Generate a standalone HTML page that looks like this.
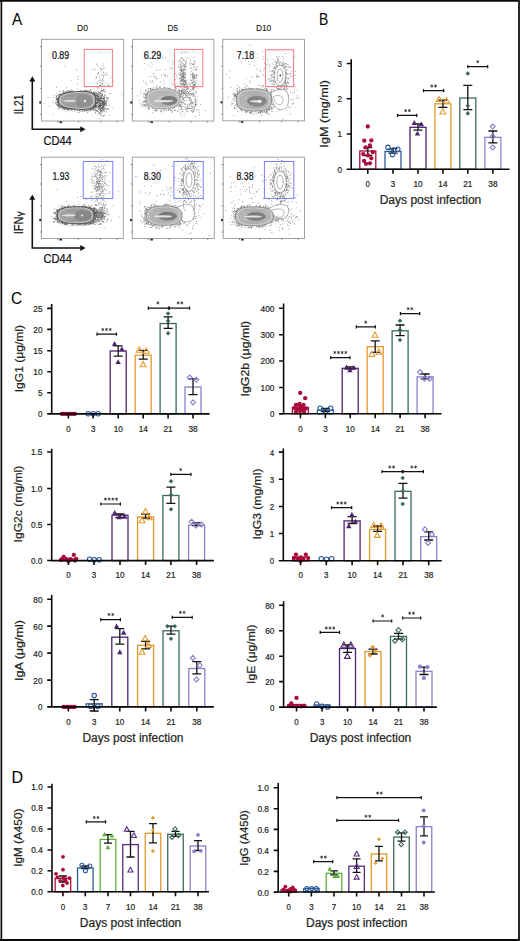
<!DOCTYPE html><html><head><meta charset="utf-8"><style>html,body{margin:0;padding:0;background:#fff;overflow:hidden}svg{display:block}text{stroke:currentColor;stroke-width:.22px;paint-order:stroke}</style></head><body><svg width="520" height="941" viewBox="0 0 520 941" font-family='"Liberation Sans", sans-serif' fill="#231f20" color="#231f20"><rect width="520" height="941" fill="#fff"/><rect x="41.5" y="39.3" width="82.2" height="81.7" fill="#fff"/><rect x="132.5" y="39.3" width="81.4" height="81.7" fill="#fff"/><rect x="222.8" y="39.3" width="81.7" height="81.5" fill="#fff"/><rect x="41.5" y="157.2" width="81.8" height="81.3" fill="#fff"/><rect x="132.3" y="157.2" width="82" height="81.3" fill="#fff"/><rect x="223.2" y="157.2" width="81.3" height="81.3" fill="#fff"/><path d="M96.3 82.2h0.85v0.85h-0.85zM103.0 72.4h0.85v0.85h-0.85zM96.0 77.3h0.85v0.85h-0.85zM101.4 90.1h0.85v0.85h-0.85zM96.4 63.8h0.85v0.85h-0.85zM102.1 83.2h0.85v0.85h-0.85zM104.6 88.8h0.85v0.85h-0.85zM99.7 75.0h0.85v0.85h-0.85zM107.7 74.8h0.85v0.85h-0.85zM97.6 65.5h0.85v0.85h-0.85zM100.3 79.6h0.85v0.85h-0.85zM99.0 77.3h0.85v0.85h-0.85zM100.8 85.6h0.85v0.85h-0.85zM103.3 80.3h0.85v0.85h-0.85zM94.6 85.7h0.85v0.85h-0.85zM95.7 76.1h0.85v0.85h-0.85zM95.6 78.0h0.85v0.85h-0.85zM97.7 80.4h0.85v0.85h-0.85zM109.9 77.5h0.85v0.85h-0.85zM102.5 63.4h0.85v0.85h-0.85zM99.1 85.3h0.85v0.85h-0.85zM99.7 82.1h0.85v0.85h-0.85zM100.3 66.9h0.85v0.85h-0.85zM101.7 69.1h0.85v0.85h-0.85zM105.6 72.4h0.85v0.85h-0.85zM102.1 78.0h0.85v0.85h-0.85zM102.9 71.4h0.85v0.85h-0.85zM103.0 76.6h0.85v0.85h-0.85zM103.8 84.9h0.85v0.85h-0.85zM100.4 69.4h0.85v0.85h-0.85zM102.3 83.1h0.85v0.85h-0.85zM104.9 73.9h0.85v0.85h-0.85zM101.7 83.6h0.85v0.85h-0.85zM100.8 80.3h0.85v0.85h-0.85zM100.5 71.4h0.85v0.85h-0.85zM97.0 73.6h0.85v0.85h-0.85zM101.8 94.6h0.85v0.85h-0.85zM102.9 89.6h0.85v0.85h-0.85zM102.3 85.7h0.85v0.85h-0.85zM100.6 86.5h0.85v0.85h-0.85zM105.3 74.4h0.85v0.85h-0.85zM97.9 99.6h0.85v0.85h-0.85zM100.7 88.7h0.85v0.85h-0.85zM102.6 65.5h0.85v0.85h-0.85zM107.3 97.5h0.85v0.85h-0.85zM100.5 86.3h0.85v0.85h-0.85zM100.4 68.3h0.85v0.85h-0.85zM99.7 82.1h0.85v0.85h-0.85zM103.3 85.8h0.85v0.85h-0.85zM100.2 92.9h0.85v0.85h-0.85zM97.7 86.7h0.85v0.85h-0.85zM103.3 74.8h0.85v0.85h-0.85zM94.6 68.0h0.85v0.85h-0.85zM100.7 83.8h0.85v0.85h-0.85zM104.6 67.0h0.85v0.85h-0.85zM100.0 85.1h0.85v0.85h-0.85zM99.5 51.9h0.85v0.85h-0.85zM102.4 103.4h0.85v0.85h-0.85zM103.0 67.9h0.85v0.85h-0.85zM98.8 80.4h0.85v0.85h-0.85zM107.5 84.8h0.85v0.85h-0.85zM100.3 95.1h0.85v0.85h-0.85zM99.8 98.5h0.85v0.85h-0.85zM97.9 72.8h0.85v0.85h-0.85zM102.2 93.7h0.85v0.85h-0.85zM102.0 81.3h0.85v0.85h-0.85zM94.5 70.2h0.85v0.85h-0.85zM98.2 72.1h0.85v0.85h-0.85zM101.8 74.3h0.85v0.85h-0.85zM102.4 78.9h0.85v0.85h-0.85zM73.3 96.4h0.85v0.85h-0.85zM88.6 105.3h0.85v0.85h-0.85zM70.4 92.2h0.85v0.85h-0.85zM52.7 114.2h0.85v0.85h-0.85zM109.0 92.9h0.85v0.85h-0.85zM70.4 80.2h0.85v0.85h-0.85zM83.4 97.5h0.85v0.85h-0.85zM64.4 65.7h0.85v0.85h-0.85zM108.2 97.3h0.85v0.85h-0.85zM47.8 97.2h0.85v0.85h-0.85zM102.4 101.9h0.85v0.85h-0.85zM76.5 69.3h0.85v0.85h-0.85zM77.5 76.3h0.85v0.85h-0.85zM91.9 69.3h0.85v0.85h-0.85zM61.8 109.6h0.85v0.85h-0.85zM112.9 80.8h0.85v0.85h-0.85zM49.3 105.6h0.85v0.85h-0.85zM97.1 83.2h0.85v0.85h-0.85zM66.1 86.7h0.85v0.85h-0.85zM56.2 86.8h0.85v0.85h-0.85zM105.0 103.3h0.85v0.85h-0.85zM121.1 94.0h0.85v0.85h-0.85zM77.3 83.2h0.85v0.85h-0.85zM77.5 79.2h0.85v0.85h-0.85zM44.5 103.4h0.85v0.85h-0.85zM108.8 105.0h0.85v0.85h-0.85zM106.6 98.0h0.85v0.85h-0.85zM65.6 96.0h0.85v0.85h-0.85z" fill="#333" fill-opacity=".6"/><path d="M67.6 91.4h0.85v0.85h-0.85zM96.3 102.7h0.85v0.85h-0.85zM86.7 110.2h0.85v0.85h-0.85zM94.0 93.5h0.85v0.85h-0.85zM87.2 112.3h0.85v0.85h-0.85zM59.3 106.7h0.85v0.85h-0.85zM94.3 110.7h0.85v0.85h-0.85zM98.2 96.0h0.85v0.85h-0.85zM59.1 102.9h0.85v0.85h-0.85zM56.0 102.2h0.85v0.85h-0.85zM96.7 99.6h0.85v0.85h-0.85zM96.0 103.4h0.85v0.85h-0.85zM68.1 108.7h0.85v0.85h-0.85zM97.9 102.7h0.85v0.85h-0.85zM93.0 108.9h0.85v0.85h-0.85zM64.6 91.6h0.85v0.85h-0.85zM67.8 92.4h0.85v0.85h-0.85zM58.1 102.1h0.85v0.85h-0.85zM73.0 109.0h0.85v0.85h-0.85zM77.8 92.1h0.85v0.85h-0.85zM98.5 92.4h0.85v0.85h-0.85zM56.7 102.7h0.85v0.85h-0.85zM58.2 108.4h0.85v0.85h-0.85zM52.6 103.4h0.85v0.85h-0.85zM70.7 91.3h0.85v0.85h-0.85zM96.1 93.1h0.85v0.85h-0.85zM57.6 98.8h0.85v0.85h-0.85zM63.3 108.6h0.85v0.85h-0.85zM58.0 98.2h0.85v0.85h-0.85zM95.5 105.1h0.85v0.85h-0.85zM65.2 108.1h0.85v0.85h-0.85zM72.0 90.2h0.85v0.85h-0.85zM101.0 95.0h0.85v0.85h-0.85zM57.3 99.3h0.85v0.85h-0.85zM59.9 91.7h0.85v0.85h-0.85zM62.2 105.4h0.85v0.85h-0.85zM84.0 110.4h0.85v0.85h-0.85zM84.2 109.3h0.85v0.85h-0.85zM56.0 92.4h0.85v0.85h-0.85zM84.3 91.2h0.85v0.85h-0.85zM67.2 90.1h0.85v0.85h-0.85zM97.1 94.6h0.85v0.85h-0.85zM95.1 110.1h0.85v0.85h-0.85zM66.8 109.5h0.85v0.85h-0.85zM97.8 94.5h0.85v0.85h-0.85zM81.2 108.9h0.85v0.85h-0.85zM63.2 107.3h0.85v0.85h-0.85zM57.0 99.7h0.85v0.85h-0.85zM56.5 97.3h0.85v0.85h-0.85zM90.0 110.2h0.85v0.85h-0.85zM59.7 91.3h0.85v0.85h-0.85zM81.1 109.7h0.85v0.85h-0.85zM94.4 94.1h0.85v0.85h-0.85zM96.8 99.9h0.85v0.85h-0.85zM79.0 110.3h0.85v0.85h-0.85zM57.5 105.1h0.85v0.85h-0.85zM60.6 105.8h0.85v0.85h-0.85zM97.1 93.1h0.85v0.85h-0.85zM57.4 99.6h0.85v0.85h-0.85zM95.9 106.1h0.85v0.85h-0.85zM55.7 96.8h0.85v0.85h-0.85zM85.8 108.3h0.85v0.85h-0.85zM95.1 95.5h0.85v0.85h-0.85zM80.0 91.7h0.85v0.85h-0.85zM55.5 99.8h0.85v0.85h-0.85zM89.6 92.7h0.85v0.85h-0.85zM74.6 91.6h0.85v0.85h-0.85zM99.2 101.7h0.85v0.85h-0.85zM68.2 90.7h0.85v0.85h-0.85zM57.4 99.7h0.85v0.85h-0.85zM74.0 110.8h0.85v0.85h-0.85zM57.6 105.9h0.85v0.85h-0.85zM67.4 91.6h0.85v0.85h-0.85zM96.1 106.8h0.85v0.85h-0.85zM98.6 101.5h0.85v0.85h-0.85zM95.8 95.3h0.85v0.85h-0.85zM63.1 90.3h0.85v0.85h-0.85zM58.5 90.4h0.85v0.85h-0.85zM99.2 97.9h0.85v0.85h-0.85zM59.6 106.2h0.85v0.85h-0.85zM61.6 107.6h0.85v0.85h-0.85zM57.2 99.4h0.85v0.85h-0.85zM97.9 100.3h0.85v0.85h-0.85zM80.7 91.2h0.85v0.85h-0.85zM89.8 108.5h0.85v0.85h-0.85zM95.4 104.7h0.85v0.85h-0.85zM56.2 98.0h0.85v0.85h-0.85zM55.6 97.0h0.85v0.85h-0.85zM69.0 109.6h0.85v0.85h-0.85zM77.4 92.3h0.85v0.85h-0.85zM76.7 88.5h0.85v0.85h-0.85zM92.9 94.3h0.85v0.85h-0.85zM96.4 98.7h0.85v0.85h-0.85zM58.1 102.7h0.85v0.85h-0.85zM59.5 93.9h0.85v0.85h-0.85zM95.1 104.6h0.85v0.85h-0.85zM57.3 104.1h0.85v0.85h-0.85zM57.1 105.0h0.85v0.85h-0.85zM99.5 99.9h0.85v0.85h-0.85zM93.8 92.4h0.85v0.85h-0.85zM64.2 106.4h0.85v0.85h-0.85zM62.1 93.2h0.85v0.85h-0.85zM77.4 111.9h0.85v0.85h-0.85zM95.1 105.8h0.85v0.85h-0.85zM60.9 93.8h0.85v0.85h-0.85zM65.7 92.5h0.85v0.85h-0.85zM61.4 106.5h0.85v0.85h-0.85zM91.1 90.7h0.85v0.85h-0.85zM86.5 90.3h0.85v0.85h-0.85zM74.9 109.7h0.85v0.85h-0.85zM63.2 91.7h0.85v0.85h-0.85zM94.6 94.7h0.85v0.85h-0.85zM93.6 107.7h0.85v0.85h-0.85zM56.5 101.4h0.85v0.85h-0.85zM82.3 90.6h0.85v0.85h-0.85zM68.3 107.7h0.85v0.85h-0.85zM71.3 109.2h0.85v0.85h-0.85zM93.7 107.7h0.85v0.85h-0.85zM98.2 92.1h0.85v0.85h-0.85zM67.7 109.5h0.85v0.85h-0.85zM95.7 94.7h0.85v0.85h-0.85zM61.6 107.8h0.85v0.85h-0.85zM86.8 110.1h0.85v0.85h-0.85zM58.7 97.3h0.85v0.85h-0.85zM92.0 92.4h0.85v0.85h-0.85zM60.1 96.2h0.85v0.85h-0.85zM86.8 90.3h0.85v0.85h-0.85zM94.7 105.1h0.85v0.85h-0.85zM94.3 106.5h0.85v0.85h-0.85zM78.7 111.9h0.85v0.85h-0.85zM57.6 97.9h0.85v0.85h-0.85zM62.4 90.8h0.85v0.85h-0.85zM70.1 90.5h0.85v0.85h-0.85zM65.0 91.3h0.85v0.85h-0.85zM90.2 89.3h0.85v0.85h-0.85zM69.8 90.6h0.85v0.85h-0.85zM58.5 106.0h0.85v0.85h-0.85zM88.3 109.5h0.85v0.85h-0.85zM69.8 108.8h0.85v0.85h-0.85zM63.5 92.9h0.85v0.85h-0.85zM98.0 106.1h0.85v0.85h-0.85zM92.9 107.7h0.85v0.85h-0.85zM79.4 109.7h0.85v0.85h-0.85zM71.5 110.3h0.85v0.85h-0.85zM65.4 109.5h0.85v0.85h-0.85zM92.9 93.1h0.85v0.85h-0.85zM56.0 96.9h0.85v0.85h-0.85zM95.9 95.5h0.85v0.85h-0.85zM56.4 99.0h0.85v0.85h-0.85zM80.5 109.4h0.85v0.85h-0.85zM61.0 106.7h0.85v0.85h-0.85zM89.4 109.4h0.85v0.85h-0.85zM93.7 91.8h0.85v0.85h-0.85zM59.1 98.8h0.85v0.85h-0.85zM96.8 100.8h0.85v0.85h-0.85zM72.8 109.0h0.85v0.85h-0.85zM52.4 101.5h0.85v0.85h-0.85zM67.8 108.8h0.85v0.85h-0.85zM98.1 93.6h0.85v0.85h-0.85zM56.0 99.1h0.85v0.85h-0.85zM68.1 108.0h0.85v0.85h-0.85zM69.6 91.7h0.85v0.85h-0.85zM94.9 109.0h0.85v0.85h-0.85zM64.7 93.2h0.85v0.85h-0.85zM71.1 92.1h0.85v0.85h-0.85zM95.9 98.9h0.85v0.85h-0.85zM62.0 93.9h0.85v0.85h-0.85zM64.5 108.3h0.85v0.85h-0.85zM76.1 108.9h0.85v0.85h-0.85zM54.1 95.0h0.85v0.85h-0.85zM88.4 92.1h0.85v0.85h-0.85zM69.7 91.9h0.85v0.85h-0.85zM88.9 91.7h0.85v0.85h-0.85zM92.5 108.5h0.85v0.85h-0.85zM96.8 93.4h0.85v0.85h-0.85zM88.4 90.5h0.85v0.85h-0.85zM58.2 105.3h0.85v0.85h-0.85zM85.6 87.5h0.85v0.85h-0.85zM97.2 102.3h0.85v0.85h-0.85zM60.6 106.6h0.85v0.85h-0.85zM87.8 91.5h0.85v0.85h-0.85zM53.1 97.0h0.85v0.85h-0.85zM89.7 108.0h0.85v0.85h-0.85zM89.0 93.2h0.85v0.85h-0.85zM62.7 94.2h0.85v0.85h-0.85zM66.8 92.3h0.85v0.85h-0.85zM62.7 107.6h0.85v0.85h-0.85zM92.6 93.8h0.85v0.85h-0.85zM60.1 97.8h0.85v0.85h-0.85zM61.7 95.8h0.85v0.85h-0.85zM69.8 108.2h0.85v0.85h-0.85zM87.2 110.0h0.85v0.85h-0.85zM100.2 104.7h0.85v0.85h-0.85zM67.3 107.9h0.85v0.85h-0.85zM58.4 107.9h0.85v0.85h-0.85zM58.8 103.2h0.85v0.85h-0.85zM58.9 96.0h0.85v0.85h-0.85zM63.9 108.8h0.85v0.85h-0.85zM65.2 90.9h0.85v0.85h-0.85zM58.3 105.0h0.85v0.85h-0.85zM78.3 92.7h0.85v0.85h-0.85zM89.5 92.7h0.85v0.85h-0.85zM56.6 95.3h0.85v0.85h-0.85zM93.5 94.1h0.85v0.85h-0.85zM71.0 89.7h0.85v0.85h-0.85zM67.4 109.2h0.85v0.85h-0.85zM93.9 108.7h0.85v0.85h-0.85zM68.0 92.3h0.85v0.85h-0.85zM68.1 110.1h0.85v0.85h-0.85zM97.1 96.0h0.85v0.85h-0.85zM59.0 104.9h0.85v0.85h-0.85zM96.9 93.5h0.85v0.85h-0.85zM96.0 110.6h0.85v0.85h-0.85zM69.2 108.5h0.85v0.85h-0.85zM93.0 92.9h0.85v0.85h-0.85zM99.0 105.0h0.85v0.85h-0.85zM65.6 111.4h0.85v0.85h-0.85zM83.8 110.8h0.85v0.85h-0.85zM95.3 92.8h0.85v0.85h-0.85zM90.4 108.6h0.85v0.85h-0.85zM84.7 109.9h0.85v0.85h-0.85zM93.0 106.8h0.85v0.85h-0.85zM94.7 93.6h0.85v0.85h-0.85zM97.2 95.0h0.85v0.85h-0.85zM83.2 110.1h0.85v0.85h-0.85zM79.8 109.1h0.85v0.85h-0.85zM59.5 107.1h0.85v0.85h-0.85zM69.5 108.4h0.85v0.85h-0.85zM71.7 109.7h0.85v0.85h-0.85zM58.0 98.3h0.85v0.85h-0.85z" fill="#333" fill-opacity=".6"/><path d="M98.7 98.6h0.85v0.85h-0.85zM101.0 114.6h0.85v0.85h-0.85zM103.4 105.0h0.85v0.85h-0.85zM101.1 96.7h0.85v0.85h-0.85zM100.2 110.7h0.85v0.85h-0.85zM103.9 115.7h0.85v0.85h-0.85zM101.9 101.9h0.85v0.85h-0.85zM95.3 104.8h0.85v0.85h-0.85zM95.0 112.7h0.85v0.85h-0.85zM98.8 102.0h0.85v0.85h-0.85zM96.3 98.5h0.85v0.85h-0.85zM97.7 109.9h0.85v0.85h-0.85zM101.9 93.7h0.85v0.85h-0.85zM94.2 101.5h0.85v0.85h-0.85zM99.3 94.2h0.85v0.85h-0.85zM103.1 100.7h0.85v0.85h-0.85zM101.4 97.9h0.85v0.85h-0.85zM99.0 98.8h0.85v0.85h-0.85zM95.4 106.4h0.85v0.85h-0.85zM102.4 89.9h0.85v0.85h-0.85zM101.4 110.1h0.85v0.85h-0.85zM101.8 111.1h0.85v0.85h-0.85zM100.1 102.0h0.85v0.85h-0.85zM96.5 95.7h0.85v0.85h-0.85zM94.6 95.7h0.85v0.85h-0.85zM101.9 105.6h0.85v0.85h-0.85zM105.1 102.9h0.85v0.85h-0.85zM97.5 105.0h0.85v0.85h-0.85zM100.5 114.5h0.85v0.85h-0.85zM107.9 108.7h0.85v0.85h-0.85zM97.0 98.3h0.85v0.85h-0.85zM101.7 97.0h0.85v0.85h-0.85zM102.8 106.8h0.85v0.85h-0.85zM103.9 103.6h0.85v0.85h-0.85zM97.9 96.1h0.85v0.85h-0.85zM100.6 111.3h0.85v0.85h-0.85zM106.5 108.8h0.85v0.85h-0.85zM102.3 106.7h0.85v0.85h-0.85zM103.9 111.0h0.85v0.85h-0.85zM104.0 91.3h0.85v0.85h-0.85zM104.3 104.7h0.85v0.85h-0.85zM99.4 105.7h0.85v0.85h-0.85zM102.0 101.6h0.85v0.85h-0.85zM95.1 102.8h0.85v0.85h-0.85zM102.9 101.7h0.85v0.85h-0.85zM95.4 105.2h0.85v0.85h-0.85zM103.5 103.3h0.85v0.85h-0.85zM102.5 99.5h0.85v0.85h-0.85zM98.7 105.7h0.85v0.85h-0.85zM99.8 103.3h0.85v0.85h-0.85zM112.4 107.0h0.85v0.85h-0.85zM101.5 90.6h0.85v0.85h-0.85zM101.3 107.3h0.85v0.85h-0.85zM98.5 100.3h0.85v0.85h-0.85zM93.1 105.9h0.85v0.85h-0.85zM98.9 106.8h0.85v0.85h-0.85zM105.8 100.9h0.85v0.85h-0.85zM104.4 103.8h0.85v0.85h-0.85zM100.3 100.0h0.85v0.85h-0.85zM98.0 111.0h0.85v0.85h-0.85zM104.1 95.0h0.85v0.85h-0.85zM103.9 96.9h0.85v0.85h-0.85zM95.7 110.4h0.85v0.85h-0.85zM96.5 110.3h0.85v0.85h-0.85zM101.7 108.3h0.85v0.85h-0.85zM102.8 110.1h0.85v0.85h-0.85zM102.2 106.0h0.85v0.85h-0.85zM101.9 109.7h0.85v0.85h-0.85zM99.6 109.1h0.85v0.85h-0.85zM106.3 101.6h0.85v0.85h-0.85zM102.5 98.4h0.85v0.85h-0.85zM100.0 103.8h0.85v0.85h-0.85zM99.8 95.8h0.85v0.85h-0.85zM100.9 103.3h0.85v0.85h-0.85zM102.1 107.0h0.85v0.85h-0.85zM94.8 111.9h0.85v0.85h-0.85zM100.4 96.6h0.85v0.85h-0.85zM99.7 105.1h0.85v0.85h-0.85zM104.0 99.4h0.85v0.85h-0.85zM101.6 90.8h0.85v0.85h-0.85zM101.6 101.2h0.85v0.85h-0.85zM99.5 108.2h0.85v0.85h-0.85zM107.3 109.2h0.85v0.85h-0.85zM98.3 112.7h0.85v0.85h-0.85zM99.8 101.7h0.85v0.85h-0.85zM99.0 105.2h0.85v0.85h-0.85zM102.9 103.0h0.85v0.85h-0.85zM100.3 101.0h0.85v0.85h-0.85zM99.6 108.8h0.85v0.85h-0.85zM99.2 101.0h0.85v0.85h-0.85zM100.3 96.8h0.85v0.85h-0.85zM100.2 91.8h0.85v0.85h-0.85zM102.4 105.8h0.85v0.85h-0.85zM100.0 112.9h0.85v0.85h-0.85zM98.1 105.9h0.85v0.85h-0.85zM102.7 98.3h0.85v0.85h-0.85zM100.2 108.2h0.85v0.85h-0.85zM101.2 104.0h0.85v0.85h-0.85zM105.9 103.5h0.85v0.85h-0.85zM95.2 96.9h0.85v0.85h-0.85zM103.9 101.1h0.85v0.85h-0.85zM97.2 88.2h0.85v0.85h-0.85zM102.1 112.5h0.85v0.85h-0.85zM96.6 86.9h0.85v0.85h-0.85zM102.7 98.2h0.85v0.85h-0.85zM100.0 99.8h0.85v0.85h-0.85zM97.9 105.1h0.85v0.85h-0.85zM104.2 104.5h0.85v0.85h-0.85zM99.1 109.2h0.85v0.85h-0.85zM100.6 106.0h0.85v0.85h-0.85zM97.7 106.6h0.85v0.85h-0.85zM103.6 111.0h0.85v0.85h-0.85zM101.1 105.1h0.85v0.85h-0.85zM99.0 108.1h0.85v0.85h-0.85zM103.7 109.5h0.85v0.85h-0.85zM99.7 93.5h0.85v0.85h-0.85zM100.8 100.6h0.85v0.85h-0.85zM98.4 106.2h0.85v0.85h-0.85zM104.3 104.7h0.85v0.85h-0.85zM104.9 104.8h0.85v0.85h-0.85zM97.6 98.0h0.85v0.85h-0.85zM99.8 106.8h0.85v0.85h-0.85zM104.2 103.0h0.85v0.85h-0.85zM104.5 96.3h0.85v0.85h-0.85zM100.6 112.4h0.85v0.85h-0.85zM102.5 109.3h0.85v0.85h-0.85zM94.5 90.5h0.85v0.85h-0.85zM98.0 109.0h0.85v0.85h-0.85zM106.6 97.7h0.85v0.85h-0.85zM97.6 95.0h0.85v0.85h-0.85zM97.9 105.9h0.85v0.85h-0.85zM99.9 115.0h0.85v0.85h-0.85zM103.5 97.3h0.85v0.85h-0.85zM101.8 101.0h0.85v0.85h-0.85zM103.7 108.3h0.85v0.85h-0.85zM99.8 108.2h0.85v0.85h-0.85zM103.0 101.4h0.85v0.85h-0.85zM101.9 106.7h0.85v0.85h-0.85zM99.9 97.4h0.85v0.85h-0.85zM105.4 102.1h0.85v0.85h-0.85zM99.0 105.2h0.85v0.85h-0.85zM95.9 102.4h0.85v0.85h-0.85zM96.3 99.1h0.85v0.85h-0.85zM94.9 97.1h0.85v0.85h-0.85zM104.1 100.8h0.85v0.85h-0.85zM96.8 114.0h0.85v0.85h-0.85zM98.8 112.2h0.85v0.85h-0.85zM99.2 92.0h0.85v0.85h-0.85zM107.4 99.1h0.85v0.85h-0.85zM103.6 110.2h0.85v0.85h-0.85zM96.5 102.5h0.85v0.85h-0.85zM99.0 106.2h0.85v0.85h-0.85zM101.0 93.3h0.85v0.85h-0.85zM101.2 107.3h0.85v0.85h-0.85zM100.0 105.9h0.85v0.85h-0.85zM99.2 101.7h0.85v0.85h-0.85zM102.2 103.0h0.85v0.85h-0.85zM105.4 108.6h0.85v0.85h-0.85zM103.9 107.0h0.85v0.85h-0.85zM101.6 94.1h0.85v0.85h-0.85zM104.7 114.0h0.85v0.85h-0.85zM101.8 100.3h0.85v0.85h-0.85zM100.9 110.3h0.85v0.85h-0.85zM102.0 95.3h0.85v0.85h-0.85zM100.4 96.8h0.85v0.85h-0.85zM100.3 95.9h0.85v0.85h-0.85zM98.0 112.2h0.85v0.85h-0.85zM104.6 91.0h0.85v0.85h-0.85zM97.7 99.0h0.85v0.85h-0.85zM99.7 92.6h0.85v0.85h-0.85zM104.1 91.0h0.85v0.85h-0.85zM103.4 106.8h0.85v0.85h-0.85zM99.8 97.6h0.85v0.85h-0.85zM101.2 103.1h0.85v0.85h-0.85zM93.8 93.5h0.85v0.85h-0.85zM102.8 101.3h0.85v0.85h-0.85zM99.6 95.3h0.85v0.85h-0.85zM98.6 96.8h0.85v0.85h-0.85zM110.6 93.5h0.85v0.85h-0.85zM106.3 105.3h0.85v0.85h-0.85zM101.8 103.4h0.85v0.85h-0.85zM99.7 113.1h0.85v0.85h-0.85zM102.8 101.9h0.85v0.85h-0.85zM100.6 103.4h0.85v0.85h-0.85zM97.1 99.9h0.85v0.85h-0.85zM98.9 106.3h0.85v0.85h-0.85zM103.1 89.3h0.85v0.85h-0.85zM100.3 108.8h0.85v0.85h-0.85zM96.6 94.0h0.85v0.85h-0.85zM104.5 101.2h0.85v0.85h-0.85zM99.5 93.7h0.85v0.85h-0.85zM101.6 98.2h0.85v0.85h-0.85zM101.8 105.0h0.85v0.85h-0.85zM103.4 99.8h0.85v0.85h-0.85zM99.2 102.3h0.85v0.85h-0.85zM100.7 103.2h0.85v0.85h-0.85zM99.2 100.4h0.85v0.85h-0.85zM99.0 98.0h0.85v0.85h-0.85zM101.6 110.0h0.85v0.85h-0.85zM99.2 106.1h0.85v0.85h-0.85zM102.2 102.8h0.85v0.85h-0.85zM103.4 98.2h0.85v0.85h-0.85zM103.0 104.1h0.85v0.85h-0.85zM89.1 104.5h0.85v0.85h-0.85zM103.1 115.4h0.85v0.85h-0.85zM97.4 102.7h0.85v0.85h-0.85zM102.2 95.4h0.85v0.85h-0.85zM105.1 105.1h0.85v0.85h-0.85zM98.3 93.8h0.85v0.85h-0.85zM99.6 118.3h0.85v0.85h-0.85zM108.4 85.1h0.85v0.85h-0.85zM94.8 106.6h0.85v0.85h-0.85zM100.7 97.7h0.85v0.85h-0.85zM103.1 102.7h0.85v0.85h-0.85zM102.0 103.9h0.85v0.85h-0.85zM97.3 111.1h0.85v0.85h-0.85zM99.5 109.8h0.85v0.85h-0.85zM103.4 102.3h0.85v0.85h-0.85zM101.5 101.7h0.85v0.85h-0.85zM94.7 99.8h0.85v0.85h-0.85zM102.5 91.0h0.85v0.85h-0.85zM95.9 109.5h0.85v0.85h-0.85zM103.8 91.4h0.85v0.85h-0.85zM102.6 101.7h0.85v0.85h-0.85zM104.4 99.8h0.85v0.85h-0.85zM100.3 96.9h0.85v0.85h-0.85zM101.6 101.2h0.85v0.85h-0.85zM98.8 99.7h0.85v0.85h-0.85zM98.4 106.3h0.85v0.85h-0.85zM97.5 91.3h0.85v0.85h-0.85zM97.7 109.5h0.85v0.85h-0.85zM99.3 106.5h0.85v0.85h-0.85zM103.6 98.5h0.85v0.85h-0.85zM103.6 105.5h0.85v0.85h-0.85zM100.9 97.2h0.85v0.85h-0.85zM100.8 93.2h0.85v0.85h-0.85zM100.1 98.0h0.85v0.85h-0.85zM102.5 104.4h0.85v0.85h-0.85zM98.8 108.0h0.85v0.85h-0.85zM105.1 102.5h0.85v0.85h-0.85zM98.5 105.5h0.85v0.85h-0.85zM92.6 98.0h0.85v0.85h-0.85zM103.0 115.8h0.85v0.85h-0.85zM98.5 112.6h0.85v0.85h-0.85zM109.1 115.0h0.85v0.85h-0.85zM92.9 109.6h0.85v0.85h-0.85zM101.7 109.0h0.85v0.85h-0.85zM100.4 97.8h0.85v0.85h-0.85zM100.2 112.4h0.85v0.85h-0.85zM103.9 100.0h0.85v0.85h-0.85zM102.3 108.0h0.85v0.85h-0.85zM103.0 101.7h0.85v0.85h-0.85zM98.7 96.9h0.85v0.85h-0.85zM99.5 98.2h0.85v0.85h-0.85zM95.5 92.2h0.85v0.85h-0.85zM104.1 94.3h0.85v0.85h-0.85zM96.5 101.7h0.85v0.85h-0.85zM106.0 110.8h0.85v0.85h-0.85zM99.6 94.9h0.85v0.85h-0.85zM99.2 95.7h0.85v0.85h-0.85z" fill="#333" fill-opacity=".6"/><path d="M99.6 104.9h0.85v0.85h-0.85zM98.4 99.9h0.85v0.85h-0.85zM100.4 102.9h0.85v0.85h-0.85zM99.1 99.9h0.85v0.85h-0.85zM98.2 100.0h0.85v0.85h-0.85zM102.3 102.0h0.85v0.85h-0.85zM93.3 105.5h0.85v0.85h-0.85zM100.8 99.5h0.85v0.85h-0.85zM100.4 91.0h0.85v0.85h-0.85zM96.9 107.6h0.85v0.85h-0.85zM106.3 111.7h0.85v0.85h-0.85zM99.2 103.2h0.85v0.85h-0.85zM102.9 98.1h0.85v0.85h-0.85zM105.3 100.1h0.85v0.85h-0.85zM101.9 98.4h0.85v0.85h-0.85zM101.9 102.9h0.85v0.85h-0.85zM103.7 98.4h0.85v0.85h-0.85zM101.0 110.3h0.85v0.85h-0.85zM98.0 104.4h0.85v0.85h-0.85zM102.1 101.0h0.85v0.85h-0.85zM100.3 108.6h0.85v0.85h-0.85zM103.8 105.3h0.85v0.85h-0.85zM101.7 98.5h0.85v0.85h-0.85zM101.2 110.2h0.85v0.85h-0.85zM103.6 97.6h0.85v0.85h-0.85zM95.8 100.4h0.85v0.85h-0.85zM101.4 100.8h0.85v0.85h-0.85zM100.2 104.4h0.85v0.85h-0.85zM103.2 103.8h0.85v0.85h-0.85zM104.1 97.3h0.85v0.85h-0.85zM102.2 104.7h0.85v0.85h-0.85zM97.3 108.0h0.85v0.85h-0.85zM97.0 97.2h0.85v0.85h-0.85zM107.7 108.2h0.85v0.85h-0.85zM101.9 108.4h0.85v0.85h-0.85zM103.9 98.5h0.85v0.85h-0.85zM102.2 108.6h0.85v0.85h-0.85zM100.6 103.3h0.85v0.85h-0.85zM99.8 105.9h0.85v0.85h-0.85zM99.6 100.6h0.85v0.85h-0.85zM97.9 99.3h0.85v0.85h-0.85zM101.6 104.9h0.85v0.85h-0.85zM100.0 98.8h0.85v0.85h-0.85zM101.9 104.4h0.85v0.85h-0.85zM104.2 101.0h0.85v0.85h-0.85zM100.0 105.1h0.85v0.85h-0.85zM104.8 102.8h0.85v0.85h-0.85zM100.8 99.2h0.85v0.85h-0.85zM100.1 106.8h0.85v0.85h-0.85zM103.1 107.5h0.85v0.85h-0.85zM96.9 106.4h0.85v0.85h-0.85zM98.7 105.4h0.85v0.85h-0.85zM95.0 102.6h0.85v0.85h-0.85zM98.8 108.1h0.85v0.85h-0.85zM101.3 108.2h0.85v0.85h-0.85zM99.9 110.9h0.85v0.85h-0.85zM99.9 110.6h0.85v0.85h-0.85zM99.8 99.1h0.85v0.85h-0.85zM103.3 101.4h0.85v0.85h-0.85zM100.9 97.6h0.85v0.85h-0.85zM100.1 103.5h0.85v0.85h-0.85zM99.2 104.6h0.85v0.85h-0.85zM95.2 106.6h0.85v0.85h-0.85zM100.0 108.9h0.85v0.85h-0.85zM100.1 100.4h0.85v0.85h-0.85zM99.9 104.1h0.85v0.85h-0.85zM102.5 101.1h0.85v0.85h-0.85zM99.0 104.7h0.85v0.85h-0.85zM103.1 96.0h0.85v0.85h-0.85zM98.4 100.3h0.85v0.85h-0.85zM105.3 108.0h0.85v0.85h-0.85zM103.0 105.0h0.85v0.85h-0.85zM98.2 107.5h0.85v0.85h-0.85zM99.9 99.8h0.85v0.85h-0.85zM105.9 97.1h0.85v0.85h-0.85zM104.5 103.8h0.85v0.85h-0.85zM98.7 103.7h0.85v0.85h-0.85zM98.9 103.8h0.85v0.85h-0.85zM99.4 98.2h0.85v0.85h-0.85zM107.7 101.0h0.85v0.85h-0.85zM103.5 102.8h0.85v0.85h-0.85zM102.7 97.9h0.85v0.85h-0.85zM98.4 89.7h0.85v0.85h-0.85zM103.5 104.8h0.85v0.85h-0.85zM98.0 106.4h0.85v0.85h-0.85zM102.5 114.9h0.85v0.85h-0.85zM101.6 106.7h0.85v0.85h-0.85zM102.6 106.1h0.85v0.85h-0.85zM100.9 101.3h0.85v0.85h-0.85zM102.8 108.0h0.85v0.85h-0.85zM98.1 98.4h0.85v0.85h-0.85zM100.9 110.3h0.85v0.85h-0.85zM100.5 96.1h0.85v0.85h-0.85zM103.1 106.1h0.85v0.85h-0.85zM105.9 103.8h0.85v0.85h-0.85zM106.0 100.1h0.85v0.85h-0.85zM103.3 103.6h0.85v0.85h-0.85zM98.0 101.9h0.85v0.85h-0.85zM104.4 107.5h0.85v0.85h-0.85zM100.1 107.5h0.85v0.85h-0.85zM103.3 106.7h0.85v0.85h-0.85zM101.7 104.3h0.85v0.85h-0.85zM98.9 102.7h0.85v0.85h-0.85zM101.3 100.0h0.85v0.85h-0.85zM100.3 103.7h0.85v0.85h-0.85zM101.6 107.3h0.85v0.85h-0.85zM98.4 101.4h0.85v0.85h-0.85zM101.7 101.5h0.85v0.85h-0.85zM101.9 101.1h0.85v0.85h-0.85zM104.0 102.1h0.85v0.85h-0.85zM98.1 106.1h0.85v0.85h-0.85zM105.2 95.2h0.85v0.85h-0.85zM100.7 103.3h0.85v0.85h-0.85zM103.6 109.1h0.85v0.85h-0.85zM100.6 96.7h0.85v0.85h-0.85zM102.7 107.1h0.85v0.85h-0.85zM102.2 103.3h0.85v0.85h-0.85zM99.0 112.9h0.85v0.85h-0.85zM98.0 96.9h0.85v0.85h-0.85zM103.5 104.2h0.85v0.85h-0.85z" fill="#333" fill-opacity=".6"/><path d="M94.3 106.4h0.85v0.85h-0.85zM57.0 100.4h0.85v0.85h-0.85zM96.2 96.3h0.85v0.85h-0.85zM68.9 108.3h0.85v0.85h-0.85zM62.2 106.8h0.85v0.85h-0.85zM58.9 104.1h0.85v0.85h-0.85zM96.3 105.2h0.85v0.85h-0.85zM93.2 107.4h0.85v0.85h-0.85zM59.1 101.7h0.85v0.85h-0.85zM60.8 105.4h0.85v0.85h-0.85zM59.3 94.6h0.85v0.85h-0.85zM68.1 108.2h0.85v0.85h-0.85zM66.7 108.8h0.85v0.85h-0.85zM93.8 107.2h0.85v0.85h-0.85zM85.8 89.9h0.85v0.85h-0.85zM68.2 93.5h0.85v0.85h-0.85zM88.8 92.1h0.85v0.85h-0.85zM63.1 93.3h0.85v0.85h-0.85zM95.8 105.4h0.85v0.85h-0.85zM97.4 102.4h0.85v0.85h-0.85zM57.9 94.6h0.85v0.85h-0.85zM96.9 98.4h0.85v0.85h-0.85zM83.6 89.9h0.85v0.85h-0.85zM58.7 104.7h0.85v0.85h-0.85zM73.8 92.1h0.85v0.85h-0.85zM57.3 97.2h0.85v0.85h-0.85zM67.1 109.3h0.85v0.85h-0.85zM58.7 104.9h0.85v0.85h-0.85zM92.0 108.8h0.85v0.85h-0.85zM61.5 105.2h0.85v0.85h-0.85zM57.2 101.2h0.85v0.85h-0.85zM75.4 92.2h0.85v0.85h-0.85zM85.0 109.0h0.85v0.85h-0.85zM56.2 99.2h0.85v0.85h-0.85zM90.3 90.0h0.85v0.85h-0.85zM65.9 107.5h0.85v0.85h-0.85zM73.6 109.0h0.85v0.85h-0.85zM86.9 92.3h0.85v0.85h-0.85zM57.7 105.9h0.85v0.85h-0.85zM57.9 103.4h0.85v0.85h-0.85zM78.3 91.3h0.85v0.85h-0.85zM68.2 92.0h0.85v0.85h-0.85zM65.8 108.6h0.85v0.85h-0.85zM95.5 107.3h0.85v0.85h-0.85zM85.5 110.9h0.85v0.85h-0.85zM59.7 94.6h0.85v0.85h-0.85zM68.0 91.6h0.85v0.85h-0.85zM90.9 91.6h0.85v0.85h-0.85zM77.5 110.0h0.85v0.85h-0.85zM76.5 110.1h0.85v0.85h-0.85zM73.1 107.7h0.85v0.85h-0.85zM89.6 107.8h0.85v0.85h-0.85zM59.4 93.3h0.85v0.85h-0.85zM94.4 94.2h0.85v0.85h-0.85zM95.9 105.1h0.85v0.85h-0.85zM57.2 104.3h0.85v0.85h-0.85zM96.6 95.3h0.85v0.85h-0.85zM97.0 97.1h0.85v0.85h-0.85zM63.7 93.0h0.85v0.85h-0.85zM93.2 108.0h0.85v0.85h-0.85zM93.1 92.3h0.85v0.85h-0.85zM60.5 96.2h0.85v0.85h-0.85zM89.5 93.0h0.85v0.85h-0.85zM86.3 109.4h0.85v0.85h-0.85zM58.4 100.0h0.85v0.85h-0.85zM94.0 106.3h0.85v0.85h-0.85zM96.1 97.5h0.85v0.85h-0.85zM70.5 91.3h0.85v0.85h-0.85zM97.0 95.9h0.85v0.85h-0.85zM57.4 100.9h0.85v0.85h-0.85zM58.7 94.6h0.85v0.85h-0.85zM96.4 96.8h0.85v0.85h-0.85zM91.2 93.8h0.85v0.85h-0.85zM66.9 92.4h0.85v0.85h-0.85zM78.8 92.6h0.85v0.85h-0.85zM96.9 97.3h0.85v0.85h-0.85zM65.7 107.7h0.85v0.85h-0.85zM58.7 95.3h0.85v0.85h-0.85zM66.2 92.8h0.85v0.85h-0.85zM90.0 109.4h0.85v0.85h-0.85zM83.4 91.0h0.85v0.85h-0.85zM57.5 99.8h0.85v0.85h-0.85zM87.0 108.7h0.85v0.85h-0.85zM65.6 91.4h0.85v0.85h-0.85zM93.6 106.1h0.85v0.85h-0.85zM96.8 99.5h0.85v0.85h-0.85zM94.8 94.6h0.85v0.85h-0.85zM82.7 91.5h0.85v0.85h-0.85zM62.7 106.4h0.85v0.85h-0.85zM88.3 91.0h0.85v0.85h-0.85zM60.3 107.5h0.85v0.85h-0.85zM93.6 92.5h0.85v0.85h-0.85zM64.5 107.4h0.85v0.85h-0.85zM87.8 111.5h0.85v0.85h-0.85zM90.9 92.5h0.85v0.85h-0.85zM91.9 109.2h0.85v0.85h-0.85zM95.3 106.2h0.85v0.85h-0.85zM87.3 109.7h0.85v0.85h-0.85zM56.1 95.9h0.85v0.85h-0.85zM94.5 106.5h0.85v0.85h-0.85zM66.8 107.9h0.85v0.85h-0.85zM65.7 107.5h0.85v0.85h-0.85zM84.4 89.8h0.85v0.85h-0.85zM57.4 104.4h0.85v0.85h-0.85zM98.2 97.7h0.85v0.85h-0.85zM89.1 109.7h0.85v0.85h-0.85zM83.8 110.0h0.85v0.85h-0.85zM63.2 93.0h0.85v0.85h-0.85zM95.9 102.0h0.85v0.85h-0.85zM60.6 107.5h0.85v0.85h-0.85zM67.4 108.2h0.85v0.85h-0.85zM57.5 97.7h0.85v0.85h-0.85zM95.4 95.1h0.85v0.85h-0.85zM88.3 109.7h0.85v0.85h-0.85zM71.0 109.1h0.85v0.85h-0.85zM90.6 109.3h0.85v0.85h-0.85zM93.1 106.3h0.85v0.85h-0.85zM94.0 94.7h0.85v0.85h-0.85zM96.9 100.0h0.85v0.85h-0.85zM58.4 103.5h0.85v0.85h-0.85zM54.7 102.0h0.85v0.85h-0.85zM95.3 106.3h0.85v0.85h-0.85zM87.5 92.4h0.85v0.85h-0.85zM57.5 104.3h0.85v0.85h-0.85zM57.2 101.8h0.85v0.85h-0.85zM64.3 108.3h0.85v0.85h-0.85zM87.4 92.2h0.85v0.85h-0.85zM84.7 90.0h0.85v0.85h-0.85zM86.4 90.9h0.85v0.85h-0.85zM95.6 94.6h0.85v0.85h-0.85zM63.9 108.8h0.85v0.85h-0.85zM63.5 93.5h0.85v0.85h-0.85zM94.8 108.2h0.85v0.85h-0.85zM68.3 90.5h0.85v0.85h-0.85zM61.8 95.0h0.85v0.85h-0.85zM81.2 89.8h0.85v0.85h-0.85zM57.5 95.4h0.85v0.85h-0.85zM64.5 107.2h0.85v0.85h-0.85zM85.2 91.6h0.85v0.85h-0.85zM55.9 99.3h0.85v0.85h-0.85zM86.1 110.2h0.85v0.85h-0.85zM95.1 94.7h0.85v0.85h-0.85zM96.7 96.0h0.85v0.85h-0.85zM70.7 109.2h0.85v0.85h-0.85zM96.0 102.8h0.85v0.85h-0.85zM77.4 110.1h0.85v0.85h-0.85zM79.3 109.9h0.85v0.85h-0.85zM58.9 98.1h0.85v0.85h-0.85zM59.7 103.8h0.85v0.85h-0.85zM91.3 108.3h0.85v0.85h-0.85zM79.8 91.8h0.85v0.85h-0.85zM74.5 109.1h0.85v0.85h-0.85zM58.5 98.6h0.85v0.85h-0.85zM58.6 98.1h0.85v0.85h-0.85zM73.3 91.0h0.85v0.85h-0.85zM56.7 103.7h0.85v0.85h-0.85zM55.1 102.8h0.85v0.85h-0.85zM72.9 108.3h0.85v0.85h-0.85zM92.9 108.5h0.85v0.85h-0.85zM63.0 92.3h0.85v0.85h-0.85zM95.0 104.9h0.85v0.85h-0.85zM96.7 102.5h0.85v0.85h-0.85zM56.6 103.4h0.85v0.85h-0.85zM58.5 96.9h0.85v0.85h-0.85zM92.4 108.2h0.85v0.85h-0.85zM58.3 106.3h0.85v0.85h-0.85zM74.2 108.7h0.85v0.85h-0.85zM58.5 104.4h0.85v0.85h-0.85zM61.9 94.1h0.85v0.85h-0.85zM57.4 102.1h0.85v0.85h-0.85zM59.0 107.6h0.85v0.85h-0.85zM65.4 92.0h0.85v0.85h-0.85zM71.4 90.8h0.85v0.85h-0.85zM64.0 94.0h0.85v0.85h-0.85zM57.3 97.5h0.85v0.85h-0.85zM60.0 104.6h0.85v0.85h-0.85zM62.2 95.0h0.85v0.85h-0.85zM94.4 94.7h0.85v0.85h-0.85zM86.9 90.7h0.85v0.85h-0.85zM79.8 90.2h0.85v0.85h-0.85zM75.7 107.6h0.85v0.85h-0.85zM91.6 108.1h0.85v0.85h-0.85zM72.2 90.8h0.85v0.85h-0.85zM58.0 101.7h0.85v0.85h-0.85zM92.7 93.7h0.85v0.85h-0.85zM90.4 108.5h0.85v0.85h-0.85zM56.6 98.6h0.85v0.85h-0.85zM79.7 91.6h0.85v0.85h-0.85zM66.8 91.8h0.85v0.85h-0.85zM63.1 107.2h0.85v0.85h-0.85zM62.0 106.2h0.85v0.85h-0.85zM97.1 95.1h0.85v0.85h-0.85zM94.3 108.4h0.85v0.85h-0.85zM57.1 101.3h0.85v0.85h-0.85zM86.8 91.2h0.85v0.85h-0.85zM64.5 108.1h0.85v0.85h-0.85zM58.5 102.7h0.85v0.85h-0.85zM60.5 94.3h0.85v0.85h-0.85zM81.9 110.1h0.85v0.85h-0.85zM58.0 104.5h0.85v0.85h-0.85zM93.8 93.9h0.85v0.85h-0.85zM84.3 109.4h0.85v0.85h-0.85zM81.9 109.6h0.85v0.85h-0.85zM69.6 92.8h0.85v0.85h-0.85zM58.1 98.0h0.85v0.85h-0.85zM95.1 98.0h0.85v0.85h-0.85zM94.9 105.1h0.85v0.85h-0.85zM72.0 108.4h0.85v0.85h-0.85zM66.4 107.8h0.85v0.85h-0.85zM63.3 107.6h0.85v0.85h-0.85zM74.4 109.1h0.85v0.85h-0.85zM93.1 107.0h0.85v0.85h-0.85zM58.3 99.3h0.85v0.85h-0.85zM63.7 91.9h0.85v0.85h-0.85zM59.6 104.7h0.85v0.85h-0.85zM58.6 96.8h0.85v0.85h-0.85zM82.2 110.9h0.85v0.85h-0.85zM61.8 94.7h0.85v0.85h-0.85zM91.1 92.0h0.85v0.85h-0.85zM56.0 104.2h0.85v0.85h-0.85zM94.4 92.1h0.85v0.85h-0.85zM78.7 109.3h0.85v0.85h-0.85zM58.4 97.2h0.85v0.85h-0.85zM94.7 105.9h0.85v0.85h-0.85zM91.4 109.7h0.85v0.85h-0.85zM94.9 95.9h0.85v0.85h-0.85zM59.7 94.0h0.85v0.85h-0.85zM66.3 93.4h0.85v0.85h-0.85zM58.5 97.3h0.85v0.85h-0.85zM82.2 109.0h0.85v0.85h-0.85zM93.8 106.4h0.85v0.85h-0.85zM93.0 106.7h0.85v0.85h-0.85zM85.5 91.7h0.85v0.85h-0.85zM84.8 91.8h0.85v0.85h-0.85zM96.9 103.8h0.85v0.85h-0.85zM74.9 108.8h0.85v0.85h-0.85zM60.4 93.9h0.85v0.85h-0.85zM61.8 106.0h0.85v0.85h-0.85zM71.5 92.3h0.85v0.85h-0.85zM72.5 108.3h0.85v0.85h-0.85zM95.3 105.1h0.85v0.85h-0.85zM69.0 91.1h0.85v0.85h-0.85zM62.1 93.5h0.85v0.85h-0.85zM57.7 101.7h0.85v0.85h-0.85zM99.4 104.9h0.85v0.85h-0.85zM89.2 108.1h0.85v0.85h-0.85zM87.7 109.9h0.85v0.85h-0.85zM80.2 111.0h0.85v0.85h-0.85zM94.1 106.2h0.85v0.85h-0.85zM89.3 90.9h0.85v0.85h-0.85zM79.3 91.7h0.85v0.85h-0.85zM89.1 109.1h0.85v0.85h-0.85zM92.1 94.0h0.85v0.85h-0.85zM60.6 94.8h0.85v0.85h-0.85zM92.8 107.7h0.85v0.85h-0.85zM63.4 94.0h0.85v0.85h-0.85zM58.3 97.2h0.85v0.85h-0.85zM61.0 106.3h0.85v0.85h-0.85zM62.1 95.8h0.85v0.85h-0.85zM59.7 96.1h0.85v0.85h-0.85zM96.1 95.4h0.85v0.85h-0.85zM69.7 91.6h0.85v0.85h-0.85zM71.8 109.1h0.85v0.85h-0.85zM96.5 94.9h0.85v0.85h-0.85zM89.5 93.4h0.85v0.85h-0.85zM90.5 93.3h0.85v0.85h-0.85zM96.3 98.3h0.85v0.85h-0.85zM90.0 89.3h0.85v0.85h-0.85zM91.6 109.7h0.85v0.85h-0.85zM96.1 105.3h0.85v0.85h-0.85zM66.2 107.1h0.85v0.85h-0.85zM96.6 99.4h0.85v0.85h-0.85zM69.2 92.4h0.85v0.85h-0.85zM64.2 108.2h0.85v0.85h-0.85zM96.7 101.6h0.85v0.85h-0.85zM94.5 104.9h0.85v0.85h-0.85zM56.7 102.5h0.85v0.85h-0.85zM66.6 108.5h0.85v0.85h-0.85zM74.9 91.4h0.85v0.85h-0.85zM97.7 97.8h0.85v0.85h-0.85zM89.6 109.8h0.85v0.85h-0.85zM57.0 94.4h0.85v0.85h-0.85zM95.2 103.9h0.85v0.85h-0.85zM66.0 92.1h0.85v0.85h-0.85zM62.1 107.5h0.85v0.85h-0.85zM95.7 103.4h0.85v0.85h-0.85zM57.8 98.2h0.85v0.85h-0.85zM92.2 107.2h0.85v0.85h-0.85zM93.2 93.2h0.85v0.85h-0.85zM97.0 98.7h0.85v0.85h-0.85zM63.0 93.6h0.85v0.85h-0.85zM60.3 95.0h0.85v0.85h-0.85zM96.7 104.5h0.85v0.85h-0.85zM85.3 90.2h0.85v0.85h-0.85zM57.2 100.4h0.85v0.85h-0.85zM59.9 106.0h0.85v0.85h-0.85zM97.3 101.1h0.85v0.85h-0.85zM90.6 109.4h0.85v0.85h-0.85zM60.4 94.9h0.85v0.85h-0.85zM93.4 93.1h0.85v0.85h-0.85z" fill="#333" fill-opacity=".6"/><path d="M95.7 100.4 95.56 102.81 95.15 104.32 94.47 105.57 93.51 106.61 92.29 107.48 90.79 108.17 89.01 108.71 86.93 109.07 84.51 109.27 81.59 109.3 77 109.1 72.41 108.77 69.49 108.42 67.07 107.98 64.99 107.46 63.21 106.85 61.71 106.15 60.49 105.36 59.53 104.48 58.85 103.47 58.44 102.27 58.3 100.4 58.44 98.53 58.85 97.33 59.53 96.32 60.49 95.44 61.71 94.65 63.21 93.95 64.99 93.34 67.07 92.82 69.49 92.38 72.41 92.03 77 91.7 81.59 91.5 84.51 91.53 86.93 91.73 89.01 92.09 90.79 92.63 92.29 93.32 93.51 94.19 94.47 95.23 95.15 96.48 95.56 97.99Z" fill="#a8a8a8" stroke="#333" stroke-width=".8"/><path d="M93.83 100.4 93.71 102.56 93.34 103.93 92.72 105.05 91.86 105.99 90.76 106.77 89.41 107.4 87.81 107.88 85.94 108.21 83.76 108.39 81.13 108.41 77 108.23 72.87 107.93 70.24 107.61 68.06 107.22 66.19 106.75 64.59 106.2 63.24 105.58 62.14 104.87 61.28 104.07 60.66 103.16 60.29 102.08 60.17 100.4 60.29 98.72 60.66 97.64 61.28 96.73 62.14 95.93 63.24 95.22 64.59 94.6 66.19 94.05 68.06 93.58 70.24 93.19 72.87 92.87 77 92.57 81.13 92.39 83.76 92.41 85.94 92.59 87.81 92.92 89.41 93.4 90.76 94.03 91.86 94.81 92.72 95.75 93.34 96.87 93.71 98.24Z" fill="none" stroke="#d8d8d8" stroke-width=".6"/><ellipse cx="84" cy="101" rx="9" ry="6.5" fill="#929292"/><path d="M91.21 100.4 91.11 102.23 90.8 103.38 90.28 104.33 89.55 105.12 88.62 105.78 87.48 106.31 86.13 106.71 84.55 106.99 82.71 107.14 80.49 107.17 77 107.01 73.51 106.76 71.29 106.49 69.45 106.16 67.87 105.76 66.52 105.3 65.38 104.77 64.45 104.17 63.72 103.5 63.2 102.73 62.89 101.82 62.79 100.4 62.89 98.98 63.2 98.07 63.72 97.3 64.45 96.63 65.38 96.03 66.52 95.5 67.87 95.04 69.45 94.64 71.29 94.31 73.51 94.04 77 93.79 80.49 93.63 82.71 93.66 84.55 93.81 86.13 94.09 87.48 94.49 88.62 95.02 89.55 95.68 90.28 96.47 90.8 97.42 91.11 98.57ZM88.97 100.4 88.88 101.94 88.62 102.91 88.18 103.71 87.57 104.38 86.78 104.93 85.82 105.38 84.69 105.72 83.36 105.95 81.81 106.08 79.94 106.1 77 105.97 74.06 105.76 72.19 105.53 70.64 105.25 69.31 104.92 68.18 104.53 67.22 104.08 66.43 103.58 65.82 103.01 65.38 102.36 65.12 101.6 65.03 100.4 65.12 99.2 65.38 98.44 65.82 97.79 66.43 97.22 67.22 96.72 68.18 96.27 69.31 95.88 70.64 95.55 72.19 95.27 74.06 95.04 77 94.83 79.94 94.7 81.81 94.72 83.36 94.85 84.69 95.08 85.82 95.42 86.78 95.87 87.57 96.42 88.18 97.09 88.62 97.89 88.88 98.86ZM86.72 100.4 86.65 101.65 86.44 102.44 86.08 103.09 85.59 103.63 84.95 104.08 84.17 104.44 83.25 104.72 82.17 104.91 80.91 105.01 79.39 105.03 77 104.92 74.61 104.75 73.09 104.57 71.83 104.34 70.75 104.07 69.83 103.75 69.05 103.39 68.41 102.98 67.92 102.52 67.56 101.99 67.35 101.37 67.28 100.4 67.35 99.43 67.56 98.81 67.92 98.28 68.41 97.82 69.05 97.41 69.83 97.05 70.75 96.73 71.83 96.46 73.09 96.23 74.61 96.05 77 95.88 79.39 95.77 80.91 95.79 82.17 95.89 83.25 96.08 84.17 96.36 84.95 96.72 85.59 97.17 86.08 97.71 86.44 98.36 86.65 99.15ZM84.48 100.4 84.43 101.36 84.26 101.97 83.99 102.47 83.6 102.88 83.11 103.23 82.51 103.51 81.8 103.72 80.97 103.87 80 103.95 78.84 103.96 77 103.88 75.16 103.75 74 103.61 73.03 103.43 72.2 103.22 71.49 102.98 70.89 102.7 70.4 102.39 70.01 102.03 69.74 101.63 69.57 101.15 69.52 100.4 69.57 99.65 69.74 99.17 70.01 98.77 70.4 98.41 70.89 98.1 71.49 97.82 72.2 97.58 73.03 97.37 74 97.19 75.16 97.05 77 96.92 78.84 96.84 80 96.85 80.97 96.93 81.8 97.08 82.51 97.29 83.11 97.57 83.6 97.92 83.99 98.33 84.26 98.83 84.43 99.44Z" fill="none" stroke="#868686" stroke-width=".4"/><ellipse cx="70" cy="100.8" rx="7" ry=".9" fill="#e4e4e4"/><circle cx="85" cy="101" r="1.2" fill="#fafafa"/><rect x="41.5" y="39.3" width="82.2" height="81.7" fill="none" stroke="#999" stroke-width=".9"/><path d="M39.9 46.65h1.6M39.9 66.26h1.6M39.9 88.32h1.6M39.9 114.46h1.6M57.94 121v1.6M78.49 121v1.6M100.68 121v1.6M117.12 121v1.6" stroke="#666" stroke-width=".7"/><path d="M40.6 45.67h.9M40.6 47.63h.9M40.6 49.59h.9M40.6 51.55h.9M40.6 53.52h.9M40.6 55.48h.9M40.6 57.44h.9M40.6 59.4h.9M40.6 61.36h.9M40.6 63.32h.9M40.6 65.28h.9M40.6 67.24h.9M40.6 69.2h.9M40.6 71.16h.9M40.6 73.12h.9M40.6 75.08h.9M40.6 77.05h.9M40.6 79.01h.9M40.6 80.97h.9M40.6 82.93h.9M40.6 84.89h.9M40.6 86.85h.9M40.6 88.81h.9M40.6 90.77h.9M40.6 92.73h.9M40.6 94.69h.9M40.6 96.65h.9M40.6 98.61h.9M40.6 100.58h.9M40.6 102.54h.9M40.6 104.5h.9M40.6 106.46h.9M40.6 108.42h.9M40.6 110.38h.9M40.6 112.34h.9M40.6 114.3h.9M40.6 116.26h.9M40.6 118.22h.9" stroke="#aaa" stroke-width=".4"/><rect x="39.3" y="101.39" width="1.8" height="2.2" fill="#222"/><rect x="59.58" y="121.4" width="2.6" height="1.6" fill="#222"/><rect x="84.2" y="49.4" width="28.2" height="37.2" fill="none" stroke="#ff7882" stroke-width="1"/><text x="52" y="59" font-size="10" fill="#111" color="#111" textLength="17.2" lengthAdjust="spacingAndGlyphs">0.89</text><path d="M172.1 63.7h0.85v0.85h-0.85zM165.1 76.4h0.85v0.85h-0.85zM178.0 60.4h0.85v0.85h-0.85zM179.3 78.5h0.85v0.85h-0.85zM163.4 83.6h0.85v0.85h-0.85zM156.4 69.8h0.85v0.85h-0.85zM171.6 68.1h0.85v0.85h-0.85zM175.1 87.0h0.85v0.85h-0.85zM163.0 73.9h0.85v0.85h-0.85zM150.9 61.9h0.85v0.85h-0.85zM180.1 60.6h0.85v0.85h-0.85zM161.1 75.2h0.85v0.85h-0.85zM147.4 64.5h0.85v0.85h-0.85zM150.1 95.3h0.85v0.85h-0.85zM165.2 87.3h0.85v0.85h-0.85zM188.4 83.1h0.85v0.85h-0.85zM178.4 67.2h0.85v0.85h-0.85zM150.4 88.0h0.85v0.85h-0.85zM180.5 60.8h0.85v0.85h-0.85zM176.0 75.3h0.85v0.85h-0.85zM171.2 82.7h0.85v0.85h-0.85zM186.6 65.2h0.85v0.85h-0.85zM160.1 85.9h0.85v0.85h-0.85zM156.5 78.1h0.85v0.85h-0.85zM159.1 53.4h0.85v0.85h-0.85zM152.4 81.8h0.85v0.85h-0.85zM152.5 55.3h0.85v0.85h-0.85zM153.2 73.3h0.85v0.85h-0.85zM167.0 75.8h0.85v0.85h-0.85zM167.6 60.6h0.85v0.85h-0.85zM151.8 63.7h0.85v0.85h-0.85zM154.1 77.0h0.85v0.85h-0.85zM178.9 69.6h0.85v0.85h-0.85zM175.1 84.4h0.85v0.85h-0.85zM144.2 63.2h0.85v0.85h-0.85zM162.4 57.1h0.85v0.85h-0.85zM186.4 51.6h0.85v0.85h-0.85zM143.1 80.8h0.85v0.85h-0.85zM149.9 80.0h0.85v0.85h-0.85zM146.5 83.8h0.85v0.85h-0.85zM152.2 80.2h0.85v0.85h-0.85zM174.3 55.8h0.85v0.85h-0.85zM147.9 53.0h0.85v0.85h-0.85zM144.8 82.4h0.85v0.85h-0.85zM159.9 81.6h0.85v0.85h-0.85zM180.2 83.6h0.85v0.85h-0.85zM170.5 67.6h0.85v0.85h-0.85zM155.0 75.8h0.85v0.85h-0.85zM172.5 84.2h0.85v0.85h-0.85zM164.6 69.1h0.85v0.85h-0.85zM159.3 90.6h0.85v0.85h-0.85zM164.3 94.3h0.85v0.85h-0.85zM150.5 81.9h0.85v0.85h-0.85zM163.5 80.7h0.85v0.85h-0.85zM149.9 76.1h0.85v0.85h-0.85zM159.5 69.3h0.85v0.85h-0.85zM143.8 56.8h0.85v0.85h-0.85zM155.8 78.4h0.85v0.85h-0.85zM164.1 75.0h0.85v0.85h-0.85zM165.0 57.6h0.85v0.85h-0.85zM175.3 73.1h0.85v0.85h-0.85zM150.0 66.4h0.85v0.85h-0.85zM174.3 74.5h0.85v0.85h-0.85zM137.3 95.4h0.85v0.85h-0.85zM139.9 91.2h0.85v0.85h-0.85zM172.4 61.4h0.85v0.85h-0.85zM177.9 86.2h0.85v0.85h-0.85zM175.1 79.5h0.85v0.85h-0.85zM165.1 74.8h0.85v0.85h-0.85zM153.1 75.4h0.85v0.85h-0.85zM196.6 109.7h0.85v0.85h-0.85zM200.0 104.0h0.85v0.85h-0.85zM190.4 104.2h0.85v0.85h-0.85zM181.5 111.2h0.85v0.85h-0.85zM188.6 107.9h0.85v0.85h-0.85zM184.9 109.2h0.85v0.85h-0.85zM182.1 109.4h0.85v0.85h-0.85zM187.6 105.2h0.85v0.85h-0.85zM192.3 102.8h0.85v0.85h-0.85zM192.3 111.2h0.85v0.85h-0.85zM192.8 110.7h0.85v0.85h-0.85zM194.2 109.1h0.85v0.85h-0.85zM184.8 111.7h0.85v0.85h-0.85zM186.3 108.7h0.85v0.85h-0.85zM190.8 106.5h0.85v0.85h-0.85zM195.1 104.0h0.85v0.85h-0.85zM196.3 110.0h0.85v0.85h-0.85zM198.7 114.6h0.85v0.85h-0.85zM193.6 111.3h0.85v0.85h-0.85zM190.8 104.7h0.85v0.85h-0.85zM187.4 106.4h0.85v0.85h-0.85zM186.7 109.7h0.85v0.85h-0.85zM186.3 110.7h0.85v0.85h-0.85zM188.9 108.3h0.85v0.85h-0.85zM192.2 112.0h0.85v0.85h-0.85zM183.5 108.9h0.85v0.85h-0.85zM204.8 110.2h0.85v0.85h-0.85zM192.5 106.6h0.85v0.85h-0.85zM195.1 116.3h0.85v0.85h-0.85zM193.1 109.6h0.85v0.85h-0.85z" fill="#333" fill-opacity=".6"/><path d="M163.4 87.4h0.85v0.85h-0.85zM174.2 109.7h0.85v0.85h-0.85zM179.2 91.8h0.85v0.85h-0.85zM150.2 88.5h0.85v0.85h-0.85zM144.5 104.0h0.85v0.85h-0.85zM153.4 87.7h0.85v0.85h-0.85zM146.8 93.1h0.85v0.85h-0.85zM181.9 102.4h0.85v0.85h-0.85zM179.4 93.9h0.85v0.85h-0.85zM154.3 110.1h0.85v0.85h-0.85zM174.6 89.4h0.85v0.85h-0.85zM166.1 89.6h0.85v0.85h-0.85zM169.8 87.8h0.85v0.85h-0.85zM159.5 87.1h0.85v0.85h-0.85zM148.3 109.3h0.85v0.85h-0.85zM181.5 90.5h0.85v0.85h-0.85zM184.3 93.2h0.85v0.85h-0.85zM179.6 109.0h0.85v0.85h-0.85zM173.7 90.5h0.85v0.85h-0.85zM143.4 97.5h0.85v0.85h-0.85zM155.5 110.7h0.85v0.85h-0.85zM181.3 106.0h0.85v0.85h-0.85zM152.4 108.3h0.85v0.85h-0.85zM145.1 95.1h0.85v0.85h-0.85zM155.6 110.4h0.85v0.85h-0.85zM147.7 107.8h0.85v0.85h-0.85zM156.4 109.4h0.85v0.85h-0.85zM180.9 100.5h0.85v0.85h-0.85zM146.2 104.3h0.85v0.85h-0.85zM143.7 93.6h0.85v0.85h-0.85zM163.5 86.7h0.85v0.85h-0.85zM157.4 85.5h0.85v0.85h-0.85zM143.2 95.7h0.85v0.85h-0.85zM183.8 103.4h0.85v0.85h-0.85zM147.7 91.3h0.85v0.85h-0.85zM180.1 95.1h0.85v0.85h-0.85zM174.2 107.1h0.85v0.85h-0.85zM178.8 90.5h0.85v0.85h-0.85zM158.6 86.9h0.85v0.85h-0.85zM156.5 88.2h0.85v0.85h-0.85zM179.5 93.0h0.85v0.85h-0.85zM178.6 104.9h0.85v0.85h-0.85zM177.8 107.2h0.85v0.85h-0.85zM151.6 108.7h0.85v0.85h-0.85zM141.5 106.5h0.85v0.85h-0.85zM174.2 88.9h0.85v0.85h-0.85zM143.6 101.7h0.85v0.85h-0.85zM151.8 111.9h0.85v0.85h-0.85zM168.1 109.3h0.85v0.85h-0.85zM165.1 107.8h0.85v0.85h-0.85zM160.5 112.9h0.85v0.85h-0.85zM145.4 100.6h0.85v0.85h-0.85zM146.3 97.3h0.85v0.85h-0.85zM150.4 90.9h0.85v0.85h-0.85zM170.7 110.4h0.85v0.85h-0.85zM175.5 88.2h0.85v0.85h-0.85zM144.0 93.2h0.85v0.85h-0.85zM184.6 103.8h0.85v0.85h-0.85zM138.7 99.9h0.85v0.85h-0.85zM151.8 88.7h0.85v0.85h-0.85zM147.7 88.0h0.85v0.85h-0.85zM142.0 103.7h0.85v0.85h-0.85zM153.4 89.5h0.85v0.85h-0.85zM164.4 109.3h0.85v0.85h-0.85zM144.8 105.4h0.85v0.85h-0.85zM175.2 90.0h0.85v0.85h-0.85zM148.5 91.7h0.85v0.85h-0.85zM180.3 102.4h0.85v0.85h-0.85zM150.1 88.9h0.85v0.85h-0.85zM181.1 97.5h0.85v0.85h-0.85zM145.6 89.6h0.85v0.85h-0.85zM182.0 98.8h0.85v0.85h-0.85zM183.5 97.0h0.85v0.85h-0.85zM139.1 103.4h0.85v0.85h-0.85zM181.6 100.9h0.85v0.85h-0.85zM158.7 108.5h0.85v0.85h-0.85zM155.1 108.4h0.85v0.85h-0.85zM170.0 89.7h0.85v0.85h-0.85zM171.2 109.9h0.85v0.85h-0.85zM177.3 92.5h0.85v0.85h-0.85zM146.6 96.9h0.85v0.85h-0.85zM157.7 108.2h0.85v0.85h-0.85zM153.6 86.7h0.85v0.85h-0.85zM176.4 106.0h0.85v0.85h-0.85zM179.9 96.7h0.85v0.85h-0.85zM148.5 92.5h0.85v0.85h-0.85zM146.8 97.3h0.85v0.85h-0.85zM152.7 89.8h0.85v0.85h-0.85zM154.6 108.7h0.85v0.85h-0.85zM185.9 96.4h0.85v0.85h-0.85zM161.8 108.9h0.85v0.85h-0.85zM178.3 105.6h0.85v0.85h-0.85zM157.8 88.9h0.85v0.85h-0.85zM177.8 90.5h0.85v0.85h-0.85zM143.1 104.9h0.85v0.85h-0.85zM179.2 92.8h0.85v0.85h-0.85zM157.6 88.6h0.85v0.85h-0.85zM144.4 106.0h0.85v0.85h-0.85zM156.4 109.7h0.85v0.85h-0.85zM173.7 109.7h0.85v0.85h-0.85zM163.6 87.1h0.85v0.85h-0.85zM179.3 102.5h0.85v0.85h-0.85zM180.4 94.9h0.85v0.85h-0.85zM180.6 101.8h0.85v0.85h-0.85zM148.6 108.1h0.85v0.85h-0.85zM180.6 106.9h0.85v0.85h-0.85zM179.3 89.4h0.85v0.85h-0.85zM175.4 87.3h0.85v0.85h-0.85zM177.3 111.1h0.85v0.85h-0.85zM179.9 104.4h0.85v0.85h-0.85zM179.2 104.4h0.85v0.85h-0.85zM179.5 105.6h0.85v0.85h-0.85zM143.9 105.4h0.85v0.85h-0.85zM179.9 104.2h0.85v0.85h-0.85zM160.0 108.4h0.85v0.85h-0.85zM182.2 99.2h0.85v0.85h-0.85zM156.0 86.9h0.85v0.85h-0.85zM144.2 101.7h0.85v0.85h-0.85zM178.2 105.7h0.85v0.85h-0.85zM180.1 92.7h0.85v0.85h-0.85zM147.7 106.4h0.85v0.85h-0.85zM171.7 112.1h0.85v0.85h-0.85zM178.5 104.9h0.85v0.85h-0.85zM151.1 90.6h0.85v0.85h-0.85zM144.8 91.4h0.85v0.85h-0.85zM155.4 109.6h0.85v0.85h-0.85zM181.7 102.2h0.85v0.85h-0.85zM181.1 90.6h0.85v0.85h-0.85zM171.4 89.9h0.85v0.85h-0.85zM145.2 101.6h0.85v0.85h-0.85zM141.8 105.5h0.85v0.85h-0.85zM183.3 92.3h0.85v0.85h-0.85zM180.3 104.2h0.85v0.85h-0.85zM147.8 93.8h0.85v0.85h-0.85zM182.7 105.9h0.85v0.85h-0.85zM141.3 103.7h0.85v0.85h-0.85zM169.5 88.0h0.85v0.85h-0.85zM181.3 104.5h0.85v0.85h-0.85zM145.4 104.4h0.85v0.85h-0.85zM143.8 94.0h0.85v0.85h-0.85zM175.2 88.2h0.85v0.85h-0.85zM169.3 109.3h0.85v0.85h-0.85zM180.6 94.6h0.85v0.85h-0.85zM147.6 105.3h0.85v0.85h-0.85zM169.8 109.3h0.85v0.85h-0.85zM178.1 110.0h0.85v0.85h-0.85zM163.4 111.3h0.85v0.85h-0.85zM146.8 91.9h0.85v0.85h-0.85zM160.2 110.8h0.85v0.85h-0.85zM180.5 94.3h0.85v0.85h-0.85zM151.3 90.9h0.85v0.85h-0.85zM165.8 109.9h0.85v0.85h-0.85zM174.6 106.2h0.85v0.85h-0.85zM176.2 85.8h0.85v0.85h-0.85zM145.5 90.1h0.85v0.85h-0.85zM148.3 106.7h0.85v0.85h-0.85zM148.4 89.2h0.85v0.85h-0.85zM148.9 107.5h0.85v0.85h-0.85zM143.1 93.2h0.85v0.85h-0.85zM145.2 93.7h0.85v0.85h-0.85zM180.6 109.2h0.85v0.85h-0.85zM146.1 93.0h0.85v0.85h-0.85zM172.0 108.3h0.85v0.85h-0.85zM170.6 109.9h0.85v0.85h-0.85zM145.2 95.5h0.85v0.85h-0.85zM143.6 100.8h0.85v0.85h-0.85zM145.3 102.1h0.85v0.85h-0.85zM182.7 95.3h0.85v0.85h-0.85zM167.0 87.6h0.85v0.85h-0.85zM158.1 89.3h0.85v0.85h-0.85zM188.5 95.5h0.85v0.85h-0.85zM180.5 105.6h0.85v0.85h-0.85zM156.3 86.1h0.85v0.85h-0.85zM146.8 90.7h0.85v0.85h-0.85zM152.2 88.8h0.85v0.85h-0.85zM144.6 105.2h0.85v0.85h-0.85zM174.6 109.7h0.85v0.85h-0.85zM174.7 110.2h0.85v0.85h-0.85zM145.0 96.8h0.85v0.85h-0.85zM180.6 96.1h0.85v0.85h-0.85zM149.7 89.5h0.85v0.85h-0.85zM178.0 90.4h0.85v0.85h-0.85zM141.6 101.8h0.85v0.85h-0.85zM180.4 94.4h0.85v0.85h-0.85zM145.9 94.3h0.85v0.85h-0.85zM156.7 110.3h0.85v0.85h-0.85zM144.4 104.4h0.85v0.85h-0.85zM142.9 100.9h0.85v0.85h-0.85zM166.0 110.4h0.85v0.85h-0.85zM155.9 88.4h0.85v0.85h-0.85zM161.1 110.0h0.85v0.85h-0.85zM146.1 105.9h0.85v0.85h-0.85zM140.3 93.4h0.85v0.85h-0.85zM181.3 97.3h0.85v0.85h-0.85zM172.0 89.8h0.85v0.85h-0.85zM176.0 88.7h0.85v0.85h-0.85zM182.3 98.9h0.85v0.85h-0.85zM151.7 89.5h0.85v0.85h-0.85zM178.4 91.7h0.85v0.85h-0.85zM179.4 106.5h0.85v0.85h-0.85zM172.0 111.0h0.85v0.85h-0.85zM180.9 106.8h0.85v0.85h-0.85zM144.9 97.7h0.85v0.85h-0.85zM163.9 86.9h0.85v0.85h-0.85zM183.2 98.2h0.85v0.85h-0.85zM150.7 90.0h0.85v0.85h-0.85zM179.6 105.3h0.85v0.85h-0.85zM143.0 105.0h0.85v0.85h-0.85zM181.6 97.0h0.85v0.85h-0.85zM174.2 89.0h0.85v0.85h-0.85zM168.4 87.9h0.85v0.85h-0.85zM146.6 95.4h0.85v0.85h-0.85zM143.5 103.7h0.85v0.85h-0.85zM144.5 100.1h0.85v0.85h-0.85zM149.6 87.9h0.85v0.85h-0.85zM148.3 109.2h0.85v0.85h-0.85zM183.2 100.5h0.85v0.85h-0.85zM161.4 111.0h0.85v0.85h-0.85zM145.7 89.9h0.85v0.85h-0.85zM145.2 94.5h0.85v0.85h-0.85zM163.4 108.9h0.85v0.85h-0.85zM174.1 107.6h0.85v0.85h-0.85zM167.9 110.2h0.85v0.85h-0.85zM148.6 108.6h0.85v0.85h-0.85zM150.3 88.1h0.85v0.85h-0.85zM167.9 88.0h0.85v0.85h-0.85zM144.1 97.3h0.85v0.85h-0.85zM179.4 104.7h0.85v0.85h-0.85zM145.4 90.1h0.85v0.85h-0.85zM147.1 104.9h0.85v0.85h-0.85z" fill="#333" fill-opacity=".6"/><path d="M188.4 58.1h0.85v0.85h-0.85zM185.2 62.8h0.85v0.85h-0.85zM182.2 66.2h0.85v0.85h-0.85zM183.3 82.6h0.85v0.85h-0.85zM182.3 71.6h0.85v0.85h-0.85zM181.0 69.8h0.85v0.85h-0.85zM181.3 71.4h0.85v0.85h-0.85zM183.4 86.5h0.85v0.85h-0.85zM181.7 58.3h0.85v0.85h-0.85zM182.4 85.9h0.85v0.85h-0.85zM180.9 81.4h0.85v0.85h-0.85zM180.6 65.6h0.85v0.85h-0.85zM183.8 59.9h0.85v0.85h-0.85zM182.3 51.6h0.85v0.85h-0.85zM180.8 81.4h0.85v0.85h-0.85zM182.1 70.9h0.85v0.85h-0.85zM184.5 68.9h0.85v0.85h-0.85zM180.6 73.8h0.85v0.85h-0.85zM183.1 79.1h0.85v0.85h-0.85zM182.8 89.2h0.85v0.85h-0.85zM184.5 76.4h0.85v0.85h-0.85zM188.6 62.6h0.85v0.85h-0.85zM183.8 70.2h0.85v0.85h-0.85zM188.2 80.5h0.85v0.85h-0.85zM185.1 81.5h0.85v0.85h-0.85zM186.6 72.4h0.85v0.85h-0.85zM185.3 61.1h0.85v0.85h-0.85zM184.5 88.7h0.85v0.85h-0.85zM185.2 83.5h0.85v0.85h-0.85zM178.9 78.5h0.85v0.85h-0.85zM182.4 92.4h0.85v0.85h-0.85zM184.5 84.0h0.85v0.85h-0.85zM186.3 82.7h0.85v0.85h-0.85zM180.1 69.9h0.85v0.85h-0.85zM178.4 89.4h0.85v0.85h-0.85zM182.8 65.2h0.85v0.85h-0.85zM184.4 73.5h0.85v0.85h-0.85zM182.5 90.2h0.85v0.85h-0.85zM178.4 63.4h0.85v0.85h-0.85zM183.0 75.2h0.85v0.85h-0.85zM185.8 74.2h0.85v0.85h-0.85zM184.4 94.3h0.85v0.85h-0.85zM180.0 63.8h0.85v0.85h-0.85zM181.6 75.6h0.85v0.85h-0.85zM180.7 80.1h0.85v0.85h-0.85zM181.4 88.6h0.85v0.85h-0.85zM184.4 84.2h0.85v0.85h-0.85zM183.7 79.6h0.85v0.85h-0.85zM179.4 75.4h0.85v0.85h-0.85zM179.1 90.4h0.85v0.85h-0.85zM180.6 68.8h0.85v0.85h-0.85zM182.1 98.9h0.85v0.85h-0.85zM180.6 93.8h0.85v0.85h-0.85zM183.5 102.6h0.85v0.85h-0.85zM182.7 72.3h0.85v0.85h-0.85zM183.1 72.2h0.85v0.85h-0.85zM181.5 84.4h0.85v0.85h-0.85zM182.1 86.2h0.85v0.85h-0.85zM184.6 86.6h0.85v0.85h-0.85zM186.9 87.9h0.85v0.85h-0.85zM181.0 90.5h0.85v0.85h-0.85zM177.5 89.9h0.85v0.85h-0.85zM186.0 67.3h0.85v0.85h-0.85zM186.2 59.4h0.85v0.85h-0.85zM185.5 73.6h0.85v0.85h-0.85zM182.5 75.9h0.85v0.85h-0.85zM181.9 84.7h0.85v0.85h-0.85zM183.1 77.1h0.85v0.85h-0.85zM183.3 74.1h0.85v0.85h-0.85zM180.9 83.4h0.85v0.85h-0.85zM185.2 66.1h0.85v0.85h-0.85zM185.4 89.9h0.85v0.85h-0.85zM183.6 91.8h0.85v0.85h-0.85zM178.2 90.9h0.85v0.85h-0.85zM181.5 80.5h0.85v0.85h-0.85zM181.1 101.4h0.85v0.85h-0.85zM182.3 84.1h0.85v0.85h-0.85zM179.8 74.7h0.85v0.85h-0.85zM184.2 76.5h0.85v0.85h-0.85zM181.5 92.1h0.85v0.85h-0.85zM179.6 78.5h0.85v0.85h-0.85zM182.8 74.1h0.85v0.85h-0.85zM184.7 79.9h0.85v0.85h-0.85zM182.8 84.0h0.85v0.85h-0.85zM183.0 82.8h0.85v0.85h-0.85zM186.2 80.0h0.85v0.85h-0.85zM183.4 72.1h0.85v0.85h-0.85zM186.5 87.0h0.85v0.85h-0.85zM184.5 80.6h0.85v0.85h-0.85zM181.3 78.5h0.85v0.85h-0.85zM183.9 66.4h0.85v0.85h-0.85zM181.0 76.6h0.85v0.85h-0.85zM187.7 81.2h0.85v0.85h-0.85zM179.8 90.0h0.85v0.85h-0.85zM185.3 84.6h0.85v0.85h-0.85zM182.0 76.6h0.85v0.85h-0.85zM188.3 88.5h0.85v0.85h-0.85zM193.9 60.0h0.85v0.85h-0.85zM179.6 73.5h0.85v0.85h-0.85zM181.1 71.2h0.85v0.85h-0.85zM184.9 90.6h0.85v0.85h-0.85zM179.9 83.3h0.85v0.85h-0.85zM185.2 80.2h0.85v0.85h-0.85zM186.4 89.0h0.85v0.85h-0.85zM181.3 79.1h0.85v0.85h-0.85zM183.9 66.1h0.85v0.85h-0.85zM182.7 87.7h0.85v0.85h-0.85zM184.1 78.0h0.85v0.85h-0.85zM189.3 83.9h0.85v0.85h-0.85zM185.5 69.3h0.85v0.85h-0.85zM186.1 73.5h0.85v0.85h-0.85zM182.8 73.7h0.85v0.85h-0.85zM180.3 83.4h0.85v0.85h-0.85zM180.4 85.9h0.85v0.85h-0.85zM181.4 90.1h0.85v0.85h-0.85zM184.0 89.2h0.85v0.85h-0.85zM180.7 83.3h0.85v0.85h-0.85zM185.0 80.5h0.85v0.85h-0.85zM183.0 72.1h0.85v0.85h-0.85zM175.6 82.7h0.85v0.85h-0.85zM180.3 67.6h0.85v0.85h-0.85zM184.1 51.9h0.85v0.85h-0.85zM181.5 84.5h0.85v0.85h-0.85zM183.3 75.7h0.85v0.85h-0.85zM181.4 79.6h0.85v0.85h-0.85zM179.6 72.3h0.85v0.85h-0.85zM185.1 68.9h0.85v0.85h-0.85zM183.0 74.2h0.85v0.85h-0.85zM180.3 58.6h0.85v0.85h-0.85zM181.2 70.3h0.85v0.85h-0.85zM180.8 77.3h0.85v0.85h-0.85zM184.0 84.0h0.85v0.85h-0.85zM184.1 66.4h0.85v0.85h-0.85zM186.5 81.3h0.85v0.85h-0.85zM185.0 65.3h0.85v0.85h-0.85zM185.8 100.3h0.85v0.85h-0.85zM184.5 88.8h0.85v0.85h-0.85zM181.9 79.5h0.85v0.85h-0.85zM183.1 84.4h0.85v0.85h-0.85zM183.6 80.5h0.85v0.85h-0.85zM181.1 66.3h0.85v0.85h-0.85zM183.2 102.6h0.85v0.85h-0.85zM181.0 83.1h0.85v0.85h-0.85zM186.4 71.6h0.85v0.85h-0.85zM179.4 81.5h0.85v0.85h-0.85zM183.2 69.4h0.85v0.85h-0.85zM186.8 84.9h0.85v0.85h-0.85zM183.3 64.5h0.85v0.85h-0.85zM186.2 89.1h0.85v0.85h-0.85zM185.2 93.9h0.85v0.85h-0.85zM180.8 68.1h0.85v0.85h-0.85zM185.3 82.3h0.85v0.85h-0.85zM183.2 73.2h0.85v0.85h-0.85zM185.7 80.5h0.85v0.85h-0.85zM185.3 66.7h0.85v0.85h-0.85zM183.4 82.1h0.85v0.85h-0.85zM185.7 61.6h0.85v0.85h-0.85zM182.8 71.5h0.85v0.85h-0.85zM183.3 76.6h0.85v0.85h-0.85zM184.3 85.8h0.85v0.85h-0.85zM183.9 77.3h0.85v0.85h-0.85zM185.4 91.8h0.85v0.85h-0.85zM183.4 70.1h0.85v0.85h-0.85zM187.5 87.0h0.85v0.85h-0.85zM188.5 73.9h0.85v0.85h-0.85zM182.4 76.3h0.85v0.85h-0.85zM183.1 63.5h0.85v0.85h-0.85zM185.3 63.3h0.85v0.85h-0.85zM176.7 77.5h0.85v0.85h-0.85zM180.8 80.6h0.85v0.85h-0.85zM180.5 64.6h0.85v0.85h-0.85zM178.4 65.6h0.85v0.85h-0.85zM182.6 99.1h0.85v0.85h-0.85zM184.9 71.6h0.85v0.85h-0.85zM186.5 80.4h0.85v0.85h-0.85zM178.9 60.7h0.85v0.85h-0.85zM179.7 72.3h0.85v0.85h-0.85zM183.4 71.9h0.85v0.85h-0.85zM182.0 68.7h0.85v0.85h-0.85zM183.7 85.8h0.85v0.85h-0.85zM180.8 90.4h0.85v0.85h-0.85zM181.3 75.2h0.85v0.85h-0.85zM187.3 84.0h0.85v0.85h-0.85zM183.4 59.0h0.85v0.85h-0.85zM183.5 74.5h0.85v0.85h-0.85zM182.8 88.9h0.85v0.85h-0.85zM182.0 95.8h0.85v0.85h-0.85zM183.4 79.6h0.85v0.85h-0.85zM182.6 79.0h0.85v0.85h-0.85zM186.5 80.4h0.85v0.85h-0.85zM180.9 70.4h0.85v0.85h-0.85zM186.1 83.5h0.85v0.85h-0.85zM181.3 76.8h0.85v0.85h-0.85zM183.5 83.7h0.85v0.85h-0.85zM181.0 79.0h0.85v0.85h-0.85zM180.2 70.3h0.85v0.85h-0.85zM182.8 91.5h0.85v0.85h-0.85zM183.1 94.5h0.85v0.85h-0.85zM184.2 90.9h0.85v0.85h-0.85zM182.9 60.1h0.85v0.85h-0.85zM178.1 73.8h0.85v0.85h-0.85zM187.5 76.5h0.85v0.85h-0.85zM182.1 84.1h0.85v0.85h-0.85zM182.4 74.3h0.85v0.85h-0.85zM183.8 82.0h0.85v0.85h-0.85zM181.9 70.0h0.85v0.85h-0.85zM187.1 69.4h0.85v0.85h-0.85zM181.2 76.2h0.85v0.85h-0.85zM183.0 81.0h0.85v0.85h-0.85zM187.0 91.0h0.85v0.85h-0.85zM183.2 79.2h0.85v0.85h-0.85zM185.6 76.8h0.85v0.85h-0.85zM183.7 67.1h0.85v0.85h-0.85zM184.3 77.2h0.85v0.85h-0.85zM179.9 80.4h0.85v0.85h-0.85zM188.6 81.4h0.85v0.85h-0.85zM181.4 90.8h0.85v0.85h-0.85zM184.2 79.9h0.85v0.85h-0.85zM186.9 87.1h0.85v0.85h-0.85zM188.3 70.1h0.85v0.85h-0.85zM182.3 77.2h0.85v0.85h-0.85zM183.8 66.3h0.85v0.85h-0.85zM184.0 64.1h0.85v0.85h-0.85zM182.0 75.5h0.85v0.85h-0.85zM183.9 81.2h0.85v0.85h-0.85zM181.5 81.4h0.85v0.85h-0.85zM184.0 77.1h0.85v0.85h-0.85zM183.4 73.0h0.85v0.85h-0.85zM187.6 91.7h0.85v0.85h-0.85zM183.9 91.2h0.85v0.85h-0.85zM181.2 72.9h0.85v0.85h-0.85zM182.5 82.5h0.85v0.85h-0.85zM182.5 68.9h0.85v0.85h-0.85zM179.7 67.1h0.85v0.85h-0.85zM185.5 82.8h0.85v0.85h-0.85zM179.9 96.5h0.85v0.85h-0.85zM182.1 73.4h0.85v0.85h-0.85zM182.9 78.4h0.85v0.85h-0.85zM182.4 77.7h0.85v0.85h-0.85zM185.2 87.1h0.85v0.85h-0.85zM181.7 76.4h0.85v0.85h-0.85zM181.5 73.7h0.85v0.85h-0.85zM183.1 74.9h0.85v0.85h-0.85zM184.7 68.8h0.85v0.85h-0.85zM184.2 85.3h0.85v0.85h-0.85zM182.6 74.8h0.85v0.85h-0.85zM184.7 74.3h0.85v0.85h-0.85zM182.5 80.1h0.85v0.85h-0.85zM177.4 84.9h0.85v0.85h-0.85zM183.9 83.8h0.85v0.85h-0.85zM180.0 73.9h0.85v0.85h-0.85zM184.4 83.5h0.85v0.85h-0.85zM181.9 73.5h0.85v0.85h-0.85zM186.9 80.7h0.85v0.85h-0.85zM186.2 64.7h0.85v0.85h-0.85zM184.3 72.5h0.85v0.85h-0.85zM182.1 90.6h0.85v0.85h-0.85zM180.8 68.7h0.85v0.85h-0.85zM181.6 75.6h0.85v0.85h-0.85zM183.4 82.2h0.85v0.85h-0.85zM186.3 82.7h0.85v0.85h-0.85zM187.5 88.6h0.85v0.85h-0.85zM184.6 76.6h0.85v0.85h-0.85zM186.6 75.0h0.85v0.85h-0.85zM185.7 78.4h0.85v0.85h-0.85zM182.0 84.6h0.85v0.85h-0.85zM184.9 81.1h0.85v0.85h-0.85zM185.9 79.2h0.85v0.85h-0.85zM181.6 78.8h0.85v0.85h-0.85zM187.7 68.5h0.85v0.85h-0.85zM179.0 78.0h0.85v0.85h-0.85zM180.9 91.3h0.85v0.85h-0.85zM183.7 68.8h0.85v0.85h-0.85zM183.2 68.7h0.85v0.85h-0.85zM184.5 87.2h0.85v0.85h-0.85zM186.2 88.4h0.85v0.85h-0.85zM183.3 89.7h0.85v0.85h-0.85zM184.5 65.4h0.85v0.85h-0.85zM186.5 69.3h0.85v0.85h-0.85zM181.9 62.6h0.85v0.85h-0.85zM181.3 57.1h0.85v0.85h-0.85zM180.4 69.8h0.85v0.85h-0.85zM180.5 74.2h0.85v0.85h-0.85zM185.2 75.0h0.85v0.85h-0.85zM184.3 89.0h0.85v0.85h-0.85zM181.9 92.7h0.85v0.85h-0.85zM183.2 77.5h0.85v0.85h-0.85zM184.2 91.4h0.85v0.85h-0.85zM180.4 87.2h0.85v0.85h-0.85zM182.2 78.9h0.85v0.85h-0.85zM180.9 53.0h0.85v0.85h-0.85zM186.1 85.5h0.85v0.85h-0.85zM180.8 69.0h0.85v0.85h-0.85zM180.4 77.6h0.85v0.85h-0.85zM188.2 76.6h0.85v0.85h-0.85zM179.3 85.3h0.85v0.85h-0.85zM181.1 62.3h0.85v0.85h-0.85zM184.2 78.0h0.85v0.85h-0.85zM183.7 85.1h0.85v0.85h-0.85zM185.6 57.4h0.85v0.85h-0.85z" fill="#333" fill-opacity=".6"/><path d="M193.1 88.3h0.85v0.85h-0.85zM195.0 68.8h0.85v0.85h-0.85zM189.5 68.1h0.85v0.85h-0.85zM193.5 76.2h0.85v0.85h-0.85zM194.3 76.4h0.85v0.85h-0.85zM190.5 68.1h0.85v0.85h-0.85zM192.4 85.4h0.85v0.85h-0.85zM195.4 69.1h0.85v0.85h-0.85zM193.6 77.4h0.85v0.85h-0.85zM190.7 67.5h0.85v0.85h-0.85zM195.6 74.1h0.85v0.85h-0.85zM192.6 82.1h0.85v0.85h-0.85zM193.4 84.2h0.85v0.85h-0.85zM191.4 74.6h0.85v0.85h-0.85zM193.3 81.1h0.85v0.85h-0.85zM191.5 62.8h0.85v0.85h-0.85zM194.3 85.6h0.85v0.85h-0.85zM194.5 76.9h0.85v0.85h-0.85zM189.6 74.5h0.85v0.85h-0.85zM196.4 80.7h0.85v0.85h-0.85zM193.2 63.5h0.85v0.85h-0.85zM191.6 86.7h0.85v0.85h-0.85zM193.4 76.8h0.85v0.85h-0.85zM195.0 84.4h0.85v0.85h-0.85zM193.8 76.5h0.85v0.85h-0.85zM193.6 87.3h0.85v0.85h-0.85zM193.4 66.8h0.85v0.85h-0.85zM192.5 75.5h0.85v0.85h-0.85zM193.5 89.3h0.85v0.85h-0.85zM192.7 74.1h0.85v0.85h-0.85zM194.1 82.2h0.85v0.85h-0.85zM191.4 82.1h0.85v0.85h-0.85zM193.1 81.1h0.85v0.85h-0.85zM190.1 60.3h0.85v0.85h-0.85zM190.1 62.9h0.85v0.85h-0.85zM194.5 86.9h0.85v0.85h-0.85zM190.5 91.1h0.85v0.85h-0.85zM190.8 70.8h0.85v0.85h-0.85zM196.7 66.5h0.85v0.85h-0.85zM194.1 85.3h0.85v0.85h-0.85zM194.8 83.9h0.85v0.85h-0.85zM193.3 91.8h0.85v0.85h-0.85zM192.7 78.9h0.85v0.85h-0.85zM193.5 75.0h0.85v0.85h-0.85zM192.5 88.8h0.85v0.85h-0.85zM195.7 83.4h0.85v0.85h-0.85zM192.6 73.6h0.85v0.85h-0.85zM192.1 74.8h0.85v0.85h-0.85zM192.0 77.2h0.85v0.85h-0.85zM192.4 87.6h0.85v0.85h-0.85zM190.3 74.4h0.85v0.85h-0.85zM194.3 74.4h0.85v0.85h-0.85zM192.1 83.0h0.85v0.85h-0.85zM192.7 69.4h0.85v0.85h-0.85zM193.1 83.7h0.85v0.85h-0.85zM189.8 86.2h0.85v0.85h-0.85zM189.7 84.3h0.85v0.85h-0.85zM190.5 80.1h0.85v0.85h-0.85zM192.7 87.2h0.85v0.85h-0.85zM192.7 74.3h0.85v0.85h-0.85zM191.5 80.0h0.85v0.85h-0.85zM192.4 85.9h0.85v0.85h-0.85zM193.6 89.2h0.85v0.85h-0.85zM194.1 79.7h0.85v0.85h-0.85zM192.7 83.7h0.85v0.85h-0.85zM194.2 66.2h0.85v0.85h-0.85zM193.5 74.9h0.85v0.85h-0.85zM193.4 85.2h0.85v0.85h-0.85zM189.4 77.1h0.85v0.85h-0.85zM194.6 62.6h0.85v0.85h-0.85zM193.2 78.2h0.85v0.85h-0.85zM191.8 86.1h0.85v0.85h-0.85zM194.5 78.3h0.85v0.85h-0.85zM195.3 91.2h0.85v0.85h-0.85zM193.2 85.6h0.85v0.85h-0.85zM194.4 93.6h0.85v0.85h-0.85zM194.3 84.3h0.85v0.85h-0.85zM193.0 84.7h0.85v0.85h-0.85zM195.6 77.5h0.85v0.85h-0.85zM192.7 69.6h0.85v0.85h-0.85zM197.4 74.7h0.85v0.85h-0.85zM191.9 73.1h0.85v0.85h-0.85zM195.0 81.4h0.85v0.85h-0.85zM189.2 79.5h0.85v0.85h-0.85zM196.1 77.8h0.85v0.85h-0.85zM193.1 104.0h0.85v0.85h-0.85zM192.4 76.4h0.85v0.85h-0.85zM194.0 99.9h0.85v0.85h-0.85zM193.6 63.8h0.85v0.85h-0.85zM192.6 76.3h0.85v0.85h-0.85zM194.2 75.1h0.85v0.85h-0.85zM193.1 66.9h0.85v0.85h-0.85zM190.6 78.8h0.85v0.85h-0.85zM195.8 69.6h0.85v0.85h-0.85zM190.0 88.8h0.85v0.85h-0.85zM193.6 85.4h0.85v0.85h-0.85zM192.6 80.5h0.85v0.85h-0.85zM192.7 78.3h0.85v0.85h-0.85zM196.1 74.8h0.85v0.85h-0.85zM192.2 78.4h0.85v0.85h-0.85zM192.5 93.4h0.85v0.85h-0.85zM192.6 81.9h0.85v0.85h-0.85zM190.7 83.2h0.85v0.85h-0.85zM194.0 84.2h0.85v0.85h-0.85zM190.0 72.8h0.85v0.85h-0.85zM188.2 93.3h0.85v0.85h-0.85zM192.7 93.0h0.85v0.85h-0.85zM196.3 87.6h0.85v0.85h-0.85zM191.7 76.5h0.85v0.85h-0.85zM194.3 60.9h0.85v0.85h-0.85zM195.4 91.6h0.85v0.85h-0.85zM194.4 75.8h0.85v0.85h-0.85zM193.5 64.1h0.85v0.85h-0.85zM191.2 74.4h0.85v0.85h-0.85zM191.5 93.3h0.85v0.85h-0.85zM193.7 56.8h0.85v0.85h-0.85zM194.9 82.9h0.85v0.85h-0.85zM192.5 71.9h0.85v0.85h-0.85zM196.6 80.5h0.85v0.85h-0.85zM193.3 64.0h0.85v0.85h-0.85zM191.8 86.4h0.85v0.85h-0.85zM193.1 74.3h0.85v0.85h-0.85zM192.3 64.1h0.85v0.85h-0.85zM188.5 83.1h0.85v0.85h-0.85zM190.3 64.3h0.85v0.85h-0.85zM193.4 86.7h0.85v0.85h-0.85zM192.2 88.2h0.85v0.85h-0.85zM192.9 50.3h0.85v0.85h-0.85zM195.8 68.6h0.85v0.85h-0.85zM195.7 75.8h0.85v0.85h-0.85z" fill="#333" fill-opacity=".6"/><path d="M189.8 97.0h0.85v0.85h-0.85zM185.2 104.5h0.85v0.85h-0.85zM198.5 109.3h0.85v0.85h-0.85zM187.4 103.7h0.85v0.85h-0.85zM195.4 104.3h0.85v0.85h-0.85zM183.7 114.6h0.85v0.85h-0.85zM186.5 94.5h0.85v0.85h-0.85zM190.9 101.9h0.85v0.85h-0.85zM187.4 91.1h0.85v0.85h-0.85zM184.1 100.3h0.85v0.85h-0.85zM180.8 108.1h0.85v0.85h-0.85zM193.4 101.7h0.85v0.85h-0.85zM191.2 94.1h0.85v0.85h-0.85zM187.4 106.5h0.85v0.85h-0.85zM187.6 111.3h0.85v0.85h-0.85zM195.3 105.0h0.85v0.85h-0.85zM189.0 93.7h0.85v0.85h-0.85zM189.4 93.5h0.85v0.85h-0.85zM188.3 97.7h0.85v0.85h-0.85zM187.4 108.2h0.85v0.85h-0.85zM185.7 95.0h0.85v0.85h-0.85zM196.1 102.0h0.85v0.85h-0.85zM192.6 95.8h0.85v0.85h-0.85zM191.8 109.4h0.85v0.85h-0.85zM190.3 103.2h0.85v0.85h-0.85zM196.3 104.4h0.85v0.85h-0.85zM196.3 91.9h0.85v0.85h-0.85zM181.4 92.4h0.85v0.85h-0.85zM192.3 95.5h0.85v0.85h-0.85zM180.1 112.8h0.85v0.85h-0.85zM196.7 96.5h0.85v0.85h-0.85zM186.9 95.3h0.85v0.85h-0.85zM193.8 103.4h0.85v0.85h-0.85zM190.8 109.8h0.85v0.85h-0.85zM186.1 91.8h0.85v0.85h-0.85zM190.2 99.9h0.85v0.85h-0.85zM190.6 103.1h0.85v0.85h-0.85zM182.4 111.3h0.85v0.85h-0.85zM181.2 102.5h0.85v0.85h-0.85zM191.9 106.0h0.85v0.85h-0.85zM191.3 94.4h0.85v0.85h-0.85zM189.2 90.6h0.85v0.85h-0.85zM189.3 98.6h0.85v0.85h-0.85zM180.8 115.6h0.85v0.85h-0.85zM187.1 104.0h0.85v0.85h-0.85zM196.7 100.0h0.85v0.85h-0.85zM188.1 92.4h0.85v0.85h-0.85zM186.4 95.1h0.85v0.85h-0.85zM189.4 105.7h0.85v0.85h-0.85zM191.1 110.7h0.85v0.85h-0.85zM192.1 101.8h0.85v0.85h-0.85zM174.9 99.1h0.85v0.85h-0.85zM191.5 89.8h0.85v0.85h-0.85zM189.8 95.2h0.85v0.85h-0.85zM189.1 99.9h0.85v0.85h-0.85zM188.7 99.8h0.85v0.85h-0.85zM191.9 102.4h0.85v0.85h-0.85zM186.8 106.6h0.85v0.85h-0.85zM190.4 102.8h0.85v0.85h-0.85zM198.8 111.8h0.85v0.85h-0.85z" fill="#333" fill-opacity=".6"/><ellipse cx="188.3" cy="73.5" rx="2.2" ry="11.5" fill="#fff"/><path d="M181 94c4-1 10-1 13 1c2 3 2 8 1 12c-3 2-8 2-11 0M183 98c3-1 7-1 8 1c1 2 0 5-2 6" fill="none" stroke="#555" stroke-width=".5"/><path d="M180 98.8 179.86 100.9 179.45 102.43 178.76 103.75 177.8 104.91 176.59 105.93 175.12 106.79 173.39 107.51 171.42 108.07 169.17 108.47 166.57 108.72 163 108.8 159.43 108.72 156.83 108.47 154.58 108.07 152.61 107.51 150.88 106.79 149.41 105.93 148.2 104.91 147.24 103.75 146.55 102.43 146.14 100.9 146 98.8 146.14 96.7 146.55 95.17 147.24 93.85 148.2 92.69 149.41 91.67 150.88 90.81 152.61 90.09 154.58 89.53 156.83 89.13 159.43 88.88 163 88.8 166.57 88.88 169.17 89.13 171.42 89.53 173.39 90.09 175.12 90.81 176.59 91.67 177.8 92.69 178.76 93.85 179.45 95.17 179.86 96.7Z" fill="#c0c0c0" stroke="#8a8a8a" stroke-width=".8"/><path d="M178.3 98.8 178.18 100.69 177.8 102.07 177.18 103.26 176.32 104.3 175.23 105.21 173.9 105.99 172.35 106.64 170.58 107.14 168.55 107.51 166.22 107.73 163 107.8 159.78 107.73 157.45 107.51 155.42 107.14 153.65 106.64 152.1 105.99 150.77 105.21 149.68 104.3 148.82 103.26 148.2 102.07 147.82 100.69 147.7 98.8 147.82 96.91 148.2 95.53 148.82 94.34 149.68 93.3 150.77 92.39 152.1 91.61 153.65 90.96 155.42 90.46 157.45 90.09 159.78 89.87 163 89.8 166.22 89.87 168.55 90.09 170.58 90.46 172.35 90.96 173.9 91.61 175.23 92.39 176.32 93.3 177.18 94.34 177.8 95.53 178.18 96.91Z" fill="none" stroke="#d8d8d8" stroke-width=".6"/><ellipse cx="169" cy="100.6" rx="8.5" ry="4.6" fill="#787878"/><path d="M175.92 98.8 175.81 100.4 175.5 101.56 174.98 102.56 174.25 103.45 173.33 104.22 172.21 104.87 170.9 105.42 169.4 105.85 167.69 106.15 165.72 106.34 163 106.4 160.28 106.34 158.31 106.15 156.6 105.85 155.1 105.42 153.79 104.87 152.67 104.22 151.75 103.45 151.02 102.56 150.5 101.56 150.19 100.4 150.08 98.8 150.19 97.2 150.5 96.04 151.02 95.04 151.75 94.15 152.67 93.38 153.79 92.73 155.1 92.18 156.6 91.75 158.31 91.45 160.28 91.26 163 91.2 165.72 91.26 167.69 91.45 169.4 91.75 170.9 92.18 172.21 92.73 173.33 93.38 174.25 94.15 174.98 95.04 175.5 96.04 175.81 97.2ZM173.88 98.8 173.79 100.15 173.53 101.12 173.09 101.97 172.47 102.71 171.7 103.36 170.75 103.92 169.65 104.37 168.39 104.73 166.95 104.99 165.29 105.15 163 105.2 160.71 105.15 159.05 104.99 157.61 104.73 156.35 104.37 155.25 103.92 154.3 103.36 153.53 102.71 152.91 101.97 152.47 101.12 152.21 100.15 152.12 98.8 152.21 97.45 152.47 96.48 152.91 95.63 153.53 94.89 154.3 94.24 155.25 93.68 156.35 93.23 157.61 92.87 159.05 92.61 160.71 92.45 163 92.4 165.29 92.45 166.95 92.61 168.39 92.87 169.65 93.23 170.75 93.68 171.7 94.24 172.47 94.89 173.09 95.63 173.53 96.48 173.79 97.45ZM171.84 98.8 171.77 99.89 171.55 100.69 171.19 101.38 170.7 101.98 170.07 102.51 169.3 102.96 168.4 103.33 167.38 103.62 166.21 103.83 164.86 103.96 163 104 161.14 103.96 159.79 103.83 158.62 103.62 157.6 103.33 156.7 102.96 155.93 102.51 155.3 101.98 154.81 101.38 154.45 100.69 154.23 99.89 154.16 98.8 154.23 97.71 154.45 96.91 154.81 96.22 155.3 95.62 155.93 95.09 156.7 94.64 157.6 94.27 158.62 93.98 159.79 93.77 161.14 93.64 163 93.6 164.86 93.64 166.21 93.77 167.38 93.98 168.4 94.27 169.3 94.64 170.07 95.09 170.7 95.62 171.19 96.22 171.55 96.91 171.77 97.71ZM169.8 98.8 169.74 99.64 169.58 100.25 169.3 100.78 168.92 101.25 168.44 101.65 167.85 102 167.16 102.28 166.37 102.51 165.47 102.67 164.43 102.77 163 102.8 161.57 102.77 160.53 102.67 159.63 102.51 158.84 102.28 158.15 102 157.56 101.65 157.08 101.25 156.7 100.78 156.42 100.25 156.26 99.64 156.2 98.8 156.26 97.96 156.42 97.35 156.7 96.82 157.08 96.35 157.56 95.95 158.15 95.6 158.84 95.32 159.63 95.09 160.53 94.93 161.57 94.83 163 94.8 164.43 94.83 165.47 94.93 166.37 95.09 167.16 95.32 167.85 95.6 168.44 95.95 168.92 96.35 169.3 96.82 169.58 97.35 169.74 97.96Z" fill="none" stroke="#9a9a9a" stroke-width=".4"/><ellipse cx="163.5" cy="101.1" rx="10" ry="1.1" fill="#e4e4e4"/><rect x="132.5" y="39.3" width="81.4" height="81.7" fill="none" stroke="#999" stroke-width=".9"/><path d="M130.9 46.65h1.6M130.9 66.26h1.6M130.9 88.32h1.6M130.9 114.46h1.6M148.78 121v1.6M169.13 121v1.6M191.11 121v1.6M207.39 121v1.6" stroke="#666" stroke-width=".7"/><path d="M131.6 45.67h.9M131.6 47.63h.9M131.6 49.59h.9M131.6 51.55h.9M131.6 53.52h.9M131.6 55.48h.9M131.6 57.44h.9M131.6 59.4h.9M131.6 61.36h.9M131.6 63.32h.9M131.6 65.28h.9M131.6 67.24h.9M131.6 69.2h.9M131.6 71.16h.9M131.6 73.12h.9M131.6 75.08h.9M131.6 77.05h.9M131.6 79.01h.9M131.6 80.97h.9M131.6 82.93h.9M131.6 84.89h.9M131.6 86.85h.9M131.6 88.81h.9M131.6 90.77h.9M131.6 92.73h.9M131.6 94.69h.9M131.6 96.65h.9M131.6 98.61h.9M131.6 100.58h.9M131.6 102.54h.9M131.6 104.5h.9M131.6 106.46h.9M131.6 108.42h.9M131.6 110.38h.9M131.6 112.34h.9M131.6 114.3h.9M131.6 116.26h.9M131.6 118.22h.9" stroke="#aaa" stroke-width=".4"/><rect x="130.3" y="101.39" width="1.8" height="2.2" fill="#222"/><rect x="150.41" y="121.4" width="2.6" height="1.6" fill="#222"/><rect x="174.4" y="49.4" width="28.4" height="37.2" fill="none" stroke="#ff7882" stroke-width="1"/><text x="143.7" y="58.9" font-size="10" fill="#111" color="#111" textLength="17.6" lengthAdjust="spacingAndGlyphs">6.29</text><path d="M294.7 75.1h0.85v0.85h-0.85zM262.9 85.1h0.85v0.85h-0.85zM257.3 76.3h0.85v0.85h-0.85zM270.5 94.3h0.85v0.85h-0.85zM295.0 70.9h0.85v0.85h-0.85zM263.8 67.9h0.85v0.85h-0.85zM250.6 45.3h0.85v0.85h-0.85zM293.6 56.1h0.85v0.85h-0.85zM257.4 53.5h0.85v0.85h-0.85zM249.4 64.0h0.85v0.85h-0.85zM251.3 76.6h0.85v0.85h-0.85zM249.7 62.5h0.85v0.85h-0.85zM282.7 68.5h0.85v0.85h-0.85zM259.5 99.5h0.85v0.85h-0.85zM256.4 76.8h0.85v0.85h-0.85zM272.7 72.3h0.85v0.85h-0.85zM256.6 76.2h0.85v0.85h-0.85zM248.5 88.8h0.85v0.85h-0.85zM260.3 98.1h0.85v0.85h-0.85zM262.4 58.6h0.85v0.85h-0.85zM262.5 74.3h0.85v0.85h-0.85zM250.8 91.8h0.85v0.85h-0.85zM262.8 55.9h0.85v0.85h-0.85zM291.5 76.4h0.85v0.85h-0.85zM226.0 73.7h0.85v0.85h-0.85zM264.1 62.6h0.85v0.85h-0.85zM239.8 53.2h0.85v0.85h-0.85zM260.2 70.9h0.85v0.85h-0.85zM282.7 82.1h0.85v0.85h-0.85zM259.7 69.7h0.85v0.85h-0.85zM272.9 59.0h0.85v0.85h-0.85zM260.4 85.0h0.85v0.85h-0.85zM241.2 61.6h0.85v0.85h-0.85zM276.1 103.8h0.85v0.85h-0.85zM262.3 103.9h0.85v0.85h-0.85zM263.6 75.6h0.85v0.85h-0.85zM248.1 61.2h0.85v0.85h-0.85zM271.8 70.3h0.85v0.85h-0.85zM243.8 83.4h0.85v0.85h-0.85zM264.0 67.9h0.85v0.85h-0.85zM259.0 76.0h0.85v0.85h-0.85zM257.7 76.2h0.85v0.85h-0.85zM247.7 44.2h0.85v0.85h-0.85zM244.5 94.9h0.85v0.85h-0.85zM249.3 80.6h0.85v0.85h-0.85zM266.2 64.2h0.85v0.85h-0.85zM256.5 74.4h0.85v0.85h-0.85zM261.8 86.6h0.85v0.85h-0.85zM256.6 75.2h0.85v0.85h-0.85zM272.4 79.9h0.85v0.85h-0.85zM228.6 95.7h0.85v0.85h-0.85zM263.4 70.0h0.85v0.85h-0.85zM254.2 64.9h0.85v0.85h-0.85zM257.7 57.6h0.85v0.85h-0.85zM273.3 84.7h0.85v0.85h-0.85zM237.3 85.2h0.85v0.85h-0.85zM229.1 70.7h0.85v0.85h-0.85zM237.2 87.8h0.85v0.85h-0.85zM267.7 59.3h0.85v0.85h-0.85zM258.4 85.1h0.85v0.85h-0.85zM249.0 112.1h0.85v0.85h-0.85zM226.9 96.7h0.85v0.85h-0.85zM282.2 73.2h0.85v0.85h-0.85zM234.8 95.0h0.85v0.85h-0.85zM229.4 77.8h0.85v0.85h-0.85zM244.9 59.9h0.85v0.85h-0.85zM265.2 94.3h0.85v0.85h-0.85zM230.5 87.2h0.85v0.85h-0.85zM256.9 68.6h0.85v0.85h-0.85zM245.5 85.9h0.85v0.85h-0.85zM275.3 74.1h0.85v0.85h-0.85zM262.2 50.9h0.85v0.85h-0.85zM245.6 77.9h0.85v0.85h-0.85zM249.8 82.2h0.85v0.85h-0.85zM239.1 87.0h0.85v0.85h-0.85z" fill="#333" fill-opacity=".6"/><path d="M236.3 96.2h0.85v0.85h-0.85zM235.5 108.1h0.85v0.85h-0.85zM244.1 89.0h0.85v0.85h-0.85zM237.2 93.7h0.85v0.85h-0.85zM270.5 96.1h0.85v0.85h-0.85zM250.5 89.6h0.85v0.85h-0.85zM239.1 91.7h0.85v0.85h-0.85zM272.8 102.9h0.85v0.85h-0.85zM235.4 93.8h0.85v0.85h-0.85zM240.0 108.4h0.85v0.85h-0.85zM249.9 112.6h0.85v0.85h-0.85zM271.4 91.7h0.85v0.85h-0.85zM237.8 91.5h0.85v0.85h-0.85zM264.2 88.2h0.85v0.85h-0.85zM262.4 86.2h0.85v0.85h-0.85zM266.6 89.7h0.85v0.85h-0.85zM243.8 87.5h0.85v0.85h-0.85zM233.7 98.1h0.85v0.85h-0.85zM270.6 90.8h0.85v0.85h-0.85zM271.9 108.7h0.85v0.85h-0.85zM241.8 90.1h0.85v0.85h-0.85zM236.2 93.1h0.85v0.85h-0.85zM241.3 89.8h0.85v0.85h-0.85zM261.2 110.4h0.85v0.85h-0.85zM272.6 89.3h0.85v0.85h-0.85zM238.7 91.5h0.85v0.85h-0.85zM236.7 90.0h0.85v0.85h-0.85zM258.6 88.0h0.85v0.85h-0.85zM266.1 88.1h0.85v0.85h-0.85zM236.2 104.2h0.85v0.85h-0.85zM272.5 94.4h0.85v0.85h-0.85zM266.3 111.1h0.85v0.85h-0.85zM241.1 109.9h0.85v0.85h-0.85zM236.9 94.6h0.85v0.85h-0.85zM268.7 107.3h0.85v0.85h-0.85zM270.2 95.8h0.85v0.85h-0.85zM273.7 103.1h0.85v0.85h-0.85zM251.3 111.9h0.85v0.85h-0.85zM239.9 108.3h0.85v0.85h-0.85zM235.6 97.4h0.85v0.85h-0.85zM251.7 88.2h0.85v0.85h-0.85zM245.6 111.1h0.85v0.85h-0.85zM260.2 110.8h0.85v0.85h-0.85zM267.6 109.3h0.85v0.85h-0.85zM235.2 96.1h0.85v0.85h-0.85zM236.2 103.6h0.85v0.85h-0.85zM275.7 94.1h0.85v0.85h-0.85zM246.3 88.2h0.85v0.85h-0.85zM265.9 90.6h0.85v0.85h-0.85zM271.6 108.7h0.85v0.85h-0.85zM269.9 92.7h0.85v0.85h-0.85zM245.6 111.0h0.85v0.85h-0.85zM233.7 94.1h0.85v0.85h-0.85zM262.2 112.2h0.85v0.85h-0.85zM233.9 108.1h0.85v0.85h-0.85zM247.1 110.8h0.85v0.85h-0.85zM238.9 88.9h0.85v0.85h-0.85zM272.8 98.7h0.85v0.85h-0.85zM269.8 107.8h0.85v0.85h-0.85zM270.2 91.1h0.85v0.85h-0.85zM233.4 92.2h0.85v0.85h-0.85zM236.8 87.9h0.85v0.85h-0.85zM261.4 114.8h0.85v0.85h-0.85zM245.8 111.6h0.85v0.85h-0.85zM241.0 89.4h0.85v0.85h-0.85zM271.1 101.6h0.85v0.85h-0.85zM234.6 93.5h0.85v0.85h-0.85zM236.9 91.1h0.85v0.85h-0.85zM267.6 91.5h0.85v0.85h-0.85zM273.3 97.1h0.85v0.85h-0.85zM233.8 96.9h0.85v0.85h-0.85zM231.3 102.3h0.85v0.85h-0.85zM270.6 89.3h0.85v0.85h-0.85zM234.6 93.8h0.85v0.85h-0.85zM237.3 104.1h0.85v0.85h-0.85zM241.3 109.5h0.85v0.85h-0.85zM270.5 107.8h0.85v0.85h-0.85zM246.4 112.2h0.85v0.85h-0.85zM270.7 94.1h0.85v0.85h-0.85zM250.5 112.2h0.85v0.85h-0.85zM236.8 98.1h0.85v0.85h-0.85zM251.4 113.2h0.85v0.85h-0.85zM271.5 89.5h0.85v0.85h-0.85zM238.5 107.4h0.85v0.85h-0.85zM235.3 95.8h0.85v0.85h-0.85zM251.4 111.3h0.85v0.85h-0.85zM247.7 89.0h0.85v0.85h-0.85zM268.6 109.3h0.85v0.85h-0.85zM270.6 109.5h0.85v0.85h-0.85zM250.2 88.0h0.85v0.85h-0.85zM235.9 96.5h0.85v0.85h-0.85zM240.5 107.7h0.85v0.85h-0.85zM268.2 92.5h0.85v0.85h-0.85zM241.9 89.4h0.85v0.85h-0.85zM269.1 108.6h0.85v0.85h-0.85zM271.7 93.9h0.85v0.85h-0.85zM241.3 88.4h0.85v0.85h-0.85zM266.1 88.5h0.85v0.85h-0.85zM234.3 105.5h0.85v0.85h-0.85zM275.0 105.6h0.85v0.85h-0.85zM244.5 87.5h0.85v0.85h-0.85zM260.0 112.1h0.85v0.85h-0.85zM238.2 91.8h0.85v0.85h-0.85zM245.3 111.2h0.85v0.85h-0.85zM260.2 88.9h0.85v0.85h-0.85zM260.4 111.1h0.85v0.85h-0.85zM239.7 108.8h0.85v0.85h-0.85zM263.9 90.3h0.85v0.85h-0.85zM239.5 92.6h0.85v0.85h-0.85zM248.6 87.4h0.85v0.85h-0.85zM258.5 87.9h0.85v0.85h-0.85zM271.9 93.0h0.85v0.85h-0.85zM273.7 90.7h0.85v0.85h-0.85zM248.6 88.3h0.85v0.85h-0.85zM276.4 99.3h0.85v0.85h-0.85zM232.7 103.3h0.85v0.85h-0.85zM242.4 89.0h0.85v0.85h-0.85zM232.6 98.9h0.85v0.85h-0.85zM271.0 110.7h0.85v0.85h-0.85zM267.2 88.9h0.85v0.85h-0.85zM241.1 110.3h0.85v0.85h-0.85zM264.8 110.7h0.85v0.85h-0.85zM271.4 98.6h0.85v0.85h-0.85zM268.9 113.6h0.85v0.85h-0.85zM273.9 103.4h0.85v0.85h-0.85zM259.4 112.3h0.85v0.85h-0.85zM234.1 94.9h0.85v0.85h-0.85zM264.6 89.9h0.85v0.85h-0.85zM265.5 112.6h0.85v0.85h-0.85zM241.0 108.5h0.85v0.85h-0.85zM272.6 96.0h0.85v0.85h-0.85zM266.8 111.7h0.85v0.85h-0.85zM271.8 104.1h0.85v0.85h-0.85zM242.9 89.6h0.85v0.85h-0.85zM249.3 112.0h0.85v0.85h-0.85zM268.2 113.8h0.85v0.85h-0.85zM245.1 111.6h0.85v0.85h-0.85zM266.9 109.3h0.85v0.85h-0.85zM232.6 102.9h0.85v0.85h-0.85zM253.1 113.9h0.85v0.85h-0.85zM257.1 88.7h0.85v0.85h-0.85zM273.0 93.6h0.85v0.85h-0.85zM234.1 96.2h0.85v0.85h-0.85zM271.4 95.9h0.85v0.85h-0.85zM232.6 93.6h0.85v0.85h-0.85zM246.3 88.4h0.85v0.85h-0.85zM272.4 111.0h0.85v0.85h-0.85zM272.5 108.2h0.85v0.85h-0.85zM271.5 107.2h0.85v0.85h-0.85zM268.1 108.8h0.85v0.85h-0.85zM257.9 112.0h0.85v0.85h-0.85zM253.4 88.6h0.85v0.85h-0.85zM271.6 94.9h0.85v0.85h-0.85zM241.2 109.4h0.85v0.85h-0.85zM263.0 89.6h0.85v0.85h-0.85zM236.1 98.2h0.85v0.85h-0.85zM257.5 113.4h0.85v0.85h-0.85zM272.8 105.9h0.85v0.85h-0.85zM268.5 109.8h0.85v0.85h-0.85zM237.6 111.3h0.85v0.85h-0.85zM263.6 109.3h0.85v0.85h-0.85zM236.8 95.0h0.85v0.85h-0.85zM232.8 99.2h0.85v0.85h-0.85zM277.7 96.4h0.85v0.85h-0.85zM244.4 89.8h0.85v0.85h-0.85zM234.1 107.1h0.85v0.85h-0.85zM268.8 109.7h0.85v0.85h-0.85zM250.1 113.2h0.85v0.85h-0.85zM235.0 94.4h0.85v0.85h-0.85zM266.7 113.0h0.85v0.85h-0.85zM266.4 109.7h0.85v0.85h-0.85zM241.5 109.3h0.85v0.85h-0.85zM234.6 100.4h0.85v0.85h-0.85zM267.0 111.0h0.85v0.85h-0.85zM251.3 88.0h0.85v0.85h-0.85zM234.9 95.0h0.85v0.85h-0.85zM266.1 110.1h0.85v0.85h-0.85zM271.3 108.4h0.85v0.85h-0.85zM234.5 95.6h0.85v0.85h-0.85zM265.8 89.3h0.85v0.85h-0.85zM236.9 92.6h0.85v0.85h-0.85zM256.2 88.9h0.85v0.85h-0.85zM264.7 91.0h0.85v0.85h-0.85zM266.6 90.8h0.85v0.85h-0.85zM265.5 87.7h0.85v0.85h-0.85zM260.5 111.5h0.85v0.85h-0.85zM272.6 104.5h0.85v0.85h-0.85zM271.1 92.4h0.85v0.85h-0.85zM256.4 87.9h0.85v0.85h-0.85zM235.9 89.7h0.85v0.85h-0.85zM236.4 103.0h0.85v0.85h-0.85zM253.5 112.7h0.85v0.85h-0.85zM241.1 90.7h0.85v0.85h-0.85zM231.1 104.7h0.85v0.85h-0.85zM254.5 111.2h0.85v0.85h-0.85zM266.5 90.9h0.85v0.85h-0.85zM237.6 105.9h0.85v0.85h-0.85zM269.2 108.4h0.85v0.85h-0.85zM235.7 95.9h0.85v0.85h-0.85zM273.3 94.9h0.85v0.85h-0.85zM236.8 98.3h0.85v0.85h-0.85zM241.5 89.8h0.85v0.85h-0.85zM275.0 98.7h0.85v0.85h-0.85zM246.7 85.3h0.85v0.85h-0.85zM235.9 106.0h0.85v0.85h-0.85zM260.3 112.8h0.85v0.85h-0.85zM266.6 112.1h0.85v0.85h-0.85zM270.9 106.6h0.85v0.85h-0.85zM273.7 99.1h0.85v0.85h-0.85zM265.6 111.7h0.85v0.85h-0.85zM242.2 109.5h0.85v0.85h-0.85zM250.7 111.0h0.85v0.85h-0.85zM233.3 94.2h0.85v0.85h-0.85zM248.3 110.5h0.85v0.85h-0.85zM264.5 111.6h0.85v0.85h-0.85zM275.0 97.8h0.85v0.85h-0.85zM273.1 102.8h0.85v0.85h-0.85zM243.5 89.8h0.85v0.85h-0.85zM270.4 92.5h0.85v0.85h-0.85zM239.0 90.2h0.85v0.85h-0.85zM266.2 109.9h0.85v0.85h-0.85zM274.8 96.1h0.85v0.85h-0.85zM233.4 115.2h0.85v0.85h-0.85zM239.2 92.7h0.85v0.85h-0.85zM260.8 111.3h0.85v0.85h-0.85zM251.7 110.5h0.85v0.85h-0.85zM273.6 97.7h0.85v0.85h-0.85zM233.6 100.8h0.85v0.85h-0.85zM258.5 111.6h0.85v0.85h-0.85zM268.8 107.3h0.85v0.85h-0.85zM255.7 112.6h0.85v0.85h-0.85zM262.0 111.7h0.85v0.85h-0.85zM241.0 109.1h0.85v0.85h-0.85zM234.7 105.0h0.85v0.85h-0.85zM262.0 111.0h0.85v0.85h-0.85zM273.6 106.8h0.85v0.85h-0.85zM258.5 112.2h0.85v0.85h-0.85zM241.0 108.6h0.85v0.85h-0.85zM271.6 93.1h0.85v0.85h-0.85zM263.7 111.0h0.85v0.85h-0.85z" fill="#333" fill-opacity=".6"/><path d="M272.2 85.9h0.85v0.85h-0.85zM278.6 62.2h0.85v0.85h-0.85zM274.4 83.9h0.85v0.85h-0.85zM275.0 66.2h0.85v0.85h-0.85zM277.0 85.4h0.85v0.85h-0.85zM280.3 66.0h0.85v0.85h-0.85zM285.0 90.1h0.85v0.85h-0.85zM274.0 89.5h0.85v0.85h-0.85zM285.2 82.4h0.85v0.85h-0.85zM287.7 73.6h0.85v0.85h-0.85zM282.2 64.6h0.85v0.85h-0.85zM274.4 71.5h0.85v0.85h-0.85zM269.5 81.1h0.85v0.85h-0.85zM284.0 63.5h0.85v0.85h-0.85zM285.9 87.8h0.85v0.85h-0.85zM274.7 77.4h0.85v0.85h-0.85zM283.6 84.6h0.85v0.85h-0.85zM278.5 89.4h0.85v0.85h-0.85zM274.3 72.5h0.85v0.85h-0.85zM286.2 85.1h0.85v0.85h-0.85zM287.7 82.0h0.85v0.85h-0.85zM272.8 79.6h0.85v0.85h-0.85zM284.4 84.1h0.85v0.85h-0.85zM281.3 64.8h0.85v0.85h-0.85zM285.1 78.1h0.85v0.85h-0.85zM271.3 80.1h0.85v0.85h-0.85zM277.2 58.3h0.85v0.85h-0.85zM287.1 81.3h0.85v0.85h-0.85zM278.5 85.3h0.85v0.85h-0.85zM272.1 83.6h0.85v0.85h-0.85zM285.2 83.2h0.85v0.85h-0.85zM286.3 79.6h0.85v0.85h-0.85zM274.3 61.6h0.85v0.85h-0.85zM281.7 84.5h0.85v0.85h-0.85zM273.7 65.9h0.85v0.85h-0.85zM282.0 65.0h0.85v0.85h-0.85zM279.5 85.9h0.85v0.85h-0.85zM280.3 87.9h0.85v0.85h-0.85zM289.1 66.7h0.85v0.85h-0.85zM273.4 76.3h0.85v0.85h-0.85zM279.2 90.0h0.85v0.85h-0.85zM276.9 90.1h0.85v0.85h-0.85zM271.4 74.0h0.85v0.85h-0.85zM284.8 83.3h0.85v0.85h-0.85zM268.3 78.4h0.85v0.85h-0.85zM285.0 66.1h0.85v0.85h-0.85zM286.4 66.3h0.85v0.85h-0.85zM283.9 65.3h0.85v0.85h-0.85zM283.9 82.1h0.85v0.85h-0.85zM282.6 64.2h0.85v0.85h-0.85zM279.8 61.7h0.85v0.85h-0.85zM282.7 67.3h0.85v0.85h-0.85zM277.1 60.2h0.85v0.85h-0.85zM281.8 66.6h0.85v0.85h-0.85zM268.4 79.2h0.85v0.85h-0.85zM274.6 86.4h0.85v0.85h-0.85zM269.1 70.5h0.85v0.85h-0.85zM285.2 63.1h0.85v0.85h-0.85zM273.8 83.6h0.85v0.85h-0.85zM276.0 63.3h0.85v0.85h-0.85zM275.7 62.3h0.85v0.85h-0.85zM276.1 62.2h0.85v0.85h-0.85zM290.1 76.2h0.85v0.85h-0.85zM279.2 63.6h0.85v0.85h-0.85zM282.8 63.8h0.85v0.85h-0.85zM291.9 71.2h0.85v0.85h-0.85zM275.1 67.0h0.85v0.85h-0.85zM282.9 88.4h0.85v0.85h-0.85zM282.4 96.3h0.85v0.85h-0.85zM275.8 86.2h0.85v0.85h-0.85zM285.8 70.7h0.85v0.85h-0.85zM285.2 77.3h0.85v0.85h-0.85zM290.7 75.2h0.85v0.85h-0.85zM283.9 67.1h0.85v0.85h-0.85zM276.2 95.2h0.85v0.85h-0.85zM285.9 70.5h0.85v0.85h-0.85zM275.3 81.8h0.85v0.85h-0.85zM285.2 71.7h0.85v0.85h-0.85zM272.3 63.6h0.85v0.85h-0.85zM276.6 83.2h0.85v0.85h-0.85zM284.9 94.3h0.85v0.85h-0.85zM274.6 73.3h0.85v0.85h-0.85zM273.9 72.7h0.85v0.85h-0.85zM280.6 89.2h0.85v0.85h-0.85zM275.9 96.8h0.85v0.85h-0.85zM279.0 88.5h0.85v0.85h-0.85zM280.8 85.7h0.85v0.85h-0.85zM281.1 98.1h0.85v0.85h-0.85zM278.4 84.6h0.85v0.85h-0.85zM285.4 82.0h0.85v0.85h-0.85zM274.3 72.0h0.85v0.85h-0.85zM282.7 61.8h0.85v0.85h-0.85zM270.4 77.5h0.85v0.85h-0.85zM279.6 61.7h0.85v0.85h-0.85zM286.4 69.1h0.85v0.85h-0.85zM279.7 65.0h0.85v0.85h-0.85zM287.4 77.6h0.85v0.85h-0.85zM285.1 85.4h0.85v0.85h-0.85zM283.8 85.3h0.85v0.85h-0.85zM282.5 56.0h0.85v0.85h-0.85zM269.7 75.3h0.85v0.85h-0.85zM273.8 68.2h0.85v0.85h-0.85zM286.9 82.1h0.85v0.85h-0.85zM273.7 77.7h0.85v0.85h-0.85zM286.7 73.8h0.85v0.85h-0.85zM272.8 68.1h0.85v0.85h-0.85zM276.3 64.8h0.85v0.85h-0.85zM271.5 75.6h0.85v0.85h-0.85zM290.3 66.6h0.85v0.85h-0.85zM272.8 70.5h0.85v0.85h-0.85zM287.8 67.2h0.85v0.85h-0.85zM288.4 77.8h0.85v0.85h-0.85zM281.3 88.9h0.85v0.85h-0.85zM272.1 73.9h0.85v0.85h-0.85zM289.7 73.6h0.85v0.85h-0.85zM273.1 70.1h0.85v0.85h-0.85zM279.9 91.3h0.85v0.85h-0.85zM285.7 77.1h0.85v0.85h-0.85zM273.2 81.8h0.85v0.85h-0.85zM273.8 81.1h0.85v0.85h-0.85zM288.1 82.8h0.85v0.85h-0.85zM278.4 88.3h0.85v0.85h-0.85zM272.1 71.0h0.85v0.85h-0.85zM282.7 62.8h0.85v0.85h-0.85zM270.3 80.6h0.85v0.85h-0.85zM277.1 61.5h0.85v0.85h-0.85zM284.2 88.2h0.85v0.85h-0.85zM285.1 53.2h0.85v0.85h-0.85zM285.7 78.5h0.85v0.85h-0.85zM276.9 65.8h0.85v0.85h-0.85zM285.7 66.4h0.85v0.85h-0.85zM270.7 70.8h0.85v0.85h-0.85zM278.7 56.2h0.85v0.85h-0.85zM284.1 86.8h0.85v0.85h-0.85zM274.8 77.3h0.85v0.85h-0.85zM275.1 71.8h0.85v0.85h-0.85zM288.4 66.4h0.85v0.85h-0.85zM278.4 60.6h0.85v0.85h-0.85zM287.5 64.1h0.85v0.85h-0.85zM275.8 70.0h0.85v0.85h-0.85zM270.7 78.3h0.85v0.85h-0.85zM276.1 87.0h0.85v0.85h-0.85zM282.6 60.2h0.85v0.85h-0.85zM274.9 74.6h0.85v0.85h-0.85zM277.8 60.3h0.85v0.85h-0.85zM277.4 57.3h0.85v0.85h-0.85zM280.3 89.0h0.85v0.85h-0.85zM285.2 81.1h0.85v0.85h-0.85zM271.3 74.8h0.85v0.85h-0.85zM280.3 61.9h0.85v0.85h-0.85zM272.8 80.7h0.85v0.85h-0.85zM272.2 76.9h0.85v0.85h-0.85zM279.2 90.9h0.85v0.85h-0.85zM286.1 86.6h0.85v0.85h-0.85zM284.2 85.9h0.85v0.85h-0.85zM290.1 73.0h0.85v0.85h-0.85zM281.3 87.0h0.85v0.85h-0.85zM268.5 63.8h0.85v0.85h-0.85zM282.9 58.0h0.85v0.85h-0.85zM280.1 86.5h0.85v0.85h-0.85zM286.1 74.2h0.85v0.85h-0.85zM285.8 73.3h0.85v0.85h-0.85zM276.2 66.2h0.85v0.85h-0.85zM277.1 91.2h0.85v0.85h-0.85zM281.1 63.0h0.85v0.85h-0.85zM285.1 67.7h0.85v0.85h-0.85zM276.1 88.2h0.85v0.85h-0.85zM286.6 88.5h0.85v0.85h-0.85zM274.2 67.3h0.85v0.85h-0.85zM286.2 72.2h0.85v0.85h-0.85zM276.0 55.8h0.85v0.85h-0.85zM275.1 63.9h0.85v0.85h-0.85zM282.7 65.3h0.85v0.85h-0.85zM277.0 88.4h0.85v0.85h-0.85zM284.0 89.2h0.85v0.85h-0.85zM269.2 65.6h0.85v0.85h-0.85zM275.3 60.9h0.85v0.85h-0.85zM274.9 79.2h0.85v0.85h-0.85zM278.6 88.8h0.85v0.85h-0.85zM282.2 85.5h0.85v0.85h-0.85zM284.6 64.0h0.85v0.85h-0.85zM273.8 73.4h0.85v0.85h-0.85zM280.5 85.6h0.85v0.85h-0.85zM276.9 65.3h0.85v0.85h-0.85zM285.1 80.2h0.85v0.85h-0.85zM277.6 63.0h0.85v0.85h-0.85zM281.1 85.1h0.85v0.85h-0.85zM274.7 71.2h0.85v0.85h-0.85zM275.9 87.0h0.85v0.85h-0.85zM278.0 87.7h0.85v0.85h-0.85zM286.0 63.5h0.85v0.85h-0.85zM272.9 76.7h0.85v0.85h-0.85zM278.1 88.9h0.85v0.85h-0.85zM288.6 78.4h0.85v0.85h-0.85zM285.4 76.1h0.85v0.85h-0.85zM279.6 91.2h0.85v0.85h-0.85zM277.7 59.2h0.85v0.85h-0.85zM273.3 67.8h0.85v0.85h-0.85zM277.8 59.2h0.85v0.85h-0.85zM277.4 62.7h0.85v0.85h-0.85z" fill="#333" fill-opacity=".6"/><ellipse cx="280" cy="75.5" rx="5.7" ry="10.45" fill="#fff" stroke="#4a4a4a" stroke-width=".45"/><ellipse cx="280" cy="75.5" rx="3" ry="6.6" fill="none" stroke="#4a4a4a" stroke-width=".45"/><circle cx="280.3" cy="75.5" r=".9" fill="#333"/><path d="M280.8 98.9h0.85v0.85h-0.85zM286.7 91.5h0.85v0.85h-0.85zM292.6 103.2h0.85v0.85h-0.85zM268.4 99.8h0.85v0.85h-0.85zM277.1 104.5h0.85v0.85h-0.85zM293.9 88.8h0.85v0.85h-0.85zM283.8 91.4h0.85v0.85h-0.85zM274.1 105.5h0.85v0.85h-0.85zM288.3 94.7h0.85v0.85h-0.85zM280.7 90.2h0.85v0.85h-0.85zM279.1 98.2h0.85v0.85h-0.85zM282.1 106.0h0.85v0.85h-0.85zM284.4 99.8h0.85v0.85h-0.85zM283.8 105.3h0.85v0.85h-0.85zM286.6 89.1h0.85v0.85h-0.85zM282.0 103.5h0.85v0.85h-0.85zM278.4 88.3h0.85v0.85h-0.85zM277.0 90.2h0.85v0.85h-0.85zM281.8 98.9h0.85v0.85h-0.85zM286.4 84.5h0.85v0.85h-0.85zM285.9 106.8h0.85v0.85h-0.85zM299.3 97.7h0.85v0.85h-0.85zM287.7 85.9h0.85v0.85h-0.85zM289.7 113.6h0.85v0.85h-0.85zM284.8 95.2h0.85v0.85h-0.85zM292.4 92.3h0.85v0.85h-0.85zM294.1 91.4h0.85v0.85h-0.85zM286.1 102.7h0.85v0.85h-0.85zM284.3 95.4h0.85v0.85h-0.85zM276.9 111.5h0.85v0.85h-0.85zM285.9 92.9h0.85v0.85h-0.85zM275.1 106.4h0.85v0.85h-0.85zM291.4 99.7h0.85v0.85h-0.85zM280.5 104.9h0.85v0.85h-0.85zM286.2 110.2h0.85v0.85h-0.85zM282.2 94.4h0.85v0.85h-0.85zM282.7 89.1h0.85v0.85h-0.85zM276.4 95.7h0.85v0.85h-0.85zM282.1 100.7h0.85v0.85h-0.85zM274.4 97.2h0.85v0.85h-0.85zM295.3 86.0h0.85v0.85h-0.85zM280.9 96.2h0.85v0.85h-0.85zM286.9 93.6h0.85v0.85h-0.85zM297.0 95.6h0.85v0.85h-0.85zM284.7 101.4h0.85v0.85h-0.85zM291.6 103.7h0.85v0.85h-0.85zM274.6 100.6h0.85v0.85h-0.85zM279.4 109.6h0.85v0.85h-0.85zM286.4 103.1h0.85v0.85h-0.85zM282.6 94.3h0.85v0.85h-0.85zM289.6 107.6h0.85v0.85h-0.85zM297.0 98.0h0.85v0.85h-0.85zM290.0 91.4h0.85v0.85h-0.85zM286.5 100.2h0.85v0.85h-0.85zM276.6 95.1h0.85v0.85h-0.85zM283.8 98.3h0.85v0.85h-0.85zM281.4 97.8h0.85v0.85h-0.85zM283.1 96.5h0.85v0.85h-0.85zM272.7 101.1h0.85v0.85h-0.85zM293.7 98.7h0.85v0.85h-0.85zM284.0 93.4h0.85v0.85h-0.85zM278.2 92.4h0.85v0.85h-0.85zM274.9 100.4h0.85v0.85h-0.85zM277.5 102.7h0.85v0.85h-0.85zM283.7 88.5h0.85v0.85h-0.85zM296.6 97.2h0.85v0.85h-0.85zM283.9 96.3h0.85v0.85h-0.85zM276.0 99.8h0.85v0.85h-0.85zM286.3 83.0h0.85v0.85h-0.85zM283.3 101.1h0.85v0.85h-0.85zM294.2 84.1h0.85v0.85h-0.85zM278.7 109.2h0.85v0.85h-0.85zM278.6 105.2h0.85v0.85h-0.85zM277.0 90.7h0.85v0.85h-0.85zM287.6 95.6h0.85v0.85h-0.85zM276.4 100.3h0.85v0.85h-0.85zM290.2 99.2h0.85v0.85h-0.85zM296.7 89.6h0.85v0.85h-0.85zM293.1 102.5h0.85v0.85h-0.85zM288.4 106.1h0.85v0.85h-0.85zM281.3 97.6h0.85v0.85h-0.85zM274.9 94.2h0.85v0.85h-0.85zM278.7 108.1h0.85v0.85h-0.85zM280.3 102.8h0.85v0.85h-0.85zM282.5 119.0h0.85v0.85h-0.85zM278.1 92.4h0.85v0.85h-0.85zM286.9 85.7h0.85v0.85h-0.85zM283.2 91.9h0.85v0.85h-0.85zM277.9 98.2h0.85v0.85h-0.85zM295.5 107.2h0.85v0.85h-0.85z" fill="#333" fill-opacity=".6"/><path d="M271 93c4-3 12-5 15-2c3 3 3 9 2 13c-1 5-6 7-10 5c-4-2-6-8-7-16z" fill="#fff" stroke="#666" stroke-width=".5"/><path d="M273 97c3-2 7-2 9 0c2 3 1 7-2 8c-3 0-5-3-7-8z" fill="none" stroke="#666" stroke-width=".45"/><path d="M271.5 100 271.38 102.81 271 104.53 270.38 105.95 269.51 107.15 268.38 108.18 267.01 109.04 265.38 109.75 263.46 110.29 261.21 110.69 258.47 110.92 254 111 249.53 110.92 246.79 110.69 244.54 110.29 242.62 109.75 240.99 109.04 239.62 108.18 238.49 107.15 237.62 105.95 237 104.53 236.62 102.81 236.5 100 236.62 97.19 237 95.47 237.62 94.05 238.49 92.85 239.62 91.82 240.99 90.96 242.62 90.25 244.54 89.71 246.79 89.31 249.53 89.08 254 89 258.47 89.08 261.21 89.31 263.46 89.71 265.38 90.25 267.01 90.96 268.38 91.82 269.51 92.85 270.38 94.05 271 95.47 271.38 97.19Z" fill="#bcbcbc" stroke="#7a7a7a" stroke-width=".8"/><path d="M269.75 100 269.64 102.53 269.3 104.08 268.74 105.35 267.95 106.44 266.95 107.36 265.71 108.14 264.24 108.77 262.52 109.26 260.49 109.62 258.02 109.83 254 109.9 249.98 109.83 247.51 109.62 245.48 109.26 243.76 108.77 242.29 108.14 241.05 107.36 240.05 106.44 239.26 105.35 238.7 104.08 238.36 102.53 238.25 100 238.36 97.47 238.7 95.92 239.26 94.65 240.05 93.56 241.05 92.64 242.29 91.86 243.76 91.23 245.48 90.74 247.51 90.38 249.98 90.17 254 90.1 258.02 90.17 260.49 90.38 262.52 90.74 264.24 91.23 265.71 91.86 266.95 92.64 267.95 93.56 268.74 94.65 269.3 95.92 269.64 97.47Z" fill="none" stroke="#d8d8d8" stroke-width=".6"/><ellipse cx="257" cy="101.2" rx="10" ry="5.5" fill="#858585"/><path d="M267.3 100 267.21 102.14 266.92 103.44 266.45 104.52 265.78 105.44 264.93 106.22 263.89 106.87 262.65 107.41 261.19 107.82 259.48 108.12 257.4 108.3 254 108.36 250.6 108.3 248.52 108.12 246.81 107.82 245.35 107.41 244.11 106.87 243.07 106.22 242.22 105.44 241.55 104.52 241.08 103.44 240.79 102.14 240.7 100 240.79 97.86 241.08 96.56 241.55 95.48 242.22 94.56 243.07 93.78 244.11 93.13 245.35 92.59 246.81 92.18 248.52 91.88 250.6 91.7 254 91.64 257.4 91.7 259.48 91.88 261.19 92.18 262.65 92.59 263.89 93.13 264.93 93.78 265.78 94.56 266.45 95.48 266.92 96.56 267.21 97.86ZM265.2 100 265.12 101.8 264.88 102.9 264.48 103.81 263.92 104.58 263.21 105.23 262.33 105.79 261.28 106.24 260.06 106.59 258.61 106.84 256.86 106.99 254 107.04 251.14 106.99 249.39 106.84 247.94 106.59 246.72 106.24 245.67 105.79 244.79 105.23 244.08 104.58 243.52 103.81 243.12 102.9 242.88 101.8 242.8 100 242.88 98.2 243.12 97.1 243.52 96.19 244.08 95.42 244.79 94.77 245.67 94.21 246.72 93.76 247.94 93.41 249.39 93.16 251.14 93.01 254 92.96 256.86 93.01 258.61 93.16 260.06 93.41 261.28 93.76 262.33 94.21 263.21 94.77 263.92 95.42 264.48 96.19 264.88 97.1 265.12 98.2ZM263.1 100 263.04 101.46 262.84 102.36 262.52 103.09 262.06 103.72 261.48 104.25 260.77 104.7 259.92 105.07 258.92 105.35 257.75 105.56 256.32 105.68 254 105.72 251.68 105.68 250.25 105.56 249.08 105.35 248.08 105.07 247.23 104.7 246.52 104.25 245.94 103.72 245.48 103.09 245.16 102.36 244.96 101.46 244.9 100 244.96 98.54 245.16 97.64 245.48 96.91 245.94 96.28 246.52 95.75 247.23 95.3 248.08 94.93 249.08 94.65 250.25 94.44 251.68 94.32 254 94.28 256.32 94.32 257.75 94.44 258.92 94.65 259.92 94.93 260.77 95.3 261.48 95.75 262.06 96.28 262.52 96.91 262.84 97.64 263.04 98.54ZM261 100 260.95 101.12 260.8 101.81 260.55 102.38 260.2 102.86 259.75 103.27 259.2 103.62 258.55 103.9 257.78 104.12 256.88 104.27 255.79 104.37 254 104.4 252.21 104.37 251.12 104.27 250.22 104.12 249.45 103.9 248.8 103.62 248.25 103.27 247.8 102.86 247.45 102.38 247.2 101.81 247.05 101.12 247 100 247.05 98.88 247.2 98.19 247.45 97.62 247.8 97.14 248.25 96.73 248.8 96.38 249.45 96.1 250.22 95.88 251.12 95.73 252.21 95.63 254 95.6 255.79 95.63 256.88 95.73 257.78 95.88 258.55 96.1 259.2 96.38 259.75 96.73 260.2 97.14 260.55 97.62 260.8 98.19 260.95 98.88Z" fill="none" stroke="#959595" stroke-width=".4"/><ellipse cx="256" cy="101.3" rx="6" ry="1.1" fill="#e4e4e4"/><circle cx="259.6" cy="101.4" r="1.6" fill="#fafafa"/><rect x="222.8" y="39.3" width="81.7" height="81.5" fill="none" stroke="#999" stroke-width=".9"/><path d="M221.2 46.63h1.6M221.2 66.19h1.6M221.2 88.2h1.6M221.2 114.28h1.6M239.14 120.8v1.6M259.56 120.8v1.6M281.62 120.8v1.6M297.96 120.8v1.6" stroke="#666" stroke-width=".7"/><path d="M221.9 45.66h.9M221.9 47.61h.9M221.9 49.57h.9M221.9 51.52h.9M221.9 53.48h.9M221.9 55.44h.9M221.9 57.39h.9M221.9 59.35h.9M221.9 61.3h.9M221.9 63.26h.9M221.9 65.22h.9M221.9 67.17h.9M221.9 69.13h.9M221.9 71.08h.9M221.9 73.04h.9M221.9 75h.9M221.9 76.95h.9M221.9 78.91h.9M221.9 80.86h.9M221.9 82.82h.9M221.9 84.78h.9M221.9 86.73h.9M221.9 88.69h.9M221.9 90.64h.9M221.9 92.6h.9M221.9 94.56h.9M221.9 96.51h.9M221.9 98.47h.9M221.9 100.42h.9M221.9 102.38h.9M221.9 104.34h.9M221.9 106.29h.9M221.9 108.25h.9M221.9 110.2h.9M221.9 112.16h.9M221.9 114.12h.9M221.9 116.07h.9M221.9 118.03h.9" stroke="#aaa" stroke-width=".4"/><rect x="220.6" y="101.24" width="1.8" height="2.2" fill="#222"/><rect x="240.77" y="121.2" width="2.6" height="1.6" fill="#222"/><rect x="265.6" y="49.7" width="28" height="36.9" fill="none" stroke="#ff7882" stroke-width="1"/><text x="236.8" y="58.9" font-size="10" fill="#111" color="#111" textLength="17.4" lengthAdjust="spacingAndGlyphs">7.18</text><path d="M96.9 210.6h0.85v0.85h-0.85zM90.3 196.7h0.85v0.85h-0.85zM83.5 203.7h0.85v0.85h-0.85zM92.8 215.6h0.85v0.85h-0.85zM56.6 189.0h0.85v0.85h-0.85zM109.4 191.5h0.85v0.85h-0.85zM101.5 208.9h0.85v0.85h-0.85zM77.4 207.1h0.85v0.85h-0.85zM98.1 202.9h0.85v0.85h-0.85zM112.8 205.0h0.85v0.85h-0.85zM106.6 208.4h0.85v0.85h-0.85zM84.5 214.3h0.85v0.85h-0.85zM77.2 197.0h0.85v0.85h-0.85zM78.7 206.0h0.85v0.85h-0.85zM72.6 214.2h0.85v0.85h-0.85zM86.8 208.6h0.85v0.85h-0.85zM73.1 207.7h0.85v0.85h-0.85zM94.2 201.4h0.85v0.85h-0.85zM75.1 208.2h0.85v0.85h-0.85zM84.9 197.8h0.85v0.85h-0.85zM97.1 210.3h0.85v0.85h-0.85zM118.1 191.0h0.85v0.85h-0.85zM54.2 208.3h0.85v0.85h-0.85zM118.7 216.5h0.85v0.85h-0.85zM80.4 196.0h0.85v0.85h-0.85zM86.3 199.0h0.85v0.85h-0.85zM63.7 206.1h0.85v0.85h-0.85zM66.1 201.2h0.85v0.85h-0.85z" fill="#333" fill-opacity=".6"/><path d="M57.8 213.1h0.85v0.85h-0.85zM54.2 219.0h0.85v0.85h-0.85zM74.7 223.8h0.85v0.85h-0.85zM53.2 218.3h0.85v0.85h-0.85zM95.3 210.4h0.85v0.85h-0.85zM67.3 206.1h0.85v0.85h-0.85zM70.8 223.1h0.85v0.85h-0.85zM59.7 220.3h0.85v0.85h-0.85zM86.0 224.3h0.85v0.85h-0.85zM69.0 205.4h0.85v0.85h-0.85zM57.7 210.6h0.85v0.85h-0.85zM57.2 216.8h0.85v0.85h-0.85zM100.3 218.9h0.85v0.85h-0.85zM92.4 207.9h0.85v0.85h-0.85zM89.2 206.4h0.85v0.85h-0.85zM89.8 209.2h0.85v0.85h-0.85zM62.4 223.2h0.85v0.85h-0.85zM96.5 219.5h0.85v0.85h-0.85zM91.1 207.6h0.85v0.85h-0.85zM57.8 211.2h0.85v0.85h-0.85zM82.7 207.5h0.85v0.85h-0.85zM67.6 206.9h0.85v0.85h-0.85zM93.1 207.9h0.85v0.85h-0.85zM92.5 220.0h0.85v0.85h-0.85zM89.5 208.1h0.85v0.85h-0.85zM91.4 222.7h0.85v0.85h-0.85zM54.3 218.4h0.85v0.85h-0.85zM89.8 209.4h0.85v0.85h-0.85zM93.4 208.2h0.85v0.85h-0.85zM57.1 213.7h0.85v0.85h-0.85zM79.1 223.8h0.85v0.85h-0.85zM95.1 215.0h0.85v0.85h-0.85zM92.3 220.8h0.85v0.85h-0.85zM79.5 224.3h0.85v0.85h-0.85zM95.3 211.7h0.85v0.85h-0.85zM78.7 205.9h0.85v0.85h-0.85zM93.4 218.6h0.85v0.85h-0.85zM93.3 221.5h0.85v0.85h-0.85zM56.7 215.9h0.85v0.85h-0.85zM94.6 208.5h0.85v0.85h-0.85zM72.8 224.3h0.85v0.85h-0.85zM62.4 221.4h0.85v0.85h-0.85zM91.5 209.3h0.85v0.85h-0.85zM96.3 215.6h0.85v0.85h-0.85zM66.7 223.8h0.85v0.85h-0.85zM56.5 208.9h0.85v0.85h-0.85zM54.4 212.7h0.85v0.85h-0.85zM58.7 206.4h0.85v0.85h-0.85zM60.6 207.9h0.85v0.85h-0.85zM81.5 225.2h0.85v0.85h-0.85zM91.1 222.6h0.85v0.85h-0.85zM56.9 221.9h0.85v0.85h-0.85zM61.3 221.9h0.85v0.85h-0.85zM51.0 216.4h0.85v0.85h-0.85zM95.5 221.1h0.85v0.85h-0.85zM90.0 208.3h0.85v0.85h-0.85zM81.5 206.9h0.85v0.85h-0.85zM71.5 223.3h0.85v0.85h-0.85zM53.5 211.8h0.85v0.85h-0.85zM64.3 206.5h0.85v0.85h-0.85zM61.5 221.1h0.85v0.85h-0.85zM79.7 222.6h0.85v0.85h-0.85zM56.7 215.2h0.85v0.85h-0.85zM59.7 222.7h0.85v0.85h-0.85zM89.6 223.7h0.85v0.85h-0.85zM59.2 210.7h0.85v0.85h-0.85zM82.3 206.8h0.85v0.85h-0.85zM63.1 206.5h0.85v0.85h-0.85zM57.4 219.8h0.85v0.85h-0.85zM66.3 223.2h0.85v0.85h-0.85zM96.1 219.9h0.85v0.85h-0.85zM94.2 212.4h0.85v0.85h-0.85zM54.1 221.3h0.85v0.85h-0.85zM59.1 209.8h0.85v0.85h-0.85zM73.3 224.6h0.85v0.85h-0.85zM95.7 212.1h0.85v0.85h-0.85zM61.6 205.3h0.85v0.85h-0.85zM57.1 220.9h0.85v0.85h-0.85zM85.3 223.3h0.85v0.85h-0.85zM67.2 208.0h0.85v0.85h-0.85zM86.8 206.7h0.85v0.85h-0.85zM93.0 223.4h0.85v0.85h-0.85zM65.9 207.9h0.85v0.85h-0.85zM95.5 219.7h0.85v0.85h-0.85zM87.5 208.1h0.85v0.85h-0.85zM65.0 206.7h0.85v0.85h-0.85zM91.0 222.9h0.85v0.85h-0.85zM91.4 204.8h0.85v0.85h-0.85zM88.0 205.3h0.85v0.85h-0.85zM60.0 210.7h0.85v0.85h-0.85zM88.6 207.2h0.85v0.85h-0.85zM90.0 221.1h0.85v0.85h-0.85zM94.7 214.2h0.85v0.85h-0.85zM66.0 222.2h0.85v0.85h-0.85zM87.0 224.2h0.85v0.85h-0.85zM84.5 223.6h0.85v0.85h-0.85zM96.6 212.0h0.85v0.85h-0.85zM86.3 207.8h0.85v0.85h-0.85zM94.8 212.4h0.85v0.85h-0.85zM93.7 214.2h0.85v0.85h-0.85zM94.7 222.1h0.85v0.85h-0.85zM53.5 222.1h0.85v0.85h-0.85zM65.1 223.3h0.85v0.85h-0.85zM62.2 222.8h0.85v0.85h-0.85zM53.0 218.0h0.85v0.85h-0.85zM90.4 222.3h0.85v0.85h-0.85zM94.0 210.6h0.85v0.85h-0.85zM94.3 221.6h0.85v0.85h-0.85zM62.2 222.3h0.85v0.85h-0.85zM62.8 223.7h0.85v0.85h-0.85zM56.6 215.4h0.85v0.85h-0.85zM61.7 222.1h0.85v0.85h-0.85zM94.4 221.8h0.85v0.85h-0.85zM95.2 217.5h0.85v0.85h-0.85zM70.3 207.0h0.85v0.85h-0.85zM65.9 224.6h0.85v0.85h-0.85zM57.7 210.6h0.85v0.85h-0.85zM95.8 208.2h0.85v0.85h-0.85zM63.7 222.9h0.85v0.85h-0.85zM61.4 221.4h0.85v0.85h-0.85zM63.7 223.3h0.85v0.85h-0.85zM83.7 224.0h0.85v0.85h-0.85zM85.3 222.1h0.85v0.85h-0.85zM90.6 223.7h0.85v0.85h-0.85zM55.1 212.6h0.85v0.85h-0.85zM68.2 205.4h0.85v0.85h-0.85zM78.8 206.9h0.85v0.85h-0.85zM87.6 224.7h0.85v0.85h-0.85zM94.6 212.2h0.85v0.85h-0.85zM57.1 210.2h0.85v0.85h-0.85zM95.0 213.0h0.85v0.85h-0.85zM95.1 216.8h0.85v0.85h-0.85zM87.8 207.2h0.85v0.85h-0.85zM83.0 206.1h0.85v0.85h-0.85zM80.1 206.9h0.85v0.85h-0.85zM74.2 206.5h0.85v0.85h-0.85zM56.8 217.3h0.85v0.85h-0.85zM92.0 221.8h0.85v0.85h-0.85zM90.1 223.1h0.85v0.85h-0.85zM94.4 218.3h0.85v0.85h-0.85zM55.6 218.7h0.85v0.85h-0.85zM92.7 220.9h0.85v0.85h-0.85zM94.0 207.8h0.85v0.85h-0.85zM53.7 220.9h0.85v0.85h-0.85zM60.9 205.8h0.85v0.85h-0.85zM58.1 210.0h0.85v0.85h-0.85zM79.2 223.2h0.85v0.85h-0.85zM59.6 209.8h0.85v0.85h-0.85zM90.0 224.1h0.85v0.85h-0.85zM97.8 219.7h0.85v0.85h-0.85zM94.8 209.3h0.85v0.85h-0.85zM64.7 223.6h0.85v0.85h-0.85zM84.4 204.3h0.85v0.85h-0.85zM57.7 212.4h0.85v0.85h-0.85zM77.6 206.7h0.85v0.85h-0.85zM93.7 220.0h0.85v0.85h-0.85zM90.8 222.2h0.85v0.85h-0.85zM75.7 225.3h0.85v0.85h-0.85zM94.5 210.8h0.85v0.85h-0.85zM97.9 208.9h0.85v0.85h-0.85zM79.6 206.3h0.85v0.85h-0.85zM94.2 209.9h0.85v0.85h-0.85zM57.2 212.5h0.85v0.85h-0.85zM94.4 215.6h0.85v0.85h-0.85zM93.7 210.1h0.85v0.85h-0.85zM86.0 206.0h0.85v0.85h-0.85zM65.3 206.3h0.85v0.85h-0.85zM93.8 220.0h0.85v0.85h-0.85zM89.3 223.7h0.85v0.85h-0.85zM64.2 207.3h0.85v0.85h-0.85zM93.2 209.4h0.85v0.85h-0.85zM56.9 220.6h0.85v0.85h-0.85zM58.8 222.0h0.85v0.85h-0.85zM70.2 206.1h0.85v0.85h-0.85zM58.3 209.4h0.85v0.85h-0.85zM78.1 203.7h0.85v0.85h-0.85zM56.6 210.7h0.85v0.85h-0.85zM71.9 224.7h0.85v0.85h-0.85zM93.1 222.2h0.85v0.85h-0.85zM96.5 209.5h0.85v0.85h-0.85zM63.2 208.0h0.85v0.85h-0.85zM86.8 222.7h0.85v0.85h-0.85zM89.4 223.1h0.85v0.85h-0.85zM56.5 211.2h0.85v0.85h-0.85zM61.4 207.7h0.85v0.85h-0.85zM82.0 205.8h0.85v0.85h-0.85zM95.0 218.1h0.85v0.85h-0.85zM57.2 210.1h0.85v0.85h-0.85zM97.5 211.8h0.85v0.85h-0.85zM92.5 209.9h0.85v0.85h-0.85zM94.3 210.0h0.85v0.85h-0.85zM74.4 205.2h0.85v0.85h-0.85zM95.1 210.4h0.85v0.85h-0.85zM67.8 204.7h0.85v0.85h-0.85zM94.8 216.8h0.85v0.85h-0.85zM85.9 205.9h0.85v0.85h-0.85zM87.7 222.7h0.85v0.85h-0.85zM72.2 206.7h0.85v0.85h-0.85zM93.2 211.4h0.85v0.85h-0.85zM79.9 224.0h0.85v0.85h-0.85zM85.1 206.8h0.85v0.85h-0.85zM77.4 207.0h0.85v0.85h-0.85zM56.7 221.3h0.85v0.85h-0.85zM93.8 218.3h0.85v0.85h-0.85zM88.3 224.1h0.85v0.85h-0.85zM86.5 206.6h0.85v0.85h-0.85zM72.5 205.2h0.85v0.85h-0.85zM95.8 209.9h0.85v0.85h-0.85zM55.6 215.6h0.85v0.85h-0.85zM55.5 217.0h0.85v0.85h-0.85zM74.8 205.4h0.85v0.85h-0.85zM92.7 222.9h0.85v0.85h-0.85zM70.7 223.5h0.85v0.85h-0.85zM91.5 209.7h0.85v0.85h-0.85zM66.2 222.8h0.85v0.85h-0.85zM63.9 207.6h0.85v0.85h-0.85zM62.8 209.4h0.85v0.85h-0.85zM84.7 205.7h0.85v0.85h-0.85zM94.1 223.7h0.85v0.85h-0.85zM76.2 205.9h0.85v0.85h-0.85zM61.4 208.0h0.85v0.85h-0.85zM82.8 205.3h0.85v0.85h-0.85zM85.1 224.0h0.85v0.85h-0.85zM58.6 218.8h0.85v0.85h-0.85zM82.8 224.8h0.85v0.85h-0.85zM56.5 213.9h0.85v0.85h-0.85zM94.0 223.8h0.85v0.85h-0.85zM57.0 209.0h0.85v0.85h-0.85zM56.3 218.7h0.85v0.85h-0.85zM93.3 212.2h0.85v0.85h-0.85z" fill="#333" fill-opacity=".6"/><path d="M102.1 159.2h0.85v0.85h-0.85zM96.2 190.1h0.85v0.85h-0.85zM101.3 172.2h0.85v0.85h-0.85zM101.0 186.7h0.85v0.85h-0.85zM98.8 182.7h0.85v0.85h-0.85zM106.4 190.2h0.85v0.85h-0.85zM102.6 165.8h0.85v0.85h-0.85zM97.8 190.7h0.85v0.85h-0.85zM100.2 180.8h0.85v0.85h-0.85zM95.7 185.9h0.85v0.85h-0.85zM98.8 166.8h0.85v0.85h-0.85zM108.9 181.0h0.85v0.85h-0.85zM92.4 168.1h0.85v0.85h-0.85zM96.9 178.1h0.85v0.85h-0.85zM96.0 181.6h0.85v0.85h-0.85zM104.8 172.3h0.85v0.85h-0.85zM103.4 190.7h0.85v0.85h-0.85zM95.0 168.5h0.85v0.85h-0.85zM102.0 192.5h0.85v0.85h-0.85zM102.1 188.7h0.85v0.85h-0.85zM96.7 189.2h0.85v0.85h-0.85zM95.2 188.5h0.85v0.85h-0.85zM102.6 189.9h0.85v0.85h-0.85zM104.3 189.1h0.85v0.85h-0.85zM103.3 184.6h0.85v0.85h-0.85zM105.6 182.4h0.85v0.85h-0.85zM104.9 176.2h0.85v0.85h-0.85zM94.9 185.1h0.85v0.85h-0.85zM99.1 178.0h0.85v0.85h-0.85zM96.3 191.0h0.85v0.85h-0.85zM101.0 191.8h0.85v0.85h-0.85zM97.8 186.4h0.85v0.85h-0.85zM95.5 176.3h0.85v0.85h-0.85zM102.3 190.8h0.85v0.85h-0.85zM99.7 194.8h0.85v0.85h-0.85zM96.5 196.4h0.85v0.85h-0.85zM98.8 181.6h0.85v0.85h-0.85zM95.7 196.4h0.85v0.85h-0.85zM95.6 196.7h0.85v0.85h-0.85zM104.6 164.6h0.85v0.85h-0.85zM99.0 171.5h0.85v0.85h-0.85zM97.4 182.5h0.85v0.85h-0.85zM98.2 189.5h0.85v0.85h-0.85zM101.0 165.3h0.85v0.85h-0.85zM94.6 169.6h0.85v0.85h-0.85zM94.1 188.1h0.85v0.85h-0.85zM98.6 183.3h0.85v0.85h-0.85zM91.3 179.1h0.85v0.85h-0.85zM90.8 182.3h0.85v0.85h-0.85zM96.8 187.0h0.85v0.85h-0.85zM101.2 190.9h0.85v0.85h-0.85zM98.3 186.5h0.85v0.85h-0.85zM95.4 204.8h0.85v0.85h-0.85zM99.8 171.7h0.85v0.85h-0.85zM99.4 193.7h0.85v0.85h-0.85zM96.4 194.0h0.85v0.85h-0.85zM98.0 195.7h0.85v0.85h-0.85zM99.3 173.9h0.85v0.85h-0.85zM99.9 194.7h0.85v0.85h-0.85zM92.0 172.9h0.85v0.85h-0.85zM100.6 171.7h0.85v0.85h-0.85zM92.3 182.7h0.85v0.85h-0.85zM97.3 179.7h0.85v0.85h-0.85zM97.6 185.4h0.85v0.85h-0.85zM95.8 166.7h0.85v0.85h-0.85zM98.2 179.5h0.85v0.85h-0.85zM98.4 183.1h0.85v0.85h-0.85zM96.4 166.7h0.85v0.85h-0.85zM100.8 197.1h0.85v0.85h-0.85zM101.0 183.7h0.85v0.85h-0.85zM101.4 178.9h0.85v0.85h-0.85zM93.7 163.2h0.85v0.85h-0.85zM99.4 171.0h0.85v0.85h-0.85zM95.5 186.4h0.85v0.85h-0.85zM102.8 196.5h0.85v0.85h-0.85zM92.6 179.9h0.85v0.85h-0.85zM96.2 182.9h0.85v0.85h-0.85zM98.9 187.0h0.85v0.85h-0.85zM98.1 170.4h0.85v0.85h-0.85zM91.2 200.0h0.85v0.85h-0.85zM96.7 189.0h0.85v0.85h-0.85zM99.5 189.9h0.85v0.85h-0.85zM99.0 194.0h0.85v0.85h-0.85zM95.3 187.4h0.85v0.85h-0.85zM100.8 174.0h0.85v0.85h-0.85zM95.4 174.6h0.85v0.85h-0.85zM103.8 177.6h0.85v0.85h-0.85zM102.3 178.0h0.85v0.85h-0.85zM99.9 188.4h0.85v0.85h-0.85zM99.8 177.5h0.85v0.85h-0.85zM97.1 200.8h0.85v0.85h-0.85zM104.5 188.0h0.85v0.85h-0.85zM96.9 186.4h0.85v0.85h-0.85zM106.1 175.4h0.85v0.85h-0.85zM99.5 187.2h0.85v0.85h-0.85zM97.6 180.7h0.85v0.85h-0.85zM102.2 179.0h0.85v0.85h-0.85zM98.5 185.1h0.85v0.85h-0.85zM94.1 182.9h0.85v0.85h-0.85zM103.1 193.1h0.85v0.85h-0.85zM92.0 180.4h0.85v0.85h-0.85zM105.7 172.2h0.85v0.85h-0.85zM95.7 185.5h0.85v0.85h-0.85zM96.5 174.2h0.85v0.85h-0.85zM96.3 184.1h0.85v0.85h-0.85zM100.0 185.7h0.85v0.85h-0.85zM93.4 165.5h0.85v0.85h-0.85zM102.0 181.1h0.85v0.85h-0.85zM99.4 186.1h0.85v0.85h-0.85zM104.6 193.4h0.85v0.85h-0.85zM96.9 189.9h0.85v0.85h-0.85zM101.0 196.6h0.85v0.85h-0.85zM102.4 205.1h0.85v0.85h-0.85zM107.6 185.3h0.85v0.85h-0.85zM95.5 187.8h0.85v0.85h-0.85zM96.2 181.9h0.85v0.85h-0.85zM103.0 175.9h0.85v0.85h-0.85zM91.6 176.4h0.85v0.85h-0.85zM95.1 165.8h0.85v0.85h-0.85zM101.4 187.7h0.85v0.85h-0.85zM100.1 193.6h0.85v0.85h-0.85zM98.4 203.3h0.85v0.85h-0.85zM100.0 191.6h0.85v0.85h-0.85zM96.3 186.9h0.85v0.85h-0.85zM97.9 170.7h0.85v0.85h-0.85zM100.0 173.1h0.85v0.85h-0.85zM102.7 165.8h0.85v0.85h-0.85zM91.7 195.5h0.85v0.85h-0.85zM101.4 178.9h0.85v0.85h-0.85zM91.7 175.6h0.85v0.85h-0.85zM100.0 201.9h0.85v0.85h-0.85zM96.7 199.5h0.85v0.85h-0.85zM92.5 198.7h0.85v0.85h-0.85zM101.7 175.2h0.85v0.85h-0.85zM104.3 183.1h0.85v0.85h-0.85zM96.1 178.6h0.85v0.85h-0.85zM102.4 176.7h0.85v0.85h-0.85zM96.3 180.7h0.85v0.85h-0.85zM98.4 169.7h0.85v0.85h-0.85zM104.5 200.8h0.85v0.85h-0.85zM98.6 187.3h0.85v0.85h-0.85zM98.3 171.7h0.85v0.85h-0.85zM100.4 172.1h0.85v0.85h-0.85zM93.3 176.7h0.85v0.85h-0.85zM100.6 177.7h0.85v0.85h-0.85zM102.3 189.4h0.85v0.85h-0.85zM102.9 196.6h0.85v0.85h-0.85zM97.1 189.9h0.85v0.85h-0.85zM101.6 186.1h0.85v0.85h-0.85zM97.1 188.0h0.85v0.85h-0.85zM99.7 189.9h0.85v0.85h-0.85zM98.7 177.0h0.85v0.85h-0.85zM93.5 181.6h0.85v0.85h-0.85zM106.0 184.5h0.85v0.85h-0.85zM99.1 174.5h0.85v0.85h-0.85zM100.4 183.4h0.85v0.85h-0.85zM99.8 179.9h0.85v0.85h-0.85zM95.1 173.7h0.85v0.85h-0.85zM96.7 172.9h0.85v0.85h-0.85zM95.0 185.4h0.85v0.85h-0.85zM99.1 177.4h0.85v0.85h-0.85zM98.5 193.6h0.85v0.85h-0.85zM94.5 189.0h0.85v0.85h-0.85zM91.2 198.4h0.85v0.85h-0.85zM100.9 204.0h0.85v0.85h-0.85zM105.9 183.9h0.85v0.85h-0.85zM101.5 186.9h0.85v0.85h-0.85zM91.6 192.0h0.85v0.85h-0.85zM102.1 190.8h0.85v0.85h-0.85zM100.1 170.8h0.85v0.85h-0.85zM99.9 174.8h0.85v0.85h-0.85zM96.8 193.2h0.85v0.85h-0.85zM102.8 167.8h0.85v0.85h-0.85zM94.4 172.0h0.85v0.85h-0.85zM103.7 169.0h0.85v0.85h-0.85zM100.3 188.3h0.85v0.85h-0.85zM90.8 196.3h0.85v0.85h-0.85zM96.3 198.9h0.85v0.85h-0.85zM97.4 197.1h0.85v0.85h-0.85zM106.9 160.3h0.85v0.85h-0.85zM94.4 176.2h0.85v0.85h-0.85zM102.6 199.0h0.85v0.85h-0.85zM99.5 187.0h0.85v0.85h-0.85zM102.0 172.7h0.85v0.85h-0.85zM96.6 183.6h0.85v0.85h-0.85zM104.1 174.9h0.85v0.85h-0.85zM101.5 174.5h0.85v0.85h-0.85zM94.5 183.4h0.85v0.85h-0.85zM99.6 183.1h0.85v0.85h-0.85zM96.0 176.7h0.85v0.85h-0.85zM102.5 167.8h0.85v0.85h-0.85zM96.6 170.6h0.85v0.85h-0.85zM99.3 195.2h0.85v0.85h-0.85zM97.5 175.3h0.85v0.85h-0.85zM97.6 182.8h0.85v0.85h-0.85zM97.1 172.6h0.85v0.85h-0.85zM100.2 197.4h0.85v0.85h-0.85zM99.8 175.3h0.85v0.85h-0.85zM104.0 182.6h0.85v0.85h-0.85zM100.6 180.7h0.85v0.85h-0.85zM100.7 169.1h0.85v0.85h-0.85zM98.8 180.5h0.85v0.85h-0.85zM98.1 183.8h0.85v0.85h-0.85zM109.7 172.4h0.85v0.85h-0.85zM97.8 168.9h0.85v0.85h-0.85zM99.3 176.8h0.85v0.85h-0.85zM102.7 181.0h0.85v0.85h-0.85zM98.5 182.7h0.85v0.85h-0.85zM106.6 193.1h0.85v0.85h-0.85zM100.5 193.1h0.85v0.85h-0.85zM98.1 166.0h0.85v0.85h-0.85zM93.6 187.5h0.85v0.85h-0.85zM100.3 176.2h0.85v0.85h-0.85zM95.3 190.7h0.85v0.85h-0.85zM97.3 169.9h0.85v0.85h-0.85zM101.8 183.5h0.85v0.85h-0.85zM94.2 197.7h0.85v0.85h-0.85zM96.8 176.7h0.85v0.85h-0.85zM96.1 178.6h0.85v0.85h-0.85zM104.7 178.8h0.85v0.85h-0.85zM101.7 175.2h0.85v0.85h-0.85zM103.6 194.9h0.85v0.85h-0.85zM102.1 199.7h0.85v0.85h-0.85zM99.8 162.2h0.85v0.85h-0.85zM94.1 175.7h0.85v0.85h-0.85zM102.0 183.5h0.85v0.85h-0.85zM100.0 184.5h0.85v0.85h-0.85zM97.7 181.3h0.85v0.85h-0.85zM96.8 182.2h0.85v0.85h-0.85zM101.6 198.6h0.85v0.85h-0.85zM104.4 180.8h0.85v0.85h-0.85zM97.2 177.9h0.85v0.85h-0.85zM91.9 191.6h0.85v0.85h-0.85zM102.3 186.3h0.85v0.85h-0.85zM99.1 189.1h0.85v0.85h-0.85zM102.6 195.2h0.85v0.85h-0.85zM93.2 206.7h0.85v0.85h-0.85zM96.4 196.1h0.85v0.85h-0.85zM94.7 194.9h0.85v0.85h-0.85zM109.1 192.6h0.85v0.85h-0.85zM99.1 198.4h0.85v0.85h-0.85zM98.7 183.7h0.85v0.85h-0.85zM97.1 180.8h0.85v0.85h-0.85zM99.5 175.2h0.85v0.85h-0.85zM103.5 185.8h0.85v0.85h-0.85zM94.3 174.7h0.85v0.85h-0.85zM98.7 178.9h0.85v0.85h-0.85zM104.7 171.8h0.85v0.85h-0.85zM99.0 180.9h0.85v0.85h-0.85zM98.3 188.6h0.85v0.85h-0.85zM101.2 176.7h0.85v0.85h-0.85zM96.9 186.1h0.85v0.85h-0.85zM98.8 177.0h0.85v0.85h-0.85zM92.8 185.6h0.85v0.85h-0.85zM97.2 187.5h0.85v0.85h-0.85zM96.5 181.5h0.85v0.85h-0.85zM98.0 163.8h0.85v0.85h-0.85zM99.1 185.2h0.85v0.85h-0.85z" fill="#333" fill-opacity=".6"/><path d="M99.6 214.5h0.85v0.85h-0.85zM105.8 203.9h0.85v0.85h-0.85zM95.9 210.6h0.85v0.85h-0.85zM96.8 211.5h0.85v0.85h-0.85zM94.7 212.3h0.85v0.85h-0.85zM101.9 210.6h0.85v0.85h-0.85zM102.6 218.3h0.85v0.85h-0.85zM103.3 215.3h0.85v0.85h-0.85zM92.2 213.4h0.85v0.85h-0.85zM90.0 206.2h0.85v0.85h-0.85zM102.5 199.9h0.85v0.85h-0.85zM102.6 211.0h0.85v0.85h-0.85zM102.7 221.0h0.85v0.85h-0.85zM99.7 208.9h0.85v0.85h-0.85zM102.5 207.5h0.85v0.85h-0.85zM100.1 213.7h0.85v0.85h-0.85zM104.4 205.3h0.85v0.85h-0.85zM100.8 223.5h0.85v0.85h-0.85zM99.3 223.7h0.85v0.85h-0.85zM103.8 205.8h0.85v0.85h-0.85zM102.2 215.9h0.85v0.85h-0.85zM97.2 212.9h0.85v0.85h-0.85zM92.6 222.7h0.85v0.85h-0.85zM102.0 212.4h0.85v0.85h-0.85zM103.4 221.6h0.85v0.85h-0.85zM99.5 213.7h0.85v0.85h-0.85zM102.5 213.2h0.85v0.85h-0.85zM107.2 219.3h0.85v0.85h-0.85zM100.8 212.0h0.85v0.85h-0.85zM91.5 208.5h0.85v0.85h-0.85zM108.7 213.7h0.85v0.85h-0.85zM105.0 204.0h0.85v0.85h-0.85zM94.9 218.7h0.85v0.85h-0.85zM104.6 206.7h0.85v0.85h-0.85zM93.7 208.5h0.85v0.85h-0.85zM100.4 202.7h0.85v0.85h-0.85zM106.8 208.4h0.85v0.85h-0.85zM101.4 218.2h0.85v0.85h-0.85zM99.6 214.0h0.85v0.85h-0.85zM98.3 223.9h0.85v0.85h-0.85zM104.6 213.1h0.85v0.85h-0.85zM98.1 213.7h0.85v0.85h-0.85zM91.0 211.3h0.85v0.85h-0.85zM97.9 220.8h0.85v0.85h-0.85zM101.8 209.0h0.85v0.85h-0.85zM94.2 217.3h0.85v0.85h-0.85zM101.6 218.1h0.85v0.85h-0.85zM100.2 215.8h0.85v0.85h-0.85zM100.3 223.4h0.85v0.85h-0.85zM100.0 208.9h0.85v0.85h-0.85zM103.6 217.9h0.85v0.85h-0.85zM98.7 220.9h0.85v0.85h-0.85zM102.3 210.3h0.85v0.85h-0.85zM96.5 222.3h0.85v0.85h-0.85zM103.8 208.0h0.85v0.85h-0.85zM95.3 223.8h0.85v0.85h-0.85zM111.0 219.8h0.85v0.85h-0.85zM99.8 212.2h0.85v0.85h-0.85zM103.5 221.8h0.85v0.85h-0.85zM101.7 213.1h0.85v0.85h-0.85zM94.2 207.3h0.85v0.85h-0.85zM95.4 204.1h0.85v0.85h-0.85zM101.8 211.8h0.85v0.85h-0.85zM107.3 219.4h0.85v0.85h-0.85zM100.2 224.2h0.85v0.85h-0.85zM103.8 212.7h0.85v0.85h-0.85zM100.3 210.6h0.85v0.85h-0.85zM98.0 213.8h0.85v0.85h-0.85zM98.5 212.0h0.85v0.85h-0.85zM99.2 214.5h0.85v0.85h-0.85zM105.5 213.0h0.85v0.85h-0.85zM98.5 217.0h0.85v0.85h-0.85zM101.0 208.3h0.85v0.85h-0.85zM98.9 213.4h0.85v0.85h-0.85zM97.0 218.2h0.85v0.85h-0.85zM101.5 211.1h0.85v0.85h-0.85zM104.7 215.9h0.85v0.85h-0.85zM100.2 215.4h0.85v0.85h-0.85zM103.6 217.6h0.85v0.85h-0.85zM97.2 215.7h0.85v0.85h-0.85zM99.6 212.5h0.85v0.85h-0.85zM98.7 219.6h0.85v0.85h-0.85zM100.4 227.0h0.85v0.85h-0.85zM97.7 218.7h0.85v0.85h-0.85zM104.6 212.1h0.85v0.85h-0.85zM100.5 219.7h0.85v0.85h-0.85zM107.5 213.5h0.85v0.85h-0.85zM99.4 215.8h0.85v0.85h-0.85zM103.0 212.1h0.85v0.85h-0.85zM103.6 216.5h0.85v0.85h-0.85zM100.3 209.2h0.85v0.85h-0.85zM103.1 202.9h0.85v0.85h-0.85zM96.1 204.9h0.85v0.85h-0.85zM98.6 212.9h0.85v0.85h-0.85zM98.6 210.6h0.85v0.85h-0.85zM103.1 204.0h0.85v0.85h-0.85zM93.9 215.7h0.85v0.85h-0.85zM105.0 216.0h0.85v0.85h-0.85zM95.2 204.6h0.85v0.85h-0.85zM102.4 215.4h0.85v0.85h-0.85zM100.4 207.1h0.85v0.85h-0.85zM89.9 218.1h0.85v0.85h-0.85zM107.3 218.4h0.85v0.85h-0.85zM102.3 216.4h0.85v0.85h-0.85zM99.3 212.6h0.85v0.85h-0.85zM100.3 209.7h0.85v0.85h-0.85zM101.5 207.5h0.85v0.85h-0.85zM99.7 222.8h0.85v0.85h-0.85zM106.2 209.7h0.85v0.85h-0.85zM103.6 217.0h0.85v0.85h-0.85zM104.0 216.2h0.85v0.85h-0.85zM99.0 220.0h0.85v0.85h-0.85zM104.5 207.9h0.85v0.85h-0.85zM100.4 212.4h0.85v0.85h-0.85zM95.9 214.5h0.85v0.85h-0.85zM98.7 203.7h0.85v0.85h-0.85zM108.0 214.5h0.85v0.85h-0.85zM99.5 215.1h0.85v0.85h-0.85zM96.4 209.8h0.85v0.85h-0.85zM107.0 211.8h0.85v0.85h-0.85zM93.2 215.7h0.85v0.85h-0.85zM103.7 210.2h0.85v0.85h-0.85zM97.6 220.6h0.85v0.85h-0.85zM103.7 207.6h0.85v0.85h-0.85zM98.2 212.0h0.85v0.85h-0.85zM99.3 207.3h0.85v0.85h-0.85zM99.3 208.5h0.85v0.85h-0.85zM103.0 214.9h0.85v0.85h-0.85zM98.1 212.4h0.85v0.85h-0.85zM98.1 218.6h0.85v0.85h-0.85zM102.0 217.2h0.85v0.85h-0.85zM91.6 217.4h0.85v0.85h-0.85zM99.6 211.7h0.85v0.85h-0.85zM94.4 219.7h0.85v0.85h-0.85zM106.3 214.0h0.85v0.85h-0.85zM99.4 210.3h0.85v0.85h-0.85zM103.4 214.4h0.85v0.85h-0.85zM97.2 220.5h0.85v0.85h-0.85zM102.1 215.4h0.85v0.85h-0.85zM99.8 212.6h0.85v0.85h-0.85zM96.8 211.3h0.85v0.85h-0.85zM97.9 218.4h0.85v0.85h-0.85zM96.2 221.5h0.85v0.85h-0.85zM104.5 210.7h0.85v0.85h-0.85zM96.9 205.2h0.85v0.85h-0.85zM103.5 217.5h0.85v0.85h-0.85zM106.6 215.4h0.85v0.85h-0.85zM101.7 212.3h0.85v0.85h-0.85zM95.1 217.3h0.85v0.85h-0.85zM98.7 213.7h0.85v0.85h-0.85zM96.9 216.5h0.85v0.85h-0.85zM93.2 207.7h0.85v0.85h-0.85zM104.4 217.0h0.85v0.85h-0.85zM96.2 215.2h0.85v0.85h-0.85zM101.5 219.1h0.85v0.85h-0.85zM104.4 219.1h0.85v0.85h-0.85zM97.8 223.7h0.85v0.85h-0.85zM100.1 217.4h0.85v0.85h-0.85zM102.5 221.5h0.85v0.85h-0.85zM104.3 205.5h0.85v0.85h-0.85zM94.3 213.3h0.85v0.85h-0.85zM96.9 218.9h0.85v0.85h-0.85zM106.2 220.6h0.85v0.85h-0.85zM95.9 216.6h0.85v0.85h-0.85zM103.8 217.6h0.85v0.85h-0.85zM103.8 227.5h0.85v0.85h-0.85zM103.3 216.1h0.85v0.85h-0.85zM102.4 215.6h0.85v0.85h-0.85zM98.5 214.0h0.85v0.85h-0.85zM96.4 209.0h0.85v0.85h-0.85zM100.4 209.5h0.85v0.85h-0.85zM97.6 210.6h0.85v0.85h-0.85zM95.5 200.3h0.85v0.85h-0.85zM102.6 220.8h0.85v0.85h-0.85zM100.9 210.4h0.85v0.85h-0.85zM104.6 215.8h0.85v0.85h-0.85zM94.5 213.5h0.85v0.85h-0.85zM100.2 209.5h0.85v0.85h-0.85zM102.2 206.6h0.85v0.85h-0.85zM100.1 217.6h0.85v0.85h-0.85zM92.4 216.9h0.85v0.85h-0.85zM103.5 209.6h0.85v0.85h-0.85zM95.4 212.9h0.85v0.85h-0.85zM100.0 212.9h0.85v0.85h-0.85zM98.7 208.2h0.85v0.85h-0.85zM92.7 210.2h0.85v0.85h-0.85zM103.7 217.8h0.85v0.85h-0.85zM102.9 212.9h0.85v0.85h-0.85zM97.6 211.3h0.85v0.85h-0.85zM100.6 206.9h0.85v0.85h-0.85zM101.4 216.1h0.85v0.85h-0.85zM97.5 218.4h0.85v0.85h-0.85zM102.8 202.6h0.85v0.85h-0.85zM98.4 213.3h0.85v0.85h-0.85zM90.7 217.1h0.85v0.85h-0.85zM103.8 216.5h0.85v0.85h-0.85zM99.4 221.2h0.85v0.85h-0.85zM100.3 215.5h0.85v0.85h-0.85zM101.9 219.6h0.85v0.85h-0.85zM93.2 218.6h0.85v0.85h-0.85zM101.4 221.1h0.85v0.85h-0.85zM100.8 213.5h0.85v0.85h-0.85zM97.3 214.2h0.85v0.85h-0.85zM97.7 216.5h0.85v0.85h-0.85zM100.2 210.2h0.85v0.85h-0.85zM102.7 213.6h0.85v0.85h-0.85zM98.4 220.9h0.85v0.85h-0.85zM101.8 216.2h0.85v0.85h-0.85zM97.0 220.4h0.85v0.85h-0.85zM102.3 208.0h0.85v0.85h-0.85zM98.8 220.3h0.85v0.85h-0.85zM103.8 213.5h0.85v0.85h-0.85zM100.8 214.9h0.85v0.85h-0.85zM90.7 217.6h0.85v0.85h-0.85zM105.7 211.2h0.85v0.85h-0.85zM100.4 218.8h0.85v0.85h-0.85zM101.0 219.2h0.85v0.85h-0.85zM100.1 212.8h0.85v0.85h-0.85zM97.2 213.5h0.85v0.85h-0.85zM94.8 208.0h0.85v0.85h-0.85z" fill="#333" fill-opacity=".6"/><path d="M80.2 206.6h0.85v0.85h-0.85zM88.0 221.8h0.85v0.85h-0.85zM59.6 209.6h0.85v0.85h-0.85zM93.5 210.0h0.85v0.85h-0.85zM57.4 218.5h0.85v0.85h-0.85zM61.2 221.5h0.85v0.85h-0.85zM95.2 212.3h0.85v0.85h-0.85zM62.4 222.9h0.85v0.85h-0.85zM62.5 223.2h0.85v0.85h-0.85zM93.2 216.6h0.85v0.85h-0.85zM95.5 219.3h0.85v0.85h-0.85zM94.1 213.5h0.85v0.85h-0.85zM84.2 205.9h0.85v0.85h-0.85zM94.5 220.6h0.85v0.85h-0.85zM57.7 209.8h0.85v0.85h-0.85zM67.2 207.9h0.85v0.85h-0.85zM56.9 219.4h0.85v0.85h-0.85zM56.0 211.5h0.85v0.85h-0.85zM65.4 222.8h0.85v0.85h-0.85zM59.1 209.8h0.85v0.85h-0.85zM55.9 219.1h0.85v0.85h-0.85zM94.7 211.7h0.85v0.85h-0.85zM88.7 208.2h0.85v0.85h-0.85zM94.2 210.4h0.85v0.85h-0.85zM59.6 220.6h0.85v0.85h-0.85zM65.2 207.7h0.85v0.85h-0.85zM84.9 224.8h0.85v0.85h-0.85zM94.4 211.9h0.85v0.85h-0.85zM55.5 213.1h0.85v0.85h-0.85zM61.8 222.0h0.85v0.85h-0.85zM91.7 222.3h0.85v0.85h-0.85zM64.7 222.7h0.85v0.85h-0.85zM59.2 209.9h0.85v0.85h-0.85zM63.8 208.4h0.85v0.85h-0.85zM56.8 213.9h0.85v0.85h-0.85zM56.5 212.1h0.85v0.85h-0.85zM84.3 224.4h0.85v0.85h-0.85zM58.8 219.5h0.85v0.85h-0.85zM93.2 221.1h0.85v0.85h-0.85zM93.8 209.1h0.85v0.85h-0.85zM59.2 208.4h0.85v0.85h-0.85zM55.3 217.8h0.85v0.85h-0.85zM75.1 223.7h0.85v0.85h-0.85zM92.0 220.1h0.85v0.85h-0.85zM89.4 206.8h0.85v0.85h-0.85zM78.3 224.9h0.85v0.85h-0.85zM74.0 205.8h0.85v0.85h-0.85zM56.4 211.4h0.85v0.85h-0.85zM60.8 221.2h0.85v0.85h-0.85zM86.2 223.5h0.85v0.85h-0.85zM56.5 212.0h0.85v0.85h-0.85zM64.8 207.1h0.85v0.85h-0.85zM56.6 218.5h0.85v0.85h-0.85zM74.0 207.4h0.85v0.85h-0.85zM55.5 219.5h0.85v0.85h-0.85zM91.2 209.2h0.85v0.85h-0.85zM81.0 223.6h0.85v0.85h-0.85zM96.1 213.6h0.85v0.85h-0.85zM81.9 223.5h0.85v0.85h-0.85zM97.3 219.9h0.85v0.85h-0.85zM67.0 223.0h0.85v0.85h-0.85zM63.4 222.5h0.85v0.85h-0.85zM93.3 220.2h0.85v0.85h-0.85zM57.8 220.7h0.85v0.85h-0.85zM86.3 223.2h0.85v0.85h-0.85zM56.5 210.2h0.85v0.85h-0.85zM91.2 209.2h0.85v0.85h-0.85zM89.5 207.9h0.85v0.85h-0.85zM64.1 224.1h0.85v0.85h-0.85zM55.3 219.8h0.85v0.85h-0.85zM74.3 223.1h0.85v0.85h-0.85zM60.6 210.7h0.85v0.85h-0.85zM92.6 210.0h0.85v0.85h-0.85zM89.1 208.2h0.85v0.85h-0.85zM70.5 224.5h0.85v0.85h-0.85zM89.4 207.9h0.85v0.85h-0.85zM88.6 207.5h0.85v0.85h-0.85zM92.2 220.0h0.85v0.85h-0.85zM64.0 208.3h0.85v0.85h-0.85zM83.4 223.9h0.85v0.85h-0.85zM59.1 222.0h0.85v0.85h-0.85zM86.0 206.7h0.85v0.85h-0.85zM86.3 222.9h0.85v0.85h-0.85zM73.0 206.3h0.85v0.85h-0.85zM61.6 207.9h0.85v0.85h-0.85zM58.2 210.8h0.85v0.85h-0.85zM56.6 215.9h0.85v0.85h-0.85zM60.4 209.0h0.85v0.85h-0.85zM64.3 222.5h0.85v0.85h-0.85zM94.6 214.8h0.85v0.85h-0.85zM58.5 220.6h0.85v0.85h-0.85zM61.0 207.8h0.85v0.85h-0.85zM94.1 221.6h0.85v0.85h-0.85zM94.3 208.4h0.85v0.85h-0.85zM65.6 223.9h0.85v0.85h-0.85zM91.5 207.8h0.85v0.85h-0.85zM93.9 211.8h0.85v0.85h-0.85zM83.7 206.1h0.85v0.85h-0.85zM67.1 206.4h0.85v0.85h-0.85zM64.7 223.8h0.85v0.85h-0.85zM90.2 221.1h0.85v0.85h-0.85zM78.1 223.8h0.85v0.85h-0.85zM62.4 222.6h0.85v0.85h-0.85zM89.3 222.2h0.85v0.85h-0.85zM91.5 221.0h0.85v0.85h-0.85zM87.2 222.6h0.85v0.85h-0.85zM67.0 207.5h0.85v0.85h-0.85zM76.4 225.2h0.85v0.85h-0.85zM73.4 224.5h0.85v0.85h-0.85zM80.1 224.1h0.85v0.85h-0.85zM64.9 221.7h0.85v0.85h-0.85zM67.8 206.1h0.85v0.85h-0.85zM60.3 224.9h0.85v0.85h-0.85zM86.1 206.9h0.85v0.85h-0.85zM96.8 214.6h0.85v0.85h-0.85zM57.2 213.3h0.85v0.85h-0.85zM91.7 208.1h0.85v0.85h-0.85zM56.2 218.0h0.85v0.85h-0.85zM93.8 214.9h0.85v0.85h-0.85zM88.0 222.8h0.85v0.85h-0.85zM90.9 208.3h0.85v0.85h-0.85zM91.3 207.7h0.85v0.85h-0.85zM52.8 217.4h0.85v0.85h-0.85zM77.7 224.4h0.85v0.85h-0.85zM58.8 211.9h0.85v0.85h-0.85zM93.4 218.9h0.85v0.85h-0.85zM67.5 206.0h0.85v0.85h-0.85zM56.6 214.8h0.85v0.85h-0.85zM83.1 222.9h0.85v0.85h-0.85zM73.2 206.0h0.85v0.85h-0.85zM81.9 205.9h0.85v0.85h-0.85zM72.3 223.1h0.85v0.85h-0.85zM79.4 224.1h0.85v0.85h-0.85zM94.3 215.7h0.85v0.85h-0.85zM87.9 221.1h0.85v0.85h-0.85zM56.7 215.5h0.85v0.85h-0.85zM87.9 223.4h0.85v0.85h-0.85zM64.1 222.5h0.85v0.85h-0.85zM80.8 222.3h0.85v0.85h-0.85zM92.5 210.3h0.85v0.85h-0.85zM62.1 207.3h0.85v0.85h-0.85zM56.1 210.9h0.85v0.85h-0.85zM76.8 205.8h0.85v0.85h-0.85zM60.8 209.7h0.85v0.85h-0.85zM62.6 207.3h0.85v0.85h-0.85zM63.3 222.2h0.85v0.85h-0.85zM92.6 210.7h0.85v0.85h-0.85zM57.4 213.5h0.85v0.85h-0.85zM91.5 223.2h0.85v0.85h-0.85zM96.2 210.6h0.85v0.85h-0.85zM69.4 206.2h0.85v0.85h-0.85zM67.0 222.9h0.85v0.85h-0.85zM89.4 222.3h0.85v0.85h-0.85zM95.2 218.0h0.85v0.85h-0.85zM97.0 212.0h0.85v0.85h-0.85zM95.4 219.4h0.85v0.85h-0.85zM86.6 222.9h0.85v0.85h-0.85zM65.9 221.1h0.85v0.85h-0.85zM58.5 221.9h0.85v0.85h-0.85zM55.6 216.4h0.85v0.85h-0.85zM57.0 210.3h0.85v0.85h-0.85zM92.8 221.2h0.85v0.85h-0.85zM85.5 223.2h0.85v0.85h-0.85zM80.7 224.7h0.85v0.85h-0.85zM61.8 209.0h0.85v0.85h-0.85zM94.1 213.8h0.85v0.85h-0.85zM95.3 213.4h0.85v0.85h-0.85zM55.3 218.3h0.85v0.85h-0.85zM80.0 206.7h0.85v0.85h-0.85zM55.8 217.7h0.85v0.85h-0.85zM60.8 210.1h0.85v0.85h-0.85zM63.9 221.9h0.85v0.85h-0.85zM88.8 207.8h0.85v0.85h-0.85zM59.7 219.8h0.85v0.85h-0.85zM83.2 223.0h0.85v0.85h-0.85zM78.7 222.7h0.85v0.85h-0.85zM56.5 215.6h0.85v0.85h-0.85zM90.5 222.9h0.85v0.85h-0.85zM86.3 222.5h0.85v0.85h-0.85zM57.7 211.9h0.85v0.85h-0.85zM90.9 207.7h0.85v0.85h-0.85zM91.3 209.5h0.85v0.85h-0.85zM74.8 206.2h0.85v0.85h-0.85zM58.3 218.9h0.85v0.85h-0.85zM88.8 206.5h0.85v0.85h-0.85zM95.1 213.3h0.85v0.85h-0.85zM94.3 216.1h0.85v0.85h-0.85zM57.2 212.4h0.85v0.85h-0.85zM54.4 212.6h0.85v0.85h-0.85zM66.3 223.6h0.85v0.85h-0.85zM85.5 205.4h0.85v0.85h-0.85zM61.8 208.5h0.85v0.85h-0.85zM61.2 222.5h0.85v0.85h-0.85zM83.8 223.1h0.85v0.85h-0.85zM97.1 213.9h0.85v0.85h-0.85zM83.9 207.3h0.85v0.85h-0.85zM87.6 207.9h0.85v0.85h-0.85zM93.5 219.2h0.85v0.85h-0.85zM68.0 223.3h0.85v0.85h-0.85zM58.0 216.5h0.85v0.85h-0.85zM94.5 218.3h0.85v0.85h-0.85zM94.4 209.3h0.85v0.85h-0.85zM95.2 217.9h0.85v0.85h-0.85zM55.6 217.9h0.85v0.85h-0.85zM55.3 218.2h0.85v0.85h-0.85zM63.5 221.9h0.85v0.85h-0.85zM58.4 221.0h0.85v0.85h-0.85zM58.3 210.7h0.85v0.85h-0.85zM66.5 223.9h0.85v0.85h-0.85zM93.9 220.7h0.85v0.85h-0.85zM84.4 206.7h0.85v0.85h-0.85zM88.8 207.5h0.85v0.85h-0.85zM93.1 220.8h0.85v0.85h-0.85zM81.0 205.8h0.85v0.85h-0.85zM64.3 221.4h0.85v0.85h-0.85zM91.9 222.8h0.85v0.85h-0.85zM95.6 215.7h0.85v0.85h-0.85zM60.7 221.8h0.85v0.85h-0.85zM58.1 219.4h0.85v0.85h-0.85zM83.5 223.6h0.85v0.85h-0.85zM89.1 222.8h0.85v0.85h-0.85zM55.5 213.7h0.85v0.85h-0.85zM58.0 211.3h0.85v0.85h-0.85zM90.3 209.3h0.85v0.85h-0.85zM97.0 218.7h0.85v0.85h-0.85zM95.1 213.6h0.85v0.85h-0.85zM86.2 207.0h0.85v0.85h-0.85zM85.0 223.2h0.85v0.85h-0.85zM57.6 219.5h0.85v0.85h-0.85zM87.8 208.1h0.85v0.85h-0.85zM63.5 222.1h0.85v0.85h-0.85zM57.0 213.9h0.85v0.85h-0.85zM93.5 221.4h0.85v0.85h-0.85zM54.4 217.9h0.85v0.85h-0.85zM95.2 216.3h0.85v0.85h-0.85zM83.4 223.5h0.85v0.85h-0.85zM96.4 215.4h0.85v0.85h-0.85zM84.8 223.5h0.85v0.85h-0.85zM82.5 224.6h0.85v0.85h-0.85zM94.6 218.8h0.85v0.85h-0.85zM53.5 212.6h0.85v0.85h-0.85zM59.8 219.9h0.85v0.85h-0.85zM57.8 210.9h0.85v0.85h-0.85zM59.8 209.1h0.85v0.85h-0.85zM89.7 207.8h0.85v0.85h-0.85zM54.9 212.0h0.85v0.85h-0.85zM71.5 206.2h0.85v0.85h-0.85zM53.5 220.9h0.85v0.85h-0.85zM97.0 213.0h0.85v0.85h-0.85zM62.6 222.4h0.85v0.85h-0.85zM58.1 219.5h0.85v0.85h-0.85zM93.3 210.9h0.85v0.85h-0.85zM72.4 223.6h0.85v0.85h-0.85zM76.7 224.2h0.85v0.85h-0.85zM94.2 207.9h0.85v0.85h-0.85zM78.2 224.4h0.85v0.85h-0.85zM58.0 222.6h0.85v0.85h-0.85zM69.4 223.0h0.85v0.85h-0.85zM94.2 213.0h0.85v0.85h-0.85zM65.8 223.2h0.85v0.85h-0.85zM61.1 221.0h0.85v0.85h-0.85zM96.0 213.4h0.85v0.85h-0.85zM89.3 223.3h0.85v0.85h-0.85zM95.7 214.9h0.85v0.85h-0.85zM84.9 222.7h0.85v0.85h-0.85zM56.8 220.7h0.85v0.85h-0.85zM77.6 206.7h0.85v0.85h-0.85zM96.1 211.9h0.85v0.85h-0.85zM70.6 207.1h0.85v0.85h-0.85zM62.2 208.0h0.85v0.85h-0.85zM62.5 208.3h0.85v0.85h-0.85zM61.3 208.9h0.85v0.85h-0.85zM89.9 222.3h0.85v0.85h-0.85zM96.2 217.1h0.85v0.85h-0.85zM61.7 206.8h0.85v0.85h-0.85zM93.3 208.7h0.85v0.85h-0.85zM91.9 209.1h0.85v0.85h-0.85zM91.0 221.4h0.85v0.85h-0.85zM89.3 222.6h0.85v0.85h-0.85zM72.7 223.5h0.85v0.85h-0.85zM94.2 213.2h0.85v0.85h-0.85zM71.6 225.1h0.85v0.85h-0.85zM94.7 218.2h0.85v0.85h-0.85zM53.7 213.0h0.85v0.85h-0.85zM60.8 222.6h0.85v0.85h-0.85zM78.5 206.8h0.85v0.85h-0.85zM87.7 222.8h0.85v0.85h-0.85zM58.1 209.4h0.85v0.85h-0.85zM55.8 209.5h0.85v0.85h-0.85zM68.3 225.5h0.85v0.85h-0.85zM90.1 206.8h0.85v0.85h-0.85zM56.7 218.3h0.85v0.85h-0.85zM58.9 209.1h0.85v0.85h-0.85zM92.9 210.1h0.85v0.85h-0.85zM59.0 221.0h0.85v0.85h-0.85zM77.4 224.1h0.85v0.85h-0.85zM94.3 212.4h0.85v0.85h-0.85zM90.4 221.7h0.85v0.85h-0.85zM57.3 219.4h0.85v0.85h-0.85zM69.0 223.1h0.85v0.85h-0.85z" fill="#333" fill-opacity=".6"/><circle cx="99.5" cy="215" r="3.2" fill="#8a8a8a" stroke="#444" stroke-width=".5"/><path d="M94 215.2 93.86 217.31 93.46 218.65 92.79 219.75 91.85 220.69 90.64 221.49 89.17 222.14 87.42 222.67 85.38 223.06 82.99 223.32 80.12 223.44 75.6 223.4 71.08 223.24 68.21 223 65.82 222.66 63.78 222.21 62.03 221.66 60.56 221 59.35 220.24 58.41 219.36 57.74 218.34 57.34 217.12 57.2 215.2 57.34 213.28 57.74 212.06 58.41 211.04 59.35 210.16 60.56 209.4 62.03 208.74 63.78 208.19 65.82 207.74 68.21 207.4 71.08 207.16 75.6 207 80.12 206.96 82.99 207.08 85.38 207.34 87.42 207.73 89.17 208.26 90.64 208.91 91.85 209.71 92.79 210.65 93.46 211.75 93.86 213.09Z" fill="#a8a8a8" stroke="#333" stroke-width=".8"/><path d="M92.16 215.2 92.04 217.1 91.67 218.3 91.07 219.3 90.22 220.14 89.14 220.86 87.81 221.45 86.24 221.92 84.4 222.27 82.25 222.5 79.67 222.61 75.6 222.58 71.53 222.44 68.95 222.22 66.8 221.91 64.96 221.51 63.39 221.02 62.06 220.42 60.98 219.74 60.13 218.94 59.53 218.02 59.16 216.93 59.04 215.2 59.16 213.47 59.53 212.38 60.13 211.46 60.98 210.66 62.06 209.98 63.39 209.38 64.96 208.89 66.8 208.49 68.95 208.18 71.53 207.96 75.6 207.82 79.67 207.79 82.25 207.9 84.4 208.13 86.24 208.48 87.81 208.95 89.14 209.54 90.22 210.26 91.07 211.1 91.67 212.1 92.04 213.3Z" fill="none" stroke="#d8d8d8" stroke-width=".6"/><ellipse cx="83" cy="215.5" rx="9" ry="5.5" fill="#888888"/><path d="M89.58 215.2 89.48 216.81 89.17 217.82 88.66 218.66 87.95 219.37 87.03 219.98 85.91 220.48 84.58 220.88 83.03 221.17 81.22 221.37 79.04 221.46 75.6 221.43 72.16 221.31 69.98 221.13 68.17 220.87 66.62 220.53 65.29 220.11 64.17 219.61 63.25 219.03 62.54 218.36 62.03 217.58 61.72 216.66 61.62 215.2 61.72 213.74 62.03 212.82 62.54 212.04 63.25 211.37 64.17 210.79 65.29 210.29 66.62 209.87 68.17 209.53 69.98 209.27 72.16 209.09 75.6 208.97 79.04 208.94 81.22 209.03 83.03 209.23 84.58 209.52 85.91 209.92 87.03 210.42 87.95 211.03 88.66 211.74 89.17 212.58 89.48 213.59ZM87.38 215.2 87.29 216.55 87.03 217.41 86.6 218.12 86 218.72 85.23 219.22 84.28 219.64 83.16 219.98 81.86 220.23 80.33 220.39 78.49 220.47 75.6 220.45 72.71 220.35 70.87 220.19 69.34 219.98 68.04 219.69 66.92 219.34 65.97 218.91 65.2 218.43 64.6 217.86 64.17 217.21 63.91 216.43 63.82 215.2 63.91 213.97 64.17 213.19 64.6 212.54 65.2 211.97 65.97 211.49 66.92 211.06 68.04 210.71 69.34 210.42 70.87 210.21 72.71 210.05 75.6 209.95 78.49 209.93 80.33 210.01 81.86 210.17 83.16 210.42 84.28 210.76 85.23 211.18 86 211.68 86.6 212.28 87.03 212.99 87.29 213.85ZM85.17 215.2 85.1 216.3 84.89 216.99 84.54 217.57 84.05 218.06 83.42 218.47 82.65 218.81 81.74 219.08 80.68 219.29 79.44 219.42 77.95 219.48 75.6 219.46 73.25 219.38 71.76 219.26 70.52 219.08 69.46 218.85 68.55 218.56 67.78 218.22 67.15 217.82 66.66 217.36 66.31 216.83 66.1 216.2 66.03 215.2 66.1 214.2 66.31 213.57 66.66 213.04 67.15 212.58 67.78 212.18 68.55 211.84 69.46 211.55 70.52 211.32 71.76 211.14 73.25 211.02 75.6 210.94 77.95 210.92 79.44 210.98 80.68 211.11 81.74 211.32 82.65 211.59 83.42 211.93 84.05 212.34 84.54 212.83 84.89 213.41 85.1 214.1ZM82.96 215.2 82.91 216.04 82.74 216.58 82.47 217.02 82.1 217.4 81.62 217.71 81.03 217.98 80.33 218.19 79.51 218.34 78.56 218.45 77.41 218.49 75.6 218.48 73.79 218.42 72.64 218.32 71.69 218.18 70.87 218.01 70.17 217.78 69.58 217.52 69.1 217.22 68.73 216.86 68.46 216.46 68.29 215.97 68.24 215.2 68.29 214.43 68.46 213.94 68.73 213.54 69.1 213.18 69.58 212.88 70.17 212.62 70.87 212.39 71.69 212.22 72.64 212.08 73.79 211.98 75.6 211.92 77.41 211.91 78.56 211.95 79.51 212.06 80.33 212.21 81.03 212.42 81.62 212.69 82.1 213 82.47 213.38 82.74 213.82 82.91 214.36Z" fill="none" stroke="#868686" stroke-width=".4"/><ellipse cx="69" cy="215.4" rx="7" ry=".9" fill="#e4e4e4"/><circle cx="82" cy="215.4" r="1" fill="#fafafa"/><rect x="41.5" y="157.2" width="81.8" height="81.3" fill="none" stroke="#999" stroke-width=".9"/><path d="M39.9 164.52h1.6M39.9 184.03h1.6M39.9 205.98h1.6M39.9 232h1.6M57.86 238.5v1.6M78.31 238.5v1.6M100.4 238.5v1.6M116.76 238.5v1.6" stroke="#666" stroke-width=".7"/><path d="M40.6 163.54h.9M40.6 165.49h.9M40.6 167.44h.9M40.6 169.39h.9M40.6 171.35h.9M40.6 173.3h.9M40.6 175.25h.9M40.6 177.2h.9M40.6 179.15h.9M40.6 181.1h.9M40.6 183.05h.9M40.6 185h.9M40.6 186.96h.9M40.6 188.91h.9M40.6 190.86h.9M40.6 192.81h.9M40.6 194.76h.9M40.6 196.71h.9M40.6 198.66h.9M40.6 200.61h.9M40.6 202.57h.9M40.6 204.52h.9M40.6 206.47h.9M40.6 208.42h.9M40.6 210.37h.9M40.6 212.32h.9M40.6 214.27h.9M40.6 216.22h.9M40.6 218.18h.9M40.6 220.13h.9M40.6 222.08h.9M40.6 224.03h.9M40.6 225.98h.9M40.6 227.93h.9M40.6 229.88h.9M40.6 231.83h.9M40.6 233.78h.9M40.6 235.74h.9" stroke="#aaa" stroke-width=".4"/><rect x="39.3" y="218.99" width="1.8" height="2.2" fill="#222"/><rect x="59.5" y="238.9" width="2.6" height="1.6" fill="#222"/><rect x="83.3" y="161.5" width="29.5" height="36.9" fill="none" stroke="#7c7cff" stroke-width="1"/><text x="52.5" y="179.9" font-size="10" fill="#111" color="#111" textLength="16.7" lengthAdjust="spacingAndGlyphs">1.93</text><path d="M178.4 178.3h0.85v0.85h-0.85zM170.5 214.5h0.85v0.85h-0.85zM140.3 191.5h0.85v0.85h-0.85zM171.2 187.4h0.85v0.85h-0.85zM155.7 200.7h0.85v0.85h-0.85zM163.6 193.9h0.85v0.85h-0.85zM145.7 207.6h0.85v0.85h-0.85zM200.3 186.8h0.85v0.85h-0.85zM173.1 183.3h0.85v0.85h-0.85zM187.5 196.6h0.85v0.85h-0.85zM169.7 189.4h0.85v0.85h-0.85zM148.5 193.8h0.85v0.85h-0.85zM172.1 165.6h0.85v0.85h-0.85zM167.6 165.2h0.85v0.85h-0.85zM193.0 192.4h0.85v0.85h-0.85zM174.4 180.2h0.85v0.85h-0.85zM198.1 195.9h0.85v0.85h-0.85zM167.7 188.4h0.85v0.85h-0.85zM150.8 185.7h0.85v0.85h-0.85zM160.0 174.2h0.85v0.85h-0.85zM185.2 169.2h0.85v0.85h-0.85zM173.0 208.0h0.85v0.85h-0.85zM170.2 195.6h0.85v0.85h-0.85zM158.2 176.5h0.85v0.85h-0.85zM196.9 170.7h0.85v0.85h-0.85zM173.2 175.5h0.85v0.85h-0.85zM175.5 199.5h0.85v0.85h-0.85zM186.5 191.0h0.85v0.85h-0.85zM166.4 186.4h0.85v0.85h-0.85zM166.3 189.7h0.85v0.85h-0.85zM180.3 188.1h0.85v0.85h-0.85zM162.3 222.0h0.85v0.85h-0.85zM145.0 192.3h0.85v0.85h-0.85zM209.9 172.8h0.85v0.85h-0.85zM191.1 193.5h0.85v0.85h-0.85zM184.5 200.0h0.85v0.85h-0.85zM139.8 203.5h0.85v0.85h-0.85zM159.9 170.1h0.85v0.85h-0.85zM174.4 176.6h0.85v0.85h-0.85zM162.6 194.8h0.85v0.85h-0.85zM139.5 201.5h0.85v0.85h-0.85zM179.4 192.2h0.85v0.85h-0.85zM182.0 189.4h0.85v0.85h-0.85zM192.6 184.8h0.85v0.85h-0.85zM169.4 200.2h0.85v0.85h-0.85zM174.3 169.5h0.85v0.85h-0.85zM160.3 206.4h0.85v0.85h-0.85zM156.6 170.3h0.85v0.85h-0.85zM173.6 177.3h0.85v0.85h-0.85zM188.2 181.8h0.85v0.85h-0.85zM146.6 181.0h0.85v0.85h-0.85zM170.9 191.5h0.85v0.85h-0.85zM181.7 179.3h0.85v0.85h-0.85zM156.9 195.5h0.85v0.85h-0.85zM174.2 201.9h0.85v0.85h-0.85zM139.1 193.0h0.85v0.85h-0.85zM173.1 197.5h0.85v0.85h-0.85zM160.1 193.8h0.85v0.85h-0.85zM135.2 176.5h0.85v0.85h-0.85zM185.6 178.5h0.85v0.85h-0.85zM171.2 220.4h0.85v0.85h-0.85zM136.8 176.5h0.85v0.85h-0.85zM167.8 194.4h0.85v0.85h-0.85zM168.0 192.5h0.85v0.85h-0.85zM144.0 186.0h0.85v0.85h-0.85zM182.8 175.6h0.85v0.85h-0.85zM161.8 190.0h0.85v0.85h-0.85zM181.4 181.1h0.85v0.85h-0.85zM188.9 194.3h0.85v0.85h-0.85zM170.2 187.3h0.85v0.85h-0.85zM154.0 174.0h0.85v0.85h-0.85zM178.8 190.0h0.85v0.85h-0.85zM180.0 200.6h0.85v0.85h-0.85zM149.9 191.9h0.85v0.85h-0.85zM153.6 164.8h0.85v0.85h-0.85zM182.7 191.7h0.85v0.85h-0.85zM167.1 207.0h0.85v0.85h-0.85zM145.4 206.2h0.85v0.85h-0.85zM156.6 195.1h0.85v0.85h-0.85z" fill="#333" fill-opacity=".6"/><path d="M168.3 205.9h0.85v0.85h-0.85zM177.9 224.9h0.85v0.85h-0.85zM145.1 211.7h0.85v0.85h-0.85zM143.9 220.1h0.85v0.85h-0.85zM162.5 225.3h0.85v0.85h-0.85zM153.7 224.6h0.85v0.85h-0.85zM146.5 222.0h0.85v0.85h-0.85zM144.5 215.6h0.85v0.85h-0.85zM177.7 223.5h0.85v0.85h-0.85zM171.9 225.4h0.85v0.85h-0.85zM150.2 208.0h0.85v0.85h-0.85zM158.8 227.9h0.85v0.85h-0.85zM147.5 210.0h0.85v0.85h-0.85zM144.4 212.7h0.85v0.85h-0.85zM177.8 206.9h0.85v0.85h-0.85zM155.2 225.2h0.85v0.85h-0.85zM165.0 205.2h0.85v0.85h-0.85zM154.5 203.8h0.85v0.85h-0.85zM146.7 208.6h0.85v0.85h-0.85zM147.5 221.5h0.85v0.85h-0.85zM145.4 220.6h0.85v0.85h-0.85zM173.8 206.8h0.85v0.85h-0.85zM164.1 225.2h0.85v0.85h-0.85zM144.5 216.7h0.85v0.85h-0.85zM168.1 206.2h0.85v0.85h-0.85zM156.9 226.6h0.85v0.85h-0.85zM174.8 207.1h0.85v0.85h-0.85zM158.5 228.3h0.85v0.85h-0.85zM180.9 219.0h0.85v0.85h-0.85zM169.4 227.5h0.85v0.85h-0.85zM184.5 218.1h0.85v0.85h-0.85zM159.6 227.0h0.85v0.85h-0.85zM184.1 221.7h0.85v0.85h-0.85zM182.7 219.1h0.85v0.85h-0.85zM178.1 207.2h0.85v0.85h-0.85zM186.6 220.4h0.85v0.85h-0.85zM149.2 224.2h0.85v0.85h-0.85zM148.1 222.1h0.85v0.85h-0.85zM170.7 225.4h0.85v0.85h-0.85zM177.3 208.0h0.85v0.85h-0.85zM147.7 223.0h0.85v0.85h-0.85zM140.1 220.0h0.85v0.85h-0.85zM153.4 225.6h0.85v0.85h-0.85zM178.6 208.5h0.85v0.85h-0.85zM141.0 214.3h0.85v0.85h-0.85zM182.0 211.3h0.85v0.85h-0.85zM186.5 213.5h0.85v0.85h-0.85zM149.9 207.6h0.85v0.85h-0.85zM172.2 225.2h0.85v0.85h-0.85zM178.5 222.5h0.85v0.85h-0.85zM184.2 213.6h0.85v0.85h-0.85zM180.1 207.2h0.85v0.85h-0.85zM182.0 221.6h0.85v0.85h-0.85zM147.8 223.0h0.85v0.85h-0.85zM153.9 205.7h0.85v0.85h-0.85zM174.5 226.2h0.85v0.85h-0.85zM175.9 207.2h0.85v0.85h-0.85zM163.6 204.1h0.85v0.85h-0.85zM145.5 222.4h0.85v0.85h-0.85zM145.9 211.8h0.85v0.85h-0.85zM172.8 205.7h0.85v0.85h-0.85zM170.0 225.3h0.85v0.85h-0.85zM164.6 204.5h0.85v0.85h-0.85zM170.3 225.4h0.85v0.85h-0.85zM144.5 226.1h0.85v0.85h-0.85zM147.7 223.9h0.85v0.85h-0.85zM143.7 218.0h0.85v0.85h-0.85zM175.6 225.2h0.85v0.85h-0.85zM183.5 218.3h0.85v0.85h-0.85zM142.6 222.4h0.85v0.85h-0.85zM146.1 208.8h0.85v0.85h-0.85zM149.7 223.9h0.85v0.85h-0.85zM155.1 206.4h0.85v0.85h-0.85zM144.2 222.4h0.85v0.85h-0.85zM143.8 207.3h0.85v0.85h-0.85zM167.1 227.8h0.85v0.85h-0.85zM180.3 223.7h0.85v0.85h-0.85zM155.2 205.0h0.85v0.85h-0.85zM150.5 205.1h0.85v0.85h-0.85zM151.2 206.5h0.85v0.85h-0.85zM146.7 222.9h0.85v0.85h-0.85zM151.1 204.9h0.85v0.85h-0.85zM156.5 227.3h0.85v0.85h-0.85zM173.9 226.7h0.85v0.85h-0.85zM144.2 217.3h0.85v0.85h-0.85zM179.1 227.1h0.85v0.85h-0.85zM146.0 220.7h0.85v0.85h-0.85zM146.1 210.4h0.85v0.85h-0.85zM144.4 211.7h0.85v0.85h-0.85zM147.2 209.2h0.85v0.85h-0.85zM151.0 224.3h0.85v0.85h-0.85zM147.6 207.1h0.85v0.85h-0.85zM186.0 213.2h0.85v0.85h-0.85zM176.2 223.6h0.85v0.85h-0.85zM147.2 224.2h0.85v0.85h-0.85zM150.7 207.2h0.85v0.85h-0.85zM151.5 204.4h0.85v0.85h-0.85zM171.5 205.2h0.85v0.85h-0.85zM161.0 226.4h0.85v0.85h-0.85zM153.2 208.2h0.85v0.85h-0.85zM144.5 213.8h0.85v0.85h-0.85zM146.5 222.4h0.85v0.85h-0.85zM144.4 210.1h0.85v0.85h-0.85zM178.5 207.5h0.85v0.85h-0.85zM143.3 220.6h0.85v0.85h-0.85zM149.5 227.1h0.85v0.85h-0.85zM174.5 224.1h0.85v0.85h-0.85zM177.4 224.0h0.85v0.85h-0.85zM180.7 223.3h0.85v0.85h-0.85zM166.6 225.5h0.85v0.85h-0.85zM179.4 225.0h0.85v0.85h-0.85zM144.4 206.1h0.85v0.85h-0.85zM184.0 221.8h0.85v0.85h-0.85zM146.3 219.1h0.85v0.85h-0.85zM144.4 224.0h0.85v0.85h-0.85zM144.3 213.0h0.85v0.85h-0.85zM170.6 206.7h0.85v0.85h-0.85zM168.8 205.7h0.85v0.85h-0.85zM141.1 221.9h0.85v0.85h-0.85zM146.1 223.1h0.85v0.85h-0.85zM149.6 208.6h0.85v0.85h-0.85zM158.6 225.6h0.85v0.85h-0.85zM151.9 223.7h0.85v0.85h-0.85zM155.0 225.5h0.85v0.85h-0.85zM150.4 222.9h0.85v0.85h-0.85zM180.0 222.8h0.85v0.85h-0.85zM167.7 204.6h0.85v0.85h-0.85zM179.5 207.0h0.85v0.85h-0.85zM157.8 225.5h0.85v0.85h-0.85zM181.4 208.9h0.85v0.85h-0.85zM153.2 206.6h0.85v0.85h-0.85zM145.3 213.5h0.85v0.85h-0.85zM182.2 209.5h0.85v0.85h-0.85zM173.2 205.7h0.85v0.85h-0.85zM143.7 219.6h0.85v0.85h-0.85zM145.3 223.4h0.85v0.85h-0.85zM162.4 226.3h0.85v0.85h-0.85zM147.0 210.1h0.85v0.85h-0.85zM178.3 208.4h0.85v0.85h-0.85zM181.5 210.7h0.85v0.85h-0.85zM155.7 227.8h0.85v0.85h-0.85zM146.1 209.1h0.85v0.85h-0.85zM145.0 218.6h0.85v0.85h-0.85zM170.7 204.5h0.85v0.85h-0.85zM181.2 219.8h0.85v0.85h-0.85zM147.3 221.1h0.85v0.85h-0.85zM166.1 203.1h0.85v0.85h-0.85zM148.0 207.2h0.85v0.85h-0.85zM141.5 216.1h0.85v0.85h-0.85zM144.8 213.2h0.85v0.85h-0.85zM179.1 223.0h0.85v0.85h-0.85zM162.0 205.9h0.85v0.85h-0.85zM145.3 209.5h0.85v0.85h-0.85zM161.2 225.3h0.85v0.85h-0.85zM181.5 209.4h0.85v0.85h-0.85zM151.2 206.6h0.85v0.85h-0.85zM147.0 220.6h0.85v0.85h-0.85zM146.6 212.6h0.85v0.85h-0.85zM145.1 214.7h0.85v0.85h-0.85zM147.8 223.8h0.85v0.85h-0.85zM152.5 226.1h0.85v0.85h-0.85zM155.8 227.4h0.85v0.85h-0.85zM185.6 211.1h0.85v0.85h-0.85zM152.8 204.3h0.85v0.85h-0.85zM183.3 218.1h0.85v0.85h-0.85zM170.7 205.9h0.85v0.85h-0.85zM182.2 220.1h0.85v0.85h-0.85zM144.8 219.7h0.85v0.85h-0.85zM183.1 215.9h0.85v0.85h-0.85zM162.8 205.3h0.85v0.85h-0.85zM179.4 205.7h0.85v0.85h-0.85zM161.8 225.8h0.85v0.85h-0.85zM174.6 204.9h0.85v0.85h-0.85zM158.7 225.7h0.85v0.85h-0.85zM145.6 219.4h0.85v0.85h-0.85zM149.0 209.1h0.85v0.85h-0.85zM153.9 225.4h0.85v0.85h-0.85zM167.0 204.5h0.85v0.85h-0.85zM146.4 208.4h0.85v0.85h-0.85zM183.7 222.9h0.85v0.85h-0.85zM175.4 205.0h0.85v0.85h-0.85zM184.1 214.6h0.85v0.85h-0.85zM153.8 207.8h0.85v0.85h-0.85zM169.5 227.9h0.85v0.85h-0.85zM145.7 208.3h0.85v0.85h-0.85zM184.6 212.4h0.85v0.85h-0.85zM148.6 206.8h0.85v0.85h-0.85zM177.5 206.2h0.85v0.85h-0.85zM179.6 224.3h0.85v0.85h-0.85zM165.5 228.4h0.85v0.85h-0.85zM181.6 219.1h0.85v0.85h-0.85zM149.3 206.4h0.85v0.85h-0.85zM144.7 211.5h0.85v0.85h-0.85zM155.5 227.3h0.85v0.85h-0.85zM181.5 209.5h0.85v0.85h-0.85zM145.1 209.9h0.85v0.85h-0.85zM181.4 211.0h0.85v0.85h-0.85zM145.9 221.0h0.85v0.85h-0.85zM166.1 203.6h0.85v0.85h-0.85zM182.7 210.9h0.85v0.85h-0.85zM149.9 224.5h0.85v0.85h-0.85zM154.4 205.9h0.85v0.85h-0.85zM155.7 205.6h0.85v0.85h-0.85zM152.0 225.2h0.85v0.85h-0.85zM147.5 209.8h0.85v0.85h-0.85zM145.7 211.7h0.85v0.85h-0.85zM180.8 209.3h0.85v0.85h-0.85zM184.6 220.1h0.85v0.85h-0.85zM179.2 222.3h0.85v0.85h-0.85zM144.0 219.9h0.85v0.85h-0.85zM182.4 209.2h0.85v0.85h-0.85zM179.2 221.7h0.85v0.85h-0.85zM145.2 213.0h0.85v0.85h-0.85zM178.7 224.0h0.85v0.85h-0.85zM178.8 208.4h0.85v0.85h-0.85zM168.9 226.6h0.85v0.85h-0.85zM174.8 225.7h0.85v0.85h-0.85zM183.4 217.7h0.85v0.85h-0.85zM184.1 210.4h0.85v0.85h-0.85zM165.5 204.3h0.85v0.85h-0.85zM145.5 211.8h0.85v0.85h-0.85zM150.8 227.1h0.85v0.85h-0.85zM148.5 208.9h0.85v0.85h-0.85zM142.8 217.3h0.85v0.85h-0.85zM176.8 224.6h0.85v0.85h-0.85zM186.5 210.9h0.85v0.85h-0.85zM182.0 220.7h0.85v0.85h-0.85zM179.2 207.1h0.85v0.85h-0.85zM143.7 218.1h0.85v0.85h-0.85zM185.3 210.9h0.85v0.85h-0.85zM175.5 207.0h0.85v0.85h-0.85zM182.0 209.1h0.85v0.85h-0.85zM139.9 210.7h0.85v0.85h-0.85zM178.4 206.2h0.85v0.85h-0.85zM177.4 206.3h0.85v0.85h-0.85zM151.6 225.4h0.85v0.85h-0.85zM176.8 206.9h0.85v0.85h-0.85zM166.8 205.4h0.85v0.85h-0.85zM168.7 204.3h0.85v0.85h-0.85zM158.0 205.5h0.85v0.85h-0.85z" fill="#333" fill-opacity=".6"/><path d="M186.6 195.1h0.85v0.85h-0.85zM185.2 165.6h0.85v0.85h-0.85zM193.2 190.9h0.85v0.85h-0.85zM179.9 172.9h0.85v0.85h-0.85zM184.9 196.8h0.85v0.85h-0.85zM199.8 195.1h0.85v0.85h-0.85zM196.1 179.5h0.85v0.85h-0.85zM190.1 164.5h0.85v0.85h-0.85zM182.7 190.1h0.85v0.85h-0.85zM185.7 194.1h0.85v0.85h-0.85zM183.7 192.3h0.85v0.85h-0.85zM197.4 183.1h0.85v0.85h-0.85zM200.6 186.6h0.85v0.85h-0.85zM182.2 189.1h0.85v0.85h-0.85zM186.8 190.3h0.85v0.85h-0.85zM184.5 190.7h0.85v0.85h-0.85zM192.7 166.0h0.85v0.85h-0.85zM183.7 181.6h0.85v0.85h-0.85zM193.1 194.7h0.85v0.85h-0.85zM182.0 185.0h0.85v0.85h-0.85zM186.2 168.9h0.85v0.85h-0.85zM192.4 167.9h0.85v0.85h-0.85zM194.7 175.1h0.85v0.85h-0.85zM191.5 200.2h0.85v0.85h-0.85zM197.1 172.9h0.85v0.85h-0.85zM190.6 196.1h0.85v0.85h-0.85zM184.7 168.8h0.85v0.85h-0.85zM198.5 165.9h0.85v0.85h-0.85zM186.2 171.4h0.85v0.85h-0.85zM182.4 160.7h0.85v0.85h-0.85zM191.7 190.2h0.85v0.85h-0.85zM192.9 166.3h0.85v0.85h-0.85zM186.4 201.4h0.85v0.85h-0.85zM189.3 165.6h0.85v0.85h-0.85zM194.8 173.1h0.85v0.85h-0.85zM195.9 161.4h0.85v0.85h-0.85zM193.0 167.6h0.85v0.85h-0.85zM192.3 159.7h0.85v0.85h-0.85zM180.6 183.0h0.85v0.85h-0.85zM189.4 169.4h0.85v0.85h-0.85zM190.0 166.8h0.85v0.85h-0.85zM195.1 171.3h0.85v0.85h-0.85zM185.3 168.1h0.85v0.85h-0.85zM178.6 180.7h0.85v0.85h-0.85zM184.8 158.3h0.85v0.85h-0.85zM192.8 167.3h0.85v0.85h-0.85zM194.2 188.2h0.85v0.85h-0.85zM197.8 186.3h0.85v0.85h-0.85zM185.2 192.3h0.85v0.85h-0.85zM193.2 195.0h0.85v0.85h-0.85zM182.0 180.3h0.85v0.85h-0.85zM188.6 193.6h0.85v0.85h-0.85zM199.7 180.6h0.85v0.85h-0.85zM189.4 165.3h0.85v0.85h-0.85zM186.7 158.7h0.85v0.85h-0.85zM182.2 205.4h0.85v0.85h-0.85zM182.7 173.9h0.85v0.85h-0.85zM185.6 166.6h0.85v0.85h-0.85zM183.3 187.6h0.85v0.85h-0.85zM197.2 177.3h0.85v0.85h-0.85zM181.8 189.5h0.85v0.85h-0.85zM187.1 198.4h0.85v0.85h-0.85zM192.4 190.8h0.85v0.85h-0.85zM184.6 187.7h0.85v0.85h-0.85zM197.7 169.5h0.85v0.85h-0.85zM183.4 178.4h0.85v0.85h-0.85zM181.6 169.7h0.85v0.85h-0.85zM188.1 199.2h0.85v0.85h-0.85zM187.6 166.1h0.85v0.85h-0.85zM190.8 168.9h0.85v0.85h-0.85zM197.2 185.0h0.85v0.85h-0.85zM192.2 163.6h0.85v0.85h-0.85zM184.4 167.6h0.85v0.85h-0.85zM190.2 201.6h0.85v0.85h-0.85zM180.7 184.9h0.85v0.85h-0.85zM189.5 190.5h0.85v0.85h-0.85zM187.3 193.2h0.85v0.85h-0.85zM185.0 201.9h0.85v0.85h-0.85zM199.1 184.8h0.85v0.85h-0.85zM183.2 172.4h0.85v0.85h-0.85zM181.9 179.5h0.85v0.85h-0.85zM197.0 167.5h0.85v0.85h-0.85zM194.9 179.8h0.85v0.85h-0.85zM181.8 194.5h0.85v0.85h-0.85zM183.2 180.0h0.85v0.85h-0.85zM191.4 166.2h0.85v0.85h-0.85zM189.2 195.7h0.85v0.85h-0.85zM188.2 192.0h0.85v0.85h-0.85zM195.0 189.6h0.85v0.85h-0.85zM183.2 188.4h0.85v0.85h-0.85zM182.5 172.7h0.85v0.85h-0.85zM186.3 189.0h0.85v0.85h-0.85zM182.8 194.5h0.85v0.85h-0.85zM194.0 182.9h0.85v0.85h-0.85zM186.9 158.6h0.85v0.85h-0.85zM179.4 185.0h0.85v0.85h-0.85zM182.9 192.6h0.85v0.85h-0.85zM181.4 180.7h0.85v0.85h-0.85zM182.1 177.7h0.85v0.85h-0.85zM188.3 161.6h0.85v0.85h-0.85zM182.5 181.6h0.85v0.85h-0.85zM180.1 191.6h0.85v0.85h-0.85zM183.6 173.5h0.85v0.85h-0.85zM190.0 163.2h0.85v0.85h-0.85zM192.6 172.5h0.85v0.85h-0.85zM188.2 192.8h0.85v0.85h-0.85zM183.6 165.7h0.85v0.85h-0.85zM185.8 163.8h0.85v0.85h-0.85zM181.2 168.1h0.85v0.85h-0.85zM193.2 164.8h0.85v0.85h-0.85zM197.1 175.5h0.85v0.85h-0.85zM181.9 169.6h0.85v0.85h-0.85zM183.7 191.1h0.85v0.85h-0.85zM198.6 176.5h0.85v0.85h-0.85zM181.9 188.6h0.85v0.85h-0.85zM180.7 178.8h0.85v0.85h-0.85zM194.9 187.3h0.85v0.85h-0.85zM183.3 167.0h0.85v0.85h-0.85zM196.1 168.7h0.85v0.85h-0.85zM193.3 174.0h0.85v0.85h-0.85zM188.5 160.1h0.85v0.85h-0.85zM198.4 189.0h0.85v0.85h-0.85zM194.1 162.3h0.85v0.85h-0.85zM196.7 173.6h0.85v0.85h-0.85zM182.4 171.0h0.85v0.85h-0.85zM193.9 176.5h0.85v0.85h-0.85zM194.4 170.2h0.85v0.85h-0.85zM194.2 181.4h0.85v0.85h-0.85zM193.0 165.4h0.85v0.85h-0.85zM193.4 166.5h0.85v0.85h-0.85zM181.5 174.2h0.85v0.85h-0.85zM196.3 184.1h0.85v0.85h-0.85zM182.9 192.3h0.85v0.85h-0.85zM182.7 193.2h0.85v0.85h-0.85zM199.1 173.8h0.85v0.85h-0.85zM194.7 163.4h0.85v0.85h-0.85zM196.5 191.1h0.85v0.85h-0.85zM185.4 190.1h0.85v0.85h-0.85zM195.1 195.6h0.85v0.85h-0.85zM198.2 192.8h0.85v0.85h-0.85zM180.7 175.4h0.85v0.85h-0.85zM186.4 190.8h0.85v0.85h-0.85zM179.6 173.2h0.85v0.85h-0.85zM181.1 169.6h0.85v0.85h-0.85zM188.3 168.7h0.85v0.85h-0.85zM184.3 194.5h0.85v0.85h-0.85zM181.2 183.9h0.85v0.85h-0.85zM184.7 164.8h0.85v0.85h-0.85zM181.2 180.6h0.85v0.85h-0.85zM196.3 179.3h0.85v0.85h-0.85zM191.2 163.8h0.85v0.85h-0.85zM191.2 161.8h0.85v0.85h-0.85zM187.1 168.2h0.85v0.85h-0.85zM195.7 181.9h0.85v0.85h-0.85zM194.3 168.2h0.85v0.85h-0.85zM198.4 174.8h0.85v0.85h-0.85zM185.0 172.9h0.85v0.85h-0.85zM187.2 166.8h0.85v0.85h-0.85zM179.3 191.1h0.85v0.85h-0.85zM192.4 171.3h0.85v0.85h-0.85zM194.9 167.2h0.85v0.85h-0.85zM183.7 182.0h0.85v0.85h-0.85zM192.6 190.5h0.85v0.85h-0.85zM197.5 189.4h0.85v0.85h-0.85zM197.6 180.1h0.85v0.85h-0.85zM196.1 179.7h0.85v0.85h-0.85zM183.7 181.0h0.85v0.85h-0.85zM183.3 189.4h0.85v0.85h-0.85zM201.4 178.5h0.85v0.85h-0.85zM192.7 162.6h0.85v0.85h-0.85zM194.3 191.8h0.85v0.85h-0.85zM197.3 184.8h0.85v0.85h-0.85zM192.2 163.9h0.85v0.85h-0.85zM187.9 167.3h0.85v0.85h-0.85zM197.6 184.2h0.85v0.85h-0.85zM188.8 194.0h0.85v0.85h-0.85zM194.7 188.0h0.85v0.85h-0.85zM186.0 190.1h0.85v0.85h-0.85zM183.6 182.0h0.85v0.85h-0.85zM186.0 192.8h0.85v0.85h-0.85zM185.6 168.3h0.85v0.85h-0.85zM182.9 196.0h0.85v0.85h-0.85zM190.3 195.5h0.85v0.85h-0.85zM186.0 193.9h0.85v0.85h-0.85zM180.3 183.0h0.85v0.85h-0.85zM182.5 167.4h0.85v0.85h-0.85zM193.1 173.3h0.85v0.85h-0.85zM197.4 186.4h0.85v0.85h-0.85zM187.2 191.4h0.85v0.85h-0.85zM190.5 160.5h0.85v0.85h-0.85zM196.8 172.3h0.85v0.85h-0.85zM183.7 171.9h0.85v0.85h-0.85zM189.8 168.2h0.85v0.85h-0.85zM194.0 191.8h0.85v0.85h-0.85zM195.1 166.8h0.85v0.85h-0.85zM196.8 182.9h0.85v0.85h-0.85zM193.5 165.8h0.85v0.85h-0.85zM197.4 188.8h0.85v0.85h-0.85zM188.0 169.1h0.85v0.85h-0.85zM183.1 190.0h0.85v0.85h-0.85zM194.7 178.9h0.85v0.85h-0.85zM194.4 184.1h0.85v0.85h-0.85zM191.7 163.5h0.85v0.85h-0.85zM194.4 173.7h0.85v0.85h-0.85zM195.5 176.3h0.85v0.85h-0.85zM185.5 189.3h0.85v0.85h-0.85zM193.7 172.2h0.85v0.85h-0.85zM194.6 168.6h0.85v0.85h-0.85zM198.3 170.6h0.85v0.85h-0.85zM196.0 184.4h0.85v0.85h-0.85zM196.6 186.4h0.85v0.85h-0.85zM184.5 192.4h0.85v0.85h-0.85zM188.3 164.1h0.85v0.85h-0.85zM183.2 189.0h0.85v0.85h-0.85zM183.0 188.8h0.85v0.85h-0.85zM183.5 183.0h0.85v0.85h-0.85zM180.6 184.9h0.85v0.85h-0.85zM191.4 162.8h0.85v0.85h-0.85z" fill="#333" fill-opacity=".6"/><ellipse cx="189" cy="180" rx="5.7" ry="11.4" fill="#fff" stroke="#4a4a4a" stroke-width=".45"/><ellipse cx="189" cy="180" rx="3" ry="7.2" fill="none" stroke="#4a4a4a" stroke-width=".45"/><path d="M185.3 214.2h0.85v0.85h-0.85zM189.8 232.9h0.85v0.85h-0.85zM196.9 223.5h0.85v0.85h-0.85zM194.2 213.8h0.85v0.85h-0.85zM190.6 232.4h0.85v0.85h-0.85zM188.0 202.7h0.85v0.85h-0.85zM192.8 211.5h0.85v0.85h-0.85zM190.3 201.6h0.85v0.85h-0.85zM185.3 210.8h0.85v0.85h-0.85zM187.7 214.4h0.85v0.85h-0.85zM198.6 214.9h0.85v0.85h-0.85zM192.6 209.0h0.85v0.85h-0.85zM181.7 214.6h0.85v0.85h-0.85zM190.1 206.4h0.85v0.85h-0.85zM185.4 218.0h0.85v0.85h-0.85zM193.5 211.2h0.85v0.85h-0.85zM194.9 199.7h0.85v0.85h-0.85zM189.4 222.9h0.85v0.85h-0.85zM188.0 214.0h0.85v0.85h-0.85zM188.5 214.7h0.85v0.85h-0.85zM184.0 200.3h0.85v0.85h-0.85zM195.4 215.8h0.85v0.85h-0.85zM195.8 204.4h0.85v0.85h-0.85zM191.4 210.6h0.85v0.85h-0.85zM177.3 200.9h0.85v0.85h-0.85zM192.9 225.1h0.85v0.85h-0.85zM187.0 225.2h0.85v0.85h-0.85zM183.7 216.8h0.85v0.85h-0.85zM188.0 202.7h0.85v0.85h-0.85zM195.1 206.5h0.85v0.85h-0.85zM192.8 219.0h0.85v0.85h-0.85zM185.9 206.4h0.85v0.85h-0.85zM189.3 211.2h0.85v0.85h-0.85zM200.7 217.0h0.85v0.85h-0.85zM186.2 213.1h0.85v0.85h-0.85zM188.8 211.0h0.85v0.85h-0.85zM195.6 216.3h0.85v0.85h-0.85zM188.1 218.1h0.85v0.85h-0.85zM195.9 216.4h0.85v0.85h-0.85zM186.5 224.0h0.85v0.85h-0.85zM199.0 205.3h0.85v0.85h-0.85zM195.3 218.0h0.85v0.85h-0.85zM193.1 217.7h0.85v0.85h-0.85zM188.7 210.1h0.85v0.85h-0.85zM208.8 235.1h0.85v0.85h-0.85zM181.8 229.6h0.85v0.85h-0.85zM194.5 212.6h0.85v0.85h-0.85zM195.6 222.9h0.85v0.85h-0.85zM190.8 215.8h0.85v0.85h-0.85zM198.5 204.7h0.85v0.85h-0.85zM181.3 215.9h0.85v0.85h-0.85zM199.3 209.0h0.85v0.85h-0.85zM192.6 208.5h0.85v0.85h-0.85zM189.9 211.0h0.85v0.85h-0.85zM203.0 198.9h0.85v0.85h-0.85zM186.3 201.4h0.85v0.85h-0.85zM192.0 228.6h0.85v0.85h-0.85zM177.6 189.3h0.85v0.85h-0.85zM193.7 211.0h0.85v0.85h-0.85zM189.4 212.4h0.85v0.85h-0.85zM190.0 209.3h0.85v0.85h-0.85zM187.5 212.6h0.85v0.85h-0.85zM186.7 208.6h0.85v0.85h-0.85zM194.0 217.4h0.85v0.85h-0.85zM196.0 221.0h0.85v0.85h-0.85zM191.9 226.9h0.85v0.85h-0.85zM193.2 213.8h0.85v0.85h-0.85zM177.3 220.9h0.85v0.85h-0.85zM192.7 210.9h0.85v0.85h-0.85zM180.5 209.6h0.85v0.85h-0.85zM184.0 211.0h0.85v0.85h-0.85zM191.7 211.2h0.85v0.85h-0.85zM189.1 210.7h0.85v0.85h-0.85zM202.4 204.2h0.85v0.85h-0.85zM193.6 204.9h0.85v0.85h-0.85zM188.1 221.1h0.85v0.85h-0.85zM183.9 211.4h0.85v0.85h-0.85zM183.1 223.5h0.85v0.85h-0.85zM192.1 217.9h0.85v0.85h-0.85zM189.5 220.4h0.85v0.85h-0.85zM182.3 216.4h0.85v0.85h-0.85zM176.9 222.0h0.85v0.85h-0.85zM186.4 208.2h0.85v0.85h-0.85zM198.1 211.7h0.85v0.85h-0.85zM193.4 207.9h0.85v0.85h-0.85zM187.5 219.9h0.85v0.85h-0.85zM186.1 207.6h0.85v0.85h-0.85zM193.5 209.4h0.85v0.85h-0.85zM180.9 210.4h0.85v0.85h-0.85zM199.9 206.1h0.85v0.85h-0.85zM180.9 218.9h0.85v0.85h-0.85zM187.0 207.4h0.85v0.85h-0.85zM202.7 213.0h0.85v0.85h-0.85zM183.3 216.7h0.85v0.85h-0.85zM187.5 234.0h0.85v0.85h-0.85zM192.3 209.4h0.85v0.85h-0.85zM187.1 211.1h0.85v0.85h-0.85zM185.7 217.9h0.85v0.85h-0.85zM202.1 196.7h0.85v0.85h-0.85zM189.9 216.5h0.85v0.85h-0.85z" fill="#333" fill-opacity=".6"/><path d="M176 208c5-3 13-5 16-2c3 3 3 9 1 13c-3 4-9 4-13 0z" fill="#fff" stroke="#666" stroke-width=".5"/><path d="M184 200c-1 4-1 8 1 11M194 199c1 4 1 8-1 12" fill="none" stroke="#666" stroke-width=".45"/><path d="M182 215.6 181.86 217.7 181.43 219.17 180.72 220.44 179.73 221.54 178.47 222.5 176.94 223.32 175.14 223.99 173.07 224.52 170.7 224.9 167.93 225.12 164 225.2 160.07 225.12 157.3 224.9 154.93 224.52 152.86 223.99 151.06 223.32 149.53 222.5 148.27 221.54 147.28 220.44 146.57 219.17 146.14 217.7 146 215.6 146.14 213.5 146.57 212.03 147.28 210.76 148.27 209.66 149.53 208.7 151.06 207.88 152.86 207.21 154.93 206.68 157.3 206.3 160.07 206.08 164 206 167.93 206.08 170.7 206.3 173.07 206.68 175.14 207.21 176.94 207.88 178.47 208.7 179.73 209.66 180.72 210.76 181.43 212.03 181.86 213.5Z" fill="#bcbcbc" stroke="#7a7a7a" stroke-width=".8"/><path d="M180.2 215.6 180.07 217.49 179.69 218.82 179.05 219.95 178.16 220.95 177.02 221.81 175.64 222.54 174.03 223.15 172.16 223.62 170.03 223.97 167.54 224.17 164 224.24 160.46 224.17 157.97 223.97 155.84 223.62 153.97 223.15 152.36 222.54 150.98 221.81 149.84 220.95 148.95 219.95 148.31 218.82 147.93 217.49 147.8 215.6 147.93 213.71 148.31 212.38 148.95 211.25 149.84 210.25 150.98 209.39 152.36 208.66 153.97 208.05 155.84 207.58 157.97 207.23 160.46 207.03 164 206.96 167.54 207.03 170.03 207.23 172.16 207.58 174.03 208.05 175.64 208.66 177.02 209.39 178.16 210.25 179.05 211.25 179.69 212.38 180.07 213.71Z" fill="none" stroke="#d8d8d8" stroke-width=".6"/><ellipse cx="167.5" cy="216.2" rx="9.5" ry="4.4" fill="#787878"/><path d="M177.68 215.6 177.57 217.19 177.25 218.32 176.71 219.28 175.95 220.12 175 220.84 173.83 221.46 172.47 221.98 170.89 222.38 169.09 222.66 166.99 222.84 164 222.9 161.01 222.84 158.91 222.66 157.11 222.38 155.53 221.98 154.17 221.46 153 220.84 152.05 220.12 151.29 219.28 150.75 218.32 150.43 217.19 150.32 215.6 150.43 214.01 150.75 212.88 151.29 211.92 152.05 211.08 153 210.36 154.17 209.74 155.53 209.22 157.11 208.82 158.91 208.54 161.01 208.36 164 208.3 166.99 208.36 169.09 208.54 170.89 208.82 172.47 209.22 173.83 209.74 175 210.36 175.95 211.08 176.71 211.92 177.25 212.88 177.57 214.01ZM175.52 215.6 175.43 216.94 175.15 217.89 174.7 218.7 174.07 219.4 173.26 220.02 172.28 220.54 171.13 220.97 169.81 221.31 168.29 221.55 166.52 221.7 164 221.74 161.48 221.7 159.71 221.55 158.19 221.31 156.87 220.97 155.72 220.54 154.74 220.02 153.93 219.4 153.3 218.7 152.85 217.89 152.57 216.94 152.48 215.6 152.57 214.26 152.85 213.31 153.3 212.5 153.93 211.8 154.74 211.18 155.72 210.66 156.87 210.23 158.19 209.89 159.71 209.65 161.48 209.5 164 209.46 166.52 209.5 168.29 209.65 169.81 209.89 171.13 210.23 172.28 210.66 173.26 211.18 174.07 211.8 174.7 212.5 175.15 213.31 175.43 214.26ZM173.36 215.6 173.29 216.69 173.06 217.46 172.69 218.12 172.18 218.69 171.52 219.19 170.73 219.61 169.79 219.96 168.72 220.24 167.48 220.43 166.05 220.55 164 220.59 161.95 220.55 160.52 220.43 159.28 220.24 158.21 219.96 157.27 219.61 156.48 219.19 155.82 218.69 155.31 218.12 154.94 217.46 154.71 216.69 154.64 215.6 154.71 214.51 154.94 213.74 155.31 213.08 155.82 212.51 156.48 212.01 157.27 211.59 158.21 211.24 159.28 210.96 160.52 210.77 161.95 210.65 164 210.61 166.05 210.65 167.48 210.77 168.72 210.96 169.79 211.24 170.73 211.59 171.52 212.01 172.18 212.51 172.69 213.08 173.06 213.74 173.29 214.51ZM171.2 215.6 171.14 216.44 170.97 217.03 170.69 217.54 170.29 217.98 169.79 218.36 169.18 218.69 168.46 218.96 167.63 219.17 166.68 219.32 165.57 219.41 164 219.44 162.43 219.41 161.32 219.32 160.37 219.17 159.54 218.96 158.82 218.69 158.21 218.36 157.71 217.98 157.31 217.54 157.03 217.03 156.86 216.44 156.8 215.6 156.86 214.76 157.03 214.17 157.31 213.66 157.71 213.22 158.21 212.84 158.82 212.51 159.54 212.24 160.37 212.03 161.32 211.88 162.43 211.79 164 211.76 165.57 211.79 166.68 211.88 167.63 212.03 168.46 212.24 169.18 212.51 169.79 212.84 170.29 213.22 170.69 213.66 170.97 214.17 171.14 214.76Z" fill="none" stroke="#959595" stroke-width=".4"/><ellipse cx="163" cy="216.4" rx="9" ry="1.1" fill="#e4e4e4"/><rect x="132.3" y="157.2" width="82" height="81.3" fill="none" stroke="#999" stroke-width=".9"/><path d="M130.7 164.52h1.6M130.7 184.03h1.6M130.7 205.98h1.6M130.7 232h1.6M148.7 238.5v1.6M169.2 238.5v1.6M191.34 238.5v1.6M207.74 238.5v1.6" stroke="#666" stroke-width=".7"/><path d="M131.4 163.54h.9M131.4 165.49h.9M131.4 167.44h.9M131.4 169.39h.9M131.4 171.35h.9M131.4 173.3h.9M131.4 175.25h.9M131.4 177.2h.9M131.4 179.15h.9M131.4 181.1h.9M131.4 183.05h.9M131.4 185h.9M131.4 186.96h.9M131.4 188.91h.9M131.4 190.86h.9M131.4 192.81h.9M131.4 194.76h.9M131.4 196.71h.9M131.4 198.66h.9M131.4 200.61h.9M131.4 202.57h.9M131.4 204.52h.9M131.4 206.47h.9M131.4 208.42h.9M131.4 210.37h.9M131.4 212.32h.9M131.4 214.27h.9M131.4 216.22h.9M131.4 218.18h.9M131.4 220.13h.9M131.4 222.08h.9M131.4 224.03h.9M131.4 225.98h.9M131.4 227.93h.9M131.4 229.88h.9M131.4 231.83h.9M131.4 233.78h.9M131.4 235.74h.9" stroke="#aaa" stroke-width=".4"/><rect x="130.1" y="218.99" width="1.8" height="2.2" fill="#222"/><rect x="150.34" y="238.9" width="2.6" height="1.6" fill="#222"/><rect x="173.9" y="161.5" width="29.4" height="36.9" fill="none" stroke="#7c7cff" stroke-width="1"/><text x="143.7" y="180.3" font-size="10" fill="#111" color="#111" textLength="17.1" lengthAdjust="spacingAndGlyphs">8.30</text><path d="M254.9 209.4h0.85v0.85h-0.85zM273.0 196.6h0.85v0.85h-0.85zM243.7 209.1h0.85v0.85h-0.85zM242.9 186.0h0.85v0.85h-0.85zM250.9 197.8h0.85v0.85h-0.85zM245.1 191.2h0.85v0.85h-0.85zM258.9 210.7h0.85v0.85h-0.85zM242.4 182.4h0.85v0.85h-0.85zM230.8 191.3h0.85v0.85h-0.85zM258.1 203.2h0.85v0.85h-0.85zM247.3 177.4h0.85v0.85h-0.85zM232.4 208.5h0.85v0.85h-0.85zM267.1 205.9h0.85v0.85h-0.85zM272.1 195.9h0.85v0.85h-0.85zM246.1 180.1h0.85v0.85h-0.85zM255.9 191.1h0.85v0.85h-0.85zM234.7 186.2h0.85v0.85h-0.85zM231.4 202.3h0.85v0.85h-0.85zM257.2 213.9h0.85v0.85h-0.85zM256.4 191.6h0.85v0.85h-0.85zM268.4 199.2h0.85v0.85h-0.85zM229.9 176.2h0.85v0.85h-0.85zM235.6 211.1h0.85v0.85h-0.85zM286.1 189.1h0.85v0.85h-0.85zM265.1 206.2h0.85v0.85h-0.85zM260.6 221.9h0.85v0.85h-0.85zM252.0 187.1h0.85v0.85h-0.85zM230.7 182.5h0.85v0.85h-0.85zM253.7 167.4h0.85v0.85h-0.85zM273.9 170.8h0.85v0.85h-0.85zM230.3 186.6h0.85v0.85h-0.85zM246.5 189.1h0.85v0.85h-0.85zM248.9 219.6h0.85v0.85h-0.85zM246.9 204.7h0.85v0.85h-0.85zM236.9 216.9h0.85v0.85h-0.85zM251.6 198.0h0.85v0.85h-0.85zM233.3 182.4h0.85v0.85h-0.85zM254.7 175.4h0.85v0.85h-0.85zM262.8 198.1h0.85v0.85h-0.85zM271.5 182.0h0.85v0.85h-0.85zM261.3 218.1h0.85v0.85h-0.85zM253.5 193.2h0.85v0.85h-0.85zM283.5 199.9h0.85v0.85h-0.85zM280.3 181.7h0.85v0.85h-0.85zM252.4 202.2h0.85v0.85h-0.85zM265.1 208.1h0.85v0.85h-0.85zM271.1 190.7h0.85v0.85h-0.85zM249.0 190.3h0.85v0.85h-0.85zM268.2 206.6h0.85v0.85h-0.85zM242.0 201.3h0.85v0.85h-0.85zM249.1 186.5h0.85v0.85h-0.85zM256.7 208.5h0.85v0.85h-0.85zM248.6 182.4h0.85v0.85h-0.85zM288.6 228.7h0.85v0.85h-0.85zM239.9 189.4h0.85v0.85h-0.85zM254.3 195.7h0.85v0.85h-0.85zM249.8 192.3h0.85v0.85h-0.85zM261.2 174.9h0.85v0.85h-0.85zM242.2 215.4h0.85v0.85h-0.85zM249.1 210.3h0.85v0.85h-0.85zM249.3 187.5h0.85v0.85h-0.85zM232.9 200.5h0.85v0.85h-0.85zM244.4 215.3h0.85v0.85h-0.85zM271.5 203.8h0.85v0.85h-0.85zM239.1 199.4h0.85v0.85h-0.85zM239.9 193.7h0.85v0.85h-0.85zM268.5 211.3h0.85v0.85h-0.85zM225.3 210.1h0.85v0.85h-0.85zM287.6 182.7h0.85v0.85h-0.85zM255.6 208.4h0.85v0.85h-0.85zM254.1 207.5h0.85v0.85h-0.85zM256.5 205.2h0.85v0.85h-0.85zM252.0 184.6h0.85v0.85h-0.85zM262.4 180.8h0.85v0.85h-0.85zM230.8 186.7h0.85v0.85h-0.85zM258.0 189.0h0.85v0.85h-0.85z" fill="#333" fill-opacity=".6"/><path d="M260.1 206.1h0.85v0.85h-0.85zM241.1 225.1h0.85v0.85h-0.85zM249.4 206.9h0.85v0.85h-0.85zM267.4 207.9h0.85v0.85h-0.85zM274.6 223.5h0.85v0.85h-0.85zM238.1 209.2h0.85v0.85h-0.85zM239.7 207.8h0.85v0.85h-0.85zM271.1 209.8h0.85v0.85h-0.85zM250.5 227.5h0.85v0.85h-0.85zM238.1 224.6h0.85v0.85h-0.85zM263.7 225.0h0.85v0.85h-0.85zM235.0 214.5h0.85v0.85h-0.85zM238.1 208.1h0.85v0.85h-0.85zM277.9 217.9h0.85v0.85h-0.85zM273.2 212.3h0.85v0.85h-0.85zM235.8 210.7h0.85v0.85h-0.85zM263.1 226.0h0.85v0.85h-0.85zM259.4 225.9h0.85v0.85h-0.85zM272.7 211.5h0.85v0.85h-0.85zM246.2 226.7h0.85v0.85h-0.85zM268.5 210.3h0.85v0.85h-0.85zM250.3 225.4h0.85v0.85h-0.85zM259.0 207.7h0.85v0.85h-0.85zM264.5 224.2h0.85v0.85h-0.85zM234.1 208.1h0.85v0.85h-0.85zM276.1 212.6h0.85v0.85h-0.85zM245.9 207.7h0.85v0.85h-0.85zM259.8 205.6h0.85v0.85h-0.85zM248.8 227.6h0.85v0.85h-0.85zM266.2 207.3h0.85v0.85h-0.85zM275.9 212.4h0.85v0.85h-0.85zM277.1 219.5h0.85v0.85h-0.85zM250.8 207.0h0.85v0.85h-0.85zM255.8 205.7h0.85v0.85h-0.85zM263.2 205.8h0.85v0.85h-0.85zM236.3 210.5h0.85v0.85h-0.85zM268.9 208.6h0.85v0.85h-0.85zM244.1 206.1h0.85v0.85h-0.85zM275.6 210.8h0.85v0.85h-0.85zM259.2 206.1h0.85v0.85h-0.85zM241.5 227.2h0.85v0.85h-0.85zM234.1 218.2h0.85v0.85h-0.85zM269.2 225.6h0.85v0.85h-0.85zM261.5 225.0h0.85v0.85h-0.85zM258.6 226.3h0.85v0.85h-0.85zM264.9 205.9h0.85v0.85h-0.85zM271.9 222.0h0.85v0.85h-0.85zM232.3 221.7h0.85v0.85h-0.85zM274.7 219.2h0.85v0.85h-0.85zM238.5 223.3h0.85v0.85h-0.85zM277.6 211.6h0.85v0.85h-0.85zM270.4 208.6h0.85v0.85h-0.85zM234.2 218.3h0.85v0.85h-0.85zM261.2 226.1h0.85v0.85h-0.85zM235.5 223.8h0.85v0.85h-0.85zM274.3 218.3h0.85v0.85h-0.85zM236.4 222.1h0.85v0.85h-0.85zM230.2 217.9h0.85v0.85h-0.85zM273.6 213.5h0.85v0.85h-0.85zM237.9 228.5h0.85v0.85h-0.85zM236.4 223.1h0.85v0.85h-0.85zM235.5 211.4h0.85v0.85h-0.85zM241.3 206.5h0.85v0.85h-0.85zM243.7 206.2h0.85v0.85h-0.85zM233.0 212.7h0.85v0.85h-0.85zM271.2 207.9h0.85v0.85h-0.85zM249.1 225.1h0.85v0.85h-0.85zM246.8 205.9h0.85v0.85h-0.85zM270.6 224.4h0.85v0.85h-0.85zM256.3 205.4h0.85v0.85h-0.85zM231.1 215.5h0.85v0.85h-0.85zM241.8 206.0h0.85v0.85h-0.85zM275.4 217.5h0.85v0.85h-0.85zM245.3 206.7h0.85v0.85h-0.85zM277.9 219.4h0.85v0.85h-0.85zM249.0 226.8h0.85v0.85h-0.85zM252.0 206.0h0.85v0.85h-0.85zM238.3 224.5h0.85v0.85h-0.85zM256.1 226.3h0.85v0.85h-0.85zM275.7 218.5h0.85v0.85h-0.85zM236.3 222.4h0.85v0.85h-0.85zM233.3 219.2h0.85v0.85h-0.85zM273.9 215.7h0.85v0.85h-0.85zM237.1 208.5h0.85v0.85h-0.85zM273.3 212.0h0.85v0.85h-0.85zM246.9 207.3h0.85v0.85h-0.85zM233.3 211.0h0.85v0.85h-0.85zM270.3 210.0h0.85v0.85h-0.85zM274.8 212.5h0.85v0.85h-0.85zM258.1 226.8h0.85v0.85h-0.85zM234.1 221.3h0.85v0.85h-0.85zM248.0 227.2h0.85v0.85h-0.85zM241.0 206.4h0.85v0.85h-0.85zM259.4 206.3h0.85v0.85h-0.85zM257.5 226.5h0.85v0.85h-0.85zM233.2 222.4h0.85v0.85h-0.85zM233.0 210.9h0.85v0.85h-0.85zM234.4 204.6h0.85v0.85h-0.85zM274.6 221.2h0.85v0.85h-0.85zM265.6 208.7h0.85v0.85h-0.85zM273.3 214.6h0.85v0.85h-0.85zM238.7 224.7h0.85v0.85h-0.85zM243.8 227.0h0.85v0.85h-0.85zM262.2 227.4h0.85v0.85h-0.85zM251.1 226.0h0.85v0.85h-0.85zM260.1 205.3h0.85v0.85h-0.85zM251.8 226.6h0.85v0.85h-0.85zM234.0 216.8h0.85v0.85h-0.85zM236.6 224.8h0.85v0.85h-0.85zM240.0 208.2h0.85v0.85h-0.85zM261.4 225.5h0.85v0.85h-0.85zM234.6 221.8h0.85v0.85h-0.85zM237.7 222.6h0.85v0.85h-0.85zM261.9 226.2h0.85v0.85h-0.85zM229.6 221.9h0.85v0.85h-0.85zM241.3 224.5h0.85v0.85h-0.85zM259.1 225.1h0.85v0.85h-0.85zM250.7 225.9h0.85v0.85h-0.85zM270.5 223.4h0.85v0.85h-0.85zM274.9 212.1h0.85v0.85h-0.85zM245.4 225.3h0.85v0.85h-0.85zM233.6 210.2h0.85v0.85h-0.85zM265.5 224.4h0.85v0.85h-0.85zM271.7 209.4h0.85v0.85h-0.85zM243.0 207.9h0.85v0.85h-0.85zM265.7 204.7h0.85v0.85h-0.85zM238.3 225.1h0.85v0.85h-0.85zM274.4 211.2h0.85v0.85h-0.85zM235.3 211.3h0.85v0.85h-0.85zM240.1 206.9h0.85v0.85h-0.85zM272.8 212.5h0.85v0.85h-0.85zM278.2 220.4h0.85v0.85h-0.85zM241.4 207.5h0.85v0.85h-0.85zM247.2 205.7h0.85v0.85h-0.85zM236.5 225.9h0.85v0.85h-0.85zM274.3 214.8h0.85v0.85h-0.85zM263.8 225.4h0.85v0.85h-0.85zM244.3 208.3h0.85v0.85h-0.85zM263.6 207.1h0.85v0.85h-0.85zM235.4 211.0h0.85v0.85h-0.85zM235.4 224.1h0.85v0.85h-0.85zM243.2 206.7h0.85v0.85h-0.85zM268.5 207.7h0.85v0.85h-0.85zM269.8 208.5h0.85v0.85h-0.85zM239.4 224.6h0.85v0.85h-0.85zM249.8 206.6h0.85v0.85h-0.85zM236.9 208.0h0.85v0.85h-0.85zM235.0 216.1h0.85v0.85h-0.85zM234.2 208.2h0.85v0.85h-0.85zM266.1 226.5h0.85v0.85h-0.85zM264.2 225.4h0.85v0.85h-0.85zM275.3 211.0h0.85v0.85h-0.85zM271.5 221.8h0.85v0.85h-0.85zM275.7 212.1h0.85v0.85h-0.85zM234.2 208.1h0.85v0.85h-0.85zM272.7 217.4h0.85v0.85h-0.85zM274.3 214.4h0.85v0.85h-0.85zM263.4 206.5h0.85v0.85h-0.85zM244.2 205.6h0.85v0.85h-0.85zM258.4 206.0h0.85v0.85h-0.85zM279.0 212.0h0.85v0.85h-0.85zM275.1 219.7h0.85v0.85h-0.85zM255.3 206.7h0.85v0.85h-0.85zM239.6 225.3h0.85v0.85h-0.85zM254.7 225.5h0.85v0.85h-0.85zM239.7 224.0h0.85v0.85h-0.85zM270.9 207.6h0.85v0.85h-0.85zM264.4 229.2h0.85v0.85h-0.85zM272.4 215.4h0.85v0.85h-0.85zM232.0 211.5h0.85v0.85h-0.85zM238.4 210.1h0.85v0.85h-0.85zM241.5 205.6h0.85v0.85h-0.85zM259.8 227.1h0.85v0.85h-0.85zM231.8 221.3h0.85v0.85h-0.85zM247.5 226.7h0.85v0.85h-0.85zM273.6 218.9h0.85v0.85h-0.85zM234.4 214.1h0.85v0.85h-0.85zM237.1 210.4h0.85v0.85h-0.85zM277.6 218.7h0.85v0.85h-0.85zM236.5 214.1h0.85v0.85h-0.85zM237.4 225.3h0.85v0.85h-0.85zM264.8 204.1h0.85v0.85h-0.85zM261.7 206.9h0.85v0.85h-0.85zM275.9 220.6h0.85v0.85h-0.85zM273.6 211.1h0.85v0.85h-0.85zM272.5 221.5h0.85v0.85h-0.85zM234.8 218.0h0.85v0.85h-0.85zM236.5 222.7h0.85v0.85h-0.85zM233.3 206.9h0.85v0.85h-0.85zM272.7 221.2h0.85v0.85h-0.85zM232.7 224.5h0.85v0.85h-0.85zM233.3 215.7h0.85v0.85h-0.85zM246.9 206.5h0.85v0.85h-0.85zM241.6 205.6h0.85v0.85h-0.85zM271.4 225.0h0.85v0.85h-0.85zM275.5 214.4h0.85v0.85h-0.85zM251.1 228.2h0.85v0.85h-0.85zM259.8 206.2h0.85v0.85h-0.85zM264.8 224.5h0.85v0.85h-0.85zM273.3 219.7h0.85v0.85h-0.85zM233.9 213.9h0.85v0.85h-0.85zM235.3 215.8h0.85v0.85h-0.85zM248.4 227.0h0.85v0.85h-0.85zM271.0 208.3h0.85v0.85h-0.85zM276.9 220.5h0.85v0.85h-0.85zM232.7 215.6h0.85v0.85h-0.85zM230.6 223.9h0.85v0.85h-0.85zM253.1 207.0h0.85v0.85h-0.85zM275.1 211.5h0.85v0.85h-0.85zM235.7 220.7h0.85v0.85h-0.85zM276.1 217.5h0.85v0.85h-0.85zM257.7 225.7h0.85v0.85h-0.85zM241.6 225.8h0.85v0.85h-0.85zM251.0 207.1h0.85v0.85h-0.85zM241.0 207.8h0.85v0.85h-0.85zM236.2 209.3h0.85v0.85h-0.85zM249.5 204.3h0.85v0.85h-0.85zM244.1 225.2h0.85v0.85h-0.85zM278.5 222.2h0.85v0.85h-0.85zM233.8 214.0h0.85v0.85h-0.85zM251.2 226.2h0.85v0.85h-0.85zM251.5 206.5h0.85v0.85h-0.85zM271.2 210.1h0.85v0.85h-0.85zM254.6 206.6h0.85v0.85h-0.85zM271.1 222.1h0.85v0.85h-0.85zM237.9 223.4h0.85v0.85h-0.85zM265.3 206.9h0.85v0.85h-0.85zM246.5 224.6h0.85v0.85h-0.85zM240.8 206.1h0.85v0.85h-0.85zM241.1 207.9h0.85v0.85h-0.85zM249.1 206.8h0.85v0.85h-0.85zM234.7 210.4h0.85v0.85h-0.85zM234.7 210.8h0.85v0.85h-0.85zM241.6 205.8h0.85v0.85h-0.85zM251.2 227.2h0.85v0.85h-0.85zM270.6 223.4h0.85v0.85h-0.85zM234.2 216.4h0.85v0.85h-0.85zM234.6 212.0h0.85v0.85h-0.85zM244.4 207.2h0.85v0.85h-0.85zM248.5 205.2h0.85v0.85h-0.85z" fill="#333" fill-opacity=".6"/><path d="M279.7 166.5h0.85v0.85h-0.85zM274.3 191.9h0.85v0.85h-0.85zM281.4 168.4h0.85v0.85h-0.85zM274.9 176.5h0.85v0.85h-0.85zM275.5 192.0h0.85v0.85h-0.85zM288.1 177.5h0.85v0.85h-0.85zM279.1 168.3h0.85v0.85h-0.85zM286.4 183.2h0.85v0.85h-0.85zM272.5 181.1h0.85v0.85h-0.85zM281.1 193.1h0.85v0.85h-0.85zM277.0 169.3h0.85v0.85h-0.85zM279.5 197.6h0.85v0.85h-0.85zM289.6 182.3h0.85v0.85h-0.85zM279.9 196.7h0.85v0.85h-0.85zM266.0 179.6h0.85v0.85h-0.85zM274.5 190.7h0.85v0.85h-0.85zM282.7 170.8h0.85v0.85h-0.85zM285.6 178.3h0.85v0.85h-0.85zM274.0 179.7h0.85v0.85h-0.85zM270.2 179.1h0.85v0.85h-0.85zM276.6 191.7h0.85v0.85h-0.85zM275.3 192.8h0.85v0.85h-0.85zM275.9 168.7h0.85v0.85h-0.85zM278.4 167.8h0.85v0.85h-0.85zM270.7 184.4h0.85v0.85h-0.85zM287.1 189.3h0.85v0.85h-0.85zM283.2 190.8h0.85v0.85h-0.85zM278.2 193.9h0.85v0.85h-0.85zM274.0 169.1h0.85v0.85h-0.85zM281.9 192.5h0.85v0.85h-0.85zM286.0 185.1h0.85v0.85h-0.85zM276.6 192.7h0.85v0.85h-0.85zM276.0 175.1h0.85v0.85h-0.85zM275.7 173.7h0.85v0.85h-0.85zM284.7 171.4h0.85v0.85h-0.85zM284.9 190.7h0.85v0.85h-0.85zM270.7 182.4h0.85v0.85h-0.85zM277.1 198.3h0.85v0.85h-0.85zM281.3 160.1h0.85v0.85h-0.85zM277.8 198.4h0.85v0.85h-0.85zM285.7 171.0h0.85v0.85h-0.85zM286.2 172.7h0.85v0.85h-0.85zM286.0 184.1h0.85v0.85h-0.85zM279.2 172.2h0.85v0.85h-0.85zM285.8 189.6h0.85v0.85h-0.85zM283.6 170.2h0.85v0.85h-0.85zM270.0 184.3h0.85v0.85h-0.85zM281.0 170.8h0.85v0.85h-0.85zM278.2 192.6h0.85v0.85h-0.85zM271.4 200.3h0.85v0.85h-0.85zM280.3 202.3h0.85v0.85h-0.85zM284.1 190.2h0.85v0.85h-0.85zM279.2 191.9h0.85v0.85h-0.85zM288.0 184.7h0.85v0.85h-0.85zM280.3 196.4h0.85v0.85h-0.85zM272.0 179.9h0.85v0.85h-0.85zM287.9 185.2h0.85v0.85h-0.85zM285.4 169.3h0.85v0.85h-0.85zM289.1 187.6h0.85v0.85h-0.85zM286.3 176.0h0.85v0.85h-0.85zM281.2 167.1h0.85v0.85h-0.85zM286.3 180.1h0.85v0.85h-0.85zM285.9 184.7h0.85v0.85h-0.85zM284.6 199.8h0.85v0.85h-0.85zM287.2 187.5h0.85v0.85h-0.85zM273.1 167.6h0.85v0.85h-0.85zM285.7 176.3h0.85v0.85h-0.85zM286.6 175.2h0.85v0.85h-0.85zM282.6 195.9h0.85v0.85h-0.85zM270.6 194.0h0.85v0.85h-0.85zM284.5 198.2h0.85v0.85h-0.85zM283.3 194.6h0.85v0.85h-0.85zM287.0 177.1h0.85v0.85h-0.85zM277.8 169.7h0.85v0.85h-0.85zM288.4 186.1h0.85v0.85h-0.85zM275.1 173.4h0.85v0.85h-0.85zM284.8 190.5h0.85v0.85h-0.85zM277.6 159.1h0.85v0.85h-0.85zM274.1 180.0h0.85v0.85h-0.85zM271.9 185.8h0.85v0.85h-0.85zM276.3 166.7h0.85v0.85h-0.85zM285.0 194.3h0.85v0.85h-0.85zM276.4 204.1h0.85v0.85h-0.85zM292.9 176.9h0.85v0.85h-0.85zM284.2 162.6h0.85v0.85h-0.85zM280.0 195.9h0.85v0.85h-0.85zM278.8 167.2h0.85v0.85h-0.85zM284.8 199.1h0.85v0.85h-0.85zM283.6 173.5h0.85v0.85h-0.85zM276.6 172.8h0.85v0.85h-0.85zM274.9 171.8h0.85v0.85h-0.85zM280.8 163.1h0.85v0.85h-0.85zM279.9 196.7h0.85v0.85h-0.85zM281.4 195.9h0.85v0.85h-0.85zM285.7 173.8h0.85v0.85h-0.85zM283.6 172.0h0.85v0.85h-0.85zM270.1 183.3h0.85v0.85h-0.85zM272.7 179.2h0.85v0.85h-0.85zM281.5 201.4h0.85v0.85h-0.85zM281.4 198.0h0.85v0.85h-0.85zM284.2 196.6h0.85v0.85h-0.85zM282.6 196.9h0.85v0.85h-0.85zM285.1 201.5h0.85v0.85h-0.85zM277.8 191.5h0.85v0.85h-0.85zM288.2 171.6h0.85v0.85h-0.85zM281.2 194.4h0.85v0.85h-0.85zM277.0 193.6h0.85v0.85h-0.85zM286.0 186.6h0.85v0.85h-0.85zM284.8 168.1h0.85v0.85h-0.85zM288.3 179.6h0.85v0.85h-0.85zM286.7 181.0h0.85v0.85h-0.85zM278.5 198.7h0.85v0.85h-0.85zM276.5 195.3h0.85v0.85h-0.85zM280.1 195.9h0.85v0.85h-0.85zM272.6 176.0h0.85v0.85h-0.85zM277.1 197.2h0.85v0.85h-0.85zM271.8 171.7h0.85v0.85h-0.85zM273.6 176.3h0.85v0.85h-0.85zM273.7 174.3h0.85v0.85h-0.85zM277.2 194.7h0.85v0.85h-0.85zM286.0 189.3h0.85v0.85h-0.85zM277.2 173.1h0.85v0.85h-0.85zM274.9 171.0h0.85v0.85h-0.85zM273.7 176.8h0.85v0.85h-0.85zM274.7 192.6h0.85v0.85h-0.85zM286.2 190.3h0.85v0.85h-0.85zM276.0 166.4h0.85v0.85h-0.85zM273.3 173.6h0.85v0.85h-0.85zM287.2 177.9h0.85v0.85h-0.85zM282.2 160.4h0.85v0.85h-0.85zM286.8 184.2h0.85v0.85h-0.85zM282.0 200.2h0.85v0.85h-0.85zM286.3 170.4h0.85v0.85h-0.85zM271.3 179.7h0.85v0.85h-0.85zM286.9 178.2h0.85v0.85h-0.85zM271.3 183.2h0.85v0.85h-0.85zM279.2 196.1h0.85v0.85h-0.85zM286.2 178.3h0.85v0.85h-0.85zM273.9 170.2h0.85v0.85h-0.85zM272.4 176.7h0.85v0.85h-0.85zM287.1 176.3h0.85v0.85h-0.85zM280.7 201.4h0.85v0.85h-0.85zM282.5 198.3h0.85v0.85h-0.85zM276.2 168.1h0.85v0.85h-0.85zM287.1 186.6h0.85v0.85h-0.85zM289.9 186.7h0.85v0.85h-0.85zM270.5 174.3h0.85v0.85h-0.85zM285.3 187.4h0.85v0.85h-0.85zM272.5 177.5h0.85v0.85h-0.85zM268.9 182.0h0.85v0.85h-0.85zM275.1 194.9h0.85v0.85h-0.85zM286.2 185.3h0.85v0.85h-0.85zM283.0 196.8h0.85v0.85h-0.85zM288.1 181.2h0.85v0.85h-0.85zM281.1 194.1h0.85v0.85h-0.85zM287.9 190.4h0.85v0.85h-0.85zM272.9 180.6h0.85v0.85h-0.85zM285.4 174.4h0.85v0.85h-0.85zM275.0 192.7h0.85v0.85h-0.85zM269.7 188.4h0.85v0.85h-0.85zM275.0 187.4h0.85v0.85h-0.85zM282.4 196.6h0.85v0.85h-0.85zM273.8 172.5h0.85v0.85h-0.85zM283.7 195.1h0.85v0.85h-0.85zM276.6 199.3h0.85v0.85h-0.85zM272.2 190.6h0.85v0.85h-0.85zM283.9 190.1h0.85v0.85h-0.85zM285.3 191.9h0.85v0.85h-0.85zM272.0 186.8h0.85v0.85h-0.85zM276.5 164.1h0.85v0.85h-0.85zM279.5 165.4h0.85v0.85h-0.85zM276.3 191.6h0.85v0.85h-0.85zM276.8 173.7h0.85v0.85h-0.85zM274.9 175.2h0.85v0.85h-0.85zM284.1 189.5h0.85v0.85h-0.85zM274.5 170.6h0.85v0.85h-0.85zM269.6 180.0h0.85v0.85h-0.85zM290.3 173.0h0.85v0.85h-0.85zM271.7 178.0h0.85v0.85h-0.85zM276.1 198.5h0.85v0.85h-0.85zM276.2 167.3h0.85v0.85h-0.85zM291.9 187.8h0.85v0.85h-0.85zM286.8 177.8h0.85v0.85h-0.85zM287.4 192.2h0.85v0.85h-0.85zM268.0 176.8h0.85v0.85h-0.85zM282.6 195.1h0.85v0.85h-0.85zM287.6 177.7h0.85v0.85h-0.85zM288.1 185.6h0.85v0.85h-0.85zM289.8 185.2h0.85v0.85h-0.85zM282.9 171.1h0.85v0.85h-0.85zM288.5 170.9h0.85v0.85h-0.85zM279.2 192.9h0.85v0.85h-0.85zM283.9 166.1h0.85v0.85h-0.85zM286.7 192.8h0.85v0.85h-0.85zM273.7 182.0h0.85v0.85h-0.85zM274.3 178.3h0.85v0.85h-0.85zM275.7 164.2h0.85v0.85h-0.85zM279.3 169.2h0.85v0.85h-0.85zM279.9 195.2h0.85v0.85h-0.85zM290.3 178.6h0.85v0.85h-0.85zM280.8 193.6h0.85v0.85h-0.85zM276.5 174.1h0.85v0.85h-0.85zM274.9 198.0h0.85v0.85h-0.85zM278.1 198.4h0.85v0.85h-0.85zM275.9 190.8h0.85v0.85h-0.85zM274.8 194.4h0.85v0.85h-0.85zM271.6 188.7h0.85v0.85h-0.85zM273.7 178.2h0.85v0.85h-0.85zM272.8 190.0h0.85v0.85h-0.85zM274.1 195.5h0.85v0.85h-0.85zM274.8 193.3h0.85v0.85h-0.85zM289.3 182.3h0.85v0.85h-0.85zM273.0 174.9h0.85v0.85h-0.85zM290.6 183.2h0.85v0.85h-0.85zM275.1 192.3h0.85v0.85h-0.85zM273.1 180.0h0.85v0.85h-0.85zM288.2 189.8h0.85v0.85h-0.85zM273.2 180.5h0.85v0.85h-0.85zM270.3 174.0h0.85v0.85h-0.85zM289.4 174.8h0.85v0.85h-0.85zM271.9 184.9h0.85v0.85h-0.85zM274.1 189.2h0.85v0.85h-0.85zM280.9 200.6h0.85v0.85h-0.85zM275.4 189.5h0.85v0.85h-0.85zM274.7 186.5h0.85v0.85h-0.85zM274.9 172.9h0.85v0.85h-0.85zM278.6 194.0h0.85v0.85h-0.85zM278.3 167.7h0.85v0.85h-0.85zM273.6 183.3h0.85v0.85h-0.85zM274.3 181.8h0.85v0.85h-0.85z" fill="#333" fill-opacity=".6"/><ellipse cx="280" cy="182" rx="6.17" ry="10.92" fill="#fff" stroke="#4a4a4a" stroke-width=".45"/><ellipse cx="280" cy="182" rx="3.25" ry="6.9" fill="none" stroke="#4a4a4a" stroke-width=".45"/><path d="M275.8 219.7h0.85v0.85h-0.85zM280.6 216.2h0.85v0.85h-0.85zM300.0 210.6h0.85v0.85h-0.85zM281.1 219.1h0.85v0.85h-0.85zM278.7 217.7h0.85v0.85h-0.85zM277.4 217.5h0.85v0.85h-0.85zM269.7 230.0h0.85v0.85h-0.85zM291.6 215.5h0.85v0.85h-0.85zM296.9 216.9h0.85v0.85h-0.85zM284.2 207.7h0.85v0.85h-0.85zM285.5 209.8h0.85v0.85h-0.85zM278.7 191.9h0.85v0.85h-0.85zM286.3 217.9h0.85v0.85h-0.85zM288.8 204.5h0.85v0.85h-0.85zM283.9 200.3h0.85v0.85h-0.85zM289.7 210.2h0.85v0.85h-0.85zM277.9 206.9h0.85v0.85h-0.85zM278.3 219.7h0.85v0.85h-0.85zM277.5 204.6h0.85v0.85h-0.85zM291.7 201.1h0.85v0.85h-0.85zM281.7 214.2h0.85v0.85h-0.85zM281.6 220.4h0.85v0.85h-0.85zM280.8 215.7h0.85v0.85h-0.85zM282.4 227.6h0.85v0.85h-0.85zM287.1 224.4h0.85v0.85h-0.85zM287.9 208.0h0.85v0.85h-0.85zM283.0 216.1h0.85v0.85h-0.85zM281.7 201.1h0.85v0.85h-0.85zM284.4 210.1h0.85v0.85h-0.85zM286.5 211.4h0.85v0.85h-0.85zM287.1 205.6h0.85v0.85h-0.85zM276.3 212.5h0.85v0.85h-0.85zM288.5 208.5h0.85v0.85h-0.85zM279.2 206.1h0.85v0.85h-0.85zM266.4 219.5h0.85v0.85h-0.85zM280.2 200.6h0.85v0.85h-0.85zM286.8 215.3h0.85v0.85h-0.85zM298.1 219.3h0.85v0.85h-0.85zM290.9 217.2h0.85v0.85h-0.85zM296.6 216.1h0.85v0.85h-0.85zM289.3 216.1h0.85v0.85h-0.85zM279.8 202.9h0.85v0.85h-0.85zM292.5 219.4h0.85v0.85h-0.85zM295.8 207.4h0.85v0.85h-0.85zM266.1 220.0h0.85v0.85h-0.85zM267.1 211.3h0.85v0.85h-0.85zM276.4 207.7h0.85v0.85h-0.85zM270.3 207.3h0.85v0.85h-0.85zM273.3 214.0h0.85v0.85h-0.85zM278.2 215.4h0.85v0.85h-0.85zM271.5 232.1h0.85v0.85h-0.85zM295.0 217.1h0.85v0.85h-0.85zM288.4 225.4h0.85v0.85h-0.85zM276.8 214.3h0.85v0.85h-0.85zM297.0 194.8h0.85v0.85h-0.85zM288.1 217.4h0.85v0.85h-0.85zM281.5 219.1h0.85v0.85h-0.85zM286.8 210.1h0.85v0.85h-0.85zM287.6 212.1h0.85v0.85h-0.85zM290.9 217.9h0.85v0.85h-0.85zM279.3 230.1h0.85v0.85h-0.85zM281.6 217.0h0.85v0.85h-0.85zM282.2 223.5h0.85v0.85h-0.85zM278.7 207.9h0.85v0.85h-0.85zM287.6 201.6h0.85v0.85h-0.85zM283.1 219.6h0.85v0.85h-0.85zM295.9 202.2h0.85v0.85h-0.85zM273.4 208.5h0.85v0.85h-0.85zM287.6 220.9h0.85v0.85h-0.85zM280.4 224.0h0.85v0.85h-0.85zM279.5 217.9h0.85v0.85h-0.85zM282.1 228.3h0.85v0.85h-0.85zM293.8 223.5h0.85v0.85h-0.85zM280.2 201.4h0.85v0.85h-0.85zM281.0 209.9h0.85v0.85h-0.85zM278.9 208.3h0.85v0.85h-0.85zM281.1 218.0h0.85v0.85h-0.85zM292.7 222.5h0.85v0.85h-0.85zM295.0 197.3h0.85v0.85h-0.85zM288.7 233.9h0.85v0.85h-0.85zM291.7 220.9h0.85v0.85h-0.85zM290.7 213.3h0.85v0.85h-0.85zM282.1 210.1h0.85v0.85h-0.85zM280.6 212.2h0.85v0.85h-0.85zM279.3 226.7h0.85v0.85h-0.85zM288.6 222.0h0.85v0.85h-0.85zM296.2 216.7h0.85v0.85h-0.85zM291.2 208.7h0.85v0.85h-0.85zM286.9 220.0h0.85v0.85h-0.85zM275.7 220.3h0.85v0.85h-0.85zM284.6 210.4h0.85v0.85h-0.85zM294.1 215.4h0.85v0.85h-0.85zM283.8 221.4h0.85v0.85h-0.85zM280.1 202.9h0.85v0.85h-0.85zM290.3 223.1h0.85v0.85h-0.85zM280.3 216.6h0.85v0.85h-0.85zM284.5 216.7h0.85v0.85h-0.85zM291.8 215.6h0.85v0.85h-0.85zM289.4 221.3h0.85v0.85h-0.85zM282.1 217.5h0.85v0.85h-0.85z" fill="#333" fill-opacity=".6"/><path d="M268 209c6-4 15-6 19-3c3 3 2 10-3 12c-5 2-11 0-16-9z" fill="#fff" stroke="#666" stroke-width=".5"/><path d="M270 211c4-2 10-3 13-1c2 2 1 6-2 7c-3 1-8-1-11-6z" fill="none" stroke="#666" stroke-width=".45"/><path d="M273.5 216.3 273.35 218.34 272.92 219.71 272.2 220.87 271.19 221.89 269.9 222.78 268.33 223.54 266.48 224.19 264.33 224.72 261.85 225.13 258.9 225.41 254.5 225.6 250.1 225.64 247.15 225.5 244.67 225.2 242.52 224.75 240.67 224.13 239.1 223.37 237.81 222.44 236.8 221.35 236.08 220.08 235.65 218.57 235.5 216.3 235.65 214.03 236.08 212.52 236.8 211.25 237.81 210.16 239.1 209.23 240.67 208.47 242.52 207.85 244.67 207.4 247.15 207.1 250.1 206.96 254.5 207 258.9 207.19 261.85 207.47 264.33 207.88 266.48 208.41 268.33 209.06 269.9 209.82 271.19 210.71 272.2 211.73 272.92 212.89 273.35 214.26Z" fill="#bcbcbc" stroke="#7a7a7a" stroke-width=".8"/><path d="M271.6 216.3 271.47 218.14 271.08 219.37 270.43 220.41 269.52 221.33 268.36 222.13 266.95 222.82 265.28 223.4 263.35 223.88 261.11 224.25 258.46 224.5 254.5 224.67 250.54 224.71 247.89 224.58 245.65 224.31 243.72 223.9 242.05 223.35 240.64 222.66 239.48 221.83 238.57 220.85 237.92 219.71 237.53 218.34 237.4 216.3 237.53 214.26 237.92 212.89 238.57 211.75 239.48 210.77 240.64 209.94 242.05 209.25 243.72 208.7 245.65 208.29 247.89 208.02 250.54 207.89 254.5 207.93 258.46 208.1 261.11 208.35 263.35 208.72 265.28 209.2 266.95 209.78 268.36 210.47 269.52 211.27 270.43 212.19 271.08 213.23 271.47 214.46Z" fill="none" stroke="#d8d8d8" stroke-width=".6"/><ellipse cx="256" cy="216.5" rx="10" ry="4.4" fill="#7c7c7c"/><path d="M268.94 216.3 268.83 217.85 268.5 218.89 267.95 219.77 267.18 220.55 266.2 221.22 265.01 221.8 263.6 222.3 261.97 222.7 260.08 223.01 257.85 223.23 254.5 223.37 251.15 223.4 248.92 223.29 247.03 223.07 245.4 222.72 243.99 222.25 242.8 221.67 241.82 220.97 241.05 220.14 240.5 219.18 240.17 218.03 240.06 216.3 240.17 214.57 240.5 213.42 241.05 212.46 241.82 211.63 242.8 210.93 243.99 210.35 245.4 209.88 247.03 209.53 248.92 209.31 251.15 209.2 254.5 209.23 257.85 209.37 260.08 209.59 261.97 209.9 263.6 210.3 265.01 210.8 266.2 211.38 267.18 212.05 267.95 212.83 268.5 213.71 268.83 214.75ZM266.66 216.3 266.57 217.61 266.29 218.48 265.83 219.23 265.18 219.88 264.36 220.44 263.35 220.94 262.17 221.35 260.79 221.69 259.2 221.95 257.32 222.13 254.5 222.25 251.68 222.28 249.8 222.19 248.21 222 246.83 221.71 245.65 221.31 244.64 220.82 243.82 220.23 243.17 219.53 242.71 218.72 242.43 217.75 242.34 216.3 242.43 214.85 242.71 213.88 243.17 213.07 243.82 212.37 244.64 211.78 245.65 211.29 246.83 210.89 248.21 210.6 249.8 210.41 251.68 210.32 254.5 210.35 257.32 210.47 259.2 210.65 260.79 210.91 262.17 211.25 263.35 211.66 264.36 212.16 265.18 212.72 265.83 213.37 266.29 214.12 266.57 214.99ZM264.38 216.3 264.3 217.36 264.08 218.07 263.7 218.68 263.18 219.21 262.51 219.67 261.69 220.07 260.73 220.4 259.61 220.68 258.32 220.89 256.79 221.04 254.5 221.14 252.21 221.16 250.68 221.09 249.39 220.93 248.27 220.69 247.31 220.37 246.49 219.97 245.82 219.49 245.3 218.93 244.92 218.27 244.7 217.48 244.62 216.3 244.7 215.12 244.92 214.33 245.3 213.67 245.82 213.11 246.49 212.63 247.31 212.23 248.27 211.91 249.39 211.67 250.68 211.51 252.21 211.44 254.5 211.46 256.79 211.56 258.32 211.71 259.61 211.92 260.73 212.2 261.69 212.53 262.51 212.93 263.18 213.39 263.7 213.92 264.08 214.53 264.3 215.24ZM262.1 216.3 262.04 217.12 261.87 217.66 261.58 218.13 261.18 218.53 260.66 218.89 260.03 219.2 259.29 219.46 258.43 219.67 257.44 219.83 256.26 219.95 254.5 220.02 252.74 220.04 251.56 219.98 250.57 219.86 249.71 219.68 248.97 219.43 248.34 219.13 247.82 218.76 247.42 218.32 247.13 217.81 246.96 217.21 246.9 216.3 246.96 215.39 247.13 214.79 247.42 214.28 247.82 213.84 248.34 213.47 248.97 213.17 249.71 212.92 250.57 212.74 251.56 212.62 252.74 212.56 254.5 212.58 256.26 212.65 257.44 212.77 258.43 212.93 259.29 213.14 260.03 213.4 260.66 213.71 261.18 214.07 261.58 214.47 261.87 214.94 262.04 215.48Z" fill="none" stroke="#959595" stroke-width=".4"/><ellipse cx="253" cy="216.5" rx="9" ry="1.1" fill="#e4e4e4"/><rect x="223.2" y="157.2" width="81.3" height="81.3" fill="none" stroke="#999" stroke-width=".9"/><path d="M221.6 164.52h1.6M221.6 184.03h1.6M221.6 205.98h1.6M221.6 232h1.6M239.46 238.5v1.6M259.78 238.5v1.6M281.74 238.5v1.6M298 238.5v1.6" stroke="#666" stroke-width=".7"/><path d="M222.3 163.54h.9M222.3 165.49h.9M222.3 167.44h.9M222.3 169.39h.9M222.3 171.35h.9M222.3 173.3h.9M222.3 175.25h.9M222.3 177.2h.9M222.3 179.15h.9M222.3 181.1h.9M222.3 183.05h.9M222.3 185h.9M222.3 186.96h.9M222.3 188.91h.9M222.3 190.86h.9M222.3 192.81h.9M222.3 194.76h.9M222.3 196.71h.9M222.3 198.66h.9M222.3 200.61h.9M222.3 202.57h.9M222.3 204.52h.9M222.3 206.47h.9M222.3 208.42h.9M222.3 210.37h.9M222.3 212.32h.9M222.3 214.27h.9M222.3 216.22h.9M222.3 218.18h.9M222.3 220.13h.9M222.3 222.08h.9M222.3 224.03h.9M222.3 225.98h.9M222.3 227.93h.9M222.3 229.88h.9M222.3 231.83h.9M222.3 233.78h.9M222.3 235.74h.9" stroke="#aaa" stroke-width=".4"/><rect x="221" y="218.99" width="1.8" height="2.2" fill="#222"/><rect x="241.09" y="238.9" width="2.6" height="1.6" fill="#222"/><rect x="264.4" y="161.5" width="29.4" height="36.9" fill="none" stroke="#7c7cff" stroke-width="1"/><text x="236.5" y="180.3" font-size="10" fill="#111" color="#111" textLength="17" lengthAdjust="spacingAndGlyphs">8.38</text><text x="82.6" y="30.9" font-size="9.6" text-anchor="middle" fill="#111" color="#111" textLength="11" lengthAdjust="spacingAndGlyphs" style="stroke-width:.1px">D0</text><text x="172.9" y="30.9" font-size="9.6" text-anchor="middle" fill="#111" color="#111" textLength="10.6" lengthAdjust="spacingAndGlyphs" style="stroke-width:.1px">D5</text><text x="263.6" y="30.9" font-size="9.6" text-anchor="middle" fill="#111" color="#111" textLength="15.4" lengthAdjust="spacingAndGlyphs" style="stroke-width:.1px">D10</text><path d="M32.3 79.3V129.2H82.5" fill="none" stroke="#111" stroke-width="1.6"/><path d="M32.3 76.3l-3 5.2h6zM85.5 129.2l-5.2 -3v6z" fill="#111"/><path d="M32.3 197.5V248H82.5" fill="none" stroke="#111" stroke-width="1.6"/><path d="M32.3 194.5l-3 5.2h6zM85.5 248l-5.2 -3v6z" fill="#111"/><text x="23" y="104.5" font-size="12" text-anchor="middle" fill="#111" color="#111" textLength="19.6" lengthAdjust="spacingAndGlyphs" transform="rotate(-90 23 104.5)">IL21</text><text x="43.4" y="145" font-size="12.5" fill="#111" color="#111" textLength="28.4" lengthAdjust="spacingAndGlyphs">CD44</text><text x="43.5" y="263.4" font-size="12.5" fill="#111" color="#111" textLength="28.4" lengthAdjust="spacingAndGlyphs">CD44</text><text x="23.3" y="234.2" font-size="12" fill="#111" color="#111" textLength="17.8" lengthAdjust="spacingAndGlyphs" transform="rotate(-90 23.3 234.2)">IFN</text><text x="23.3" y="216.2" font-size="9.5" fill="#111" color="#111" transform="rotate(-90 23.3 216.2)">γ</text><rect x="359.8" y="151" width="16" height="18.2" fill="none" stroke="#ab0a3a" stroke-width="1.3"/><rect x="385" y="151.5" width="16" height="17.7" fill="none" stroke="#2d5a9b" stroke-width="1.3"/><rect x="410" y="127.3" width="16" height="41.9" fill="none" stroke="#4f2270" stroke-width="1.3"/><rect x="434.9" y="103.8" width="16" height="65.4" fill="none" stroke="#e59a2b" stroke-width="1.3"/><rect x="459.8" y="98" width="16" height="71.2" fill="none" stroke="#3a6b54" stroke-width="1.3"/><rect x="484.9" y="137.4" width="16" height="31.8" fill="none" stroke="#8a80cc" stroke-width="1.3"/><path d="M367.8 147.7V155.5M363.3 147.7h9M363.3 155.5h9" stroke="#111" stroke-width="1.3" fill="none"/><path d="M393 148.7V153.2M388.5 148.7h9M388.5 153.2h9" stroke="#111" stroke-width="1.3" fill="none"/><path d="M418 123.8V130.2M413.5 123.8h9M413.5 130.2h9" stroke="#111" stroke-width="1.3" fill="none"/><path d="M442.9 100.2V107.4M438.4 100.2h9M438.4 107.4h9" stroke="#111" stroke-width="1.3" fill="none"/><path d="M467.8 85.3V109.7M463.3 85.3h9M463.3 109.7h9" stroke="#111" stroke-width="1.3" fill="none"/><path d="M492.9 131V142.9M488.4 131h9M488.4 142.9h9" stroke="#111" stroke-width="1.3" fill="none"/><circle cx="367.8" cy="126.5" r="2.15" fill="#ab0a3a"/><circle cx="364.3" cy="140.7" r="2.15" fill="#ab0a3a"/><circle cx="371.3" cy="140.4" r="2.15" fill="#ab0a3a"/><circle cx="369.9" cy="145.5" r="2.15" fill="#ab0a3a"/><circle cx="365.6" cy="147.4" r="2.15" fill="#ab0a3a"/><circle cx="372.8" cy="152.2" r="2.15" fill="#ab0a3a"/><circle cx="363.2" cy="154.1" r="2.15" fill="#ab0a3a"/><circle cx="368" cy="155.4" r="2.15" fill="#ab0a3a"/><circle cx="371.3" cy="158.3" r="2.15" fill="#ab0a3a"/><circle cx="364.1" cy="160.9" r="2.15" fill="#ab0a3a"/><circle cx="366" cy="163.8" r="2.15" fill="#ab0a3a"/><circle cx="369.9" cy="163.3" r="2.15" fill="#ab0a3a"/><circle cx="388" cy="147.4" r="2.25" fill="none" stroke="#2d5a9b" stroke-width="1.1"/><circle cx="397.8" cy="149.3" r="2.25" fill="none" stroke="#2d5a9b" stroke-width="1.1"/><circle cx="392.5" cy="154.6" r="2.25" fill="none" stroke="#2d5a9b" stroke-width="1.1"/><circle cx="393.5" cy="150" r="2.25" fill="none" stroke="#2d5a9b" stroke-width="1.1"/><polygon points="414.3,120.1 417,124.96 411.6,124.96" fill="#4f2270"/><polygon points="421.3,121.5 424,126.36 418.6,126.36" fill="#4f2270"/><polygon points="417.5,130.7 420.2,135.56 414.8,135.56" fill="#4f2270"/><polygon points="439.1,96.3 442,101.52 436.2,101.52" fill="none" stroke="#e59a2b" stroke-width="1.1"/><polygon points="446.5,97.8 449.4,103.02 443.6,103.02" fill="none" stroke="#e59a2b" stroke-width="1.1"/><polygon points="442.8,108.8 445.7,114.02 439.9,114.02" fill="none" stroke="#e59a2b" stroke-width="1.1"/><polygon points="467.8,71.2 470.1,73.5 467.8,75.8 465.5,73.5" fill="#3a6b54"/><polygon points="467.8,103.4 470.1,105.7 467.8,108 465.5,105.7" fill="#3a6b54"/><polygon points="467.8,111.1 470.1,113.4 467.8,115.7 465.5,113.4" fill="#3a6b54"/><polygon points="492.7,124 495.2,126.5 492.7,129 490.2,126.5" fill="none" stroke="#8a80cc" stroke-width="1.1"/><polygon points="492.7,133.9 495.2,136.4 492.7,138.9 490.2,136.4" fill="none" stroke="#8a80cc" stroke-width="1.1"/><polygon points="492.7,145 495.2,147.5 492.7,150 490.2,147.5" fill="none" stroke="#8a80cc" stroke-width="1.1"/><path d="M351.2 59.2V169.2H509.5M346.7 169.2H351.2M346.7 134H351.2M346.7 98.7H351.2M346.7 63.5H351.2M367.8 169.2v4.5M393 169.2v4.5M418 169.2v4.5M442.9 169.2v4.5M467.8 169.2v4.5M492.9 169.2v4.5" stroke="#0a0a0a" stroke-width="1.6" fill="none"/><text x="342" y="172.6" font-size="9.1" text-anchor="end" textLength="4.43" lengthAdjust="spacingAndGlyphs">0</text><text x="342" y="137.4" font-size="9.1" text-anchor="end" textLength="4.43" lengthAdjust="spacingAndGlyphs">1</text><text x="342" y="102.1" font-size="9.1" text-anchor="end" textLength="4.43" lengthAdjust="spacingAndGlyphs">2</text><text x="342" y="66.9" font-size="9.1" text-anchor="end" textLength="4.43" lengthAdjust="spacingAndGlyphs">3</text><text x="367.8" y="187" font-size="9.1" text-anchor="middle" textLength="4.43" lengthAdjust="spacingAndGlyphs">0</text><text x="393" y="187" font-size="9.1" text-anchor="middle" textLength="4.43" lengthAdjust="spacingAndGlyphs">3</text><text x="418" y="187" font-size="9.1" text-anchor="middle" textLength="9.15" lengthAdjust="spacingAndGlyphs">10</text><text x="442.9" y="187" font-size="9.1" text-anchor="middle" textLength="9.15" lengthAdjust="spacingAndGlyphs">14</text><text x="467.8" y="187" font-size="9.1" text-anchor="middle" textLength="9.15" lengthAdjust="spacingAndGlyphs">21</text><text x="492.9" y="187" font-size="9.1" text-anchor="middle" textLength="9.15" lengthAdjust="spacingAndGlyphs">38</text><text x="328.4" y="113.85" font-size="11.5" text-anchor="middle" textLength="67.58" lengthAdjust="spacingAndGlyphs" transform="rotate(-90 328.4 113.85)">IgM (mg/ml)</text><path d="M397.5 115.4H416.8M397.5 113.8v3.2M416.8 113.8v3.2" stroke="#111" stroke-width="1.2" fill="none"/><path d="M405.65 109.05L405.65 112.15M404.31 109.82L406.99 111.38M406.99 109.82L404.31 111.38M409.35 109.05L409.35 112.15M408.01 109.82L410.69 111.38M410.69 109.82L408.01 111.38" stroke="#2a2a2a" stroke-width=".75" fill="none"/><path d="M423.5 90.6H443.7M423.5 89v3.2M443.7 89v3.2" stroke="#111" stroke-width="1.2" fill="none"/><path d="M431.85 84.45L431.85 87.55M430.51 85.22L433.19 86.78M433.19 85.22L430.51 86.78M435.55 84.45L435.55 87.55M434.21 85.22L436.89 86.78M436.89 85.22L434.21 86.78" stroke="#2a2a2a" stroke-width=".75" fill="none"/><path d="M467.8 66.7H487.7M467.8 65.1v3.2M487.7 65.1v3.2" stroke="#111" stroke-width="1.2" fill="none"/><path d="M477.8 60.15L477.8 63.25M476.46 60.93L479.14 62.48M479.14 60.93L476.46 62.48" stroke="#2a2a2a" stroke-width=".75" fill="none"/><text x="379.7" y="204.4" font-size="12" textLength="101.6" lengthAdjust="spacingAndGlyphs">Days post infection</text><rect x="110.2" y="351" width="16" height="62.9" fill="none" stroke="#4f2270" stroke-width="1.3"/><rect x="135.2" y="355.2" width="16" height="58.7" fill="none" stroke="#e59a2b" stroke-width="1.3"/><rect x="160.1" y="323.5" width="16" height="90.4" fill="none" stroke="#3a6b54" stroke-width="1.3"/><rect x="185" y="387.1" width="16" height="26.8" fill="none" stroke="#8a80cc" stroke-width="1.3"/><path d="M118.2 345.8V356.2M113.7 345.8h9M113.7 356.2h9" stroke="#111" stroke-width="1.3" fill="none"/><path d="M143.2 350.4V359.2M138.7 350.4h9M138.7 359.2h9" stroke="#111" stroke-width="1.3" fill="none"/><path d="M168.1 316.9V328.3M163.6 316.9h9M163.6 328.3h9" stroke="#111" stroke-width="1.3" fill="none"/><path d="M193 378.8V394.6M188.5 378.8h9M188.5 394.6h9" stroke="#111" stroke-width="1.3" fill="none"/><circle cx="61.8" cy="413.8" r="2.15" fill="#ab0a3a"/><circle cx="63.45" cy="413.8" r="2.15" fill="#ab0a3a"/><circle cx="65.1" cy="413.8" r="2.15" fill="#ab0a3a"/><circle cx="66.75" cy="413.8" r="2.15" fill="#ab0a3a"/><circle cx="68.4" cy="413.8" r="2.15" fill="#ab0a3a"/><circle cx="70.05" cy="413.8" r="2.15" fill="#ab0a3a"/><circle cx="71.7" cy="413.8" r="2.15" fill="#ab0a3a"/><circle cx="73.35" cy="413.8" r="2.15" fill="#ab0a3a"/><circle cx="75" cy="413.8" r="2.15" fill="#ab0a3a"/><circle cx="88.2" cy="413.75" r="2.25" fill="none" stroke="#2d5a9b" stroke-width="1.1"/><circle cx="93.3" cy="413.75" r="2.25" fill="none" stroke="#2d5a9b" stroke-width="1.1"/><circle cx="98.1" cy="413.75" r="2.25" fill="none" stroke="#2d5a9b" stroke-width="1.1"/><polygon points="114.6,341.1 117.3,345.96 111.9,345.96" fill="#4f2270"/><polygon points="121.9,346.3 124.6,351.16 119.2,351.16" fill="#4f2270"/><polygon points="118.1,359.2 120.8,364.06 115.4,364.06" fill="#4f2270"/><polygon points="139.2,347.1 142.1,352.32 136.3,352.32" fill="none" stroke="#e59a2b" stroke-width="1.1"/><polygon points="146.3,348.1 149.2,353.32 143.4,353.32" fill="none" stroke="#e59a2b" stroke-width="1.1"/><polygon points="143.1,361.5 146,366.72 140.2,366.72" fill="none" stroke="#e59a2b" stroke-width="1.1"/><polygon points="168.1,311.2 170.4,313.5 168.1,315.8 165.8,313.5" fill="#3a6b54"/><polygon points="168.1,318.5 170.4,320.8 168.1,323.1 165.8,320.8" fill="#3a6b54"/><polygon points="168.1,331 170.4,333.3 168.1,335.6 165.8,333.3" fill="#3a6b54"/><polygon points="189.6,375 192.1,377.5 189.6,380 187.1,377.5" fill="none" stroke="#8a80cc" stroke-width="1.1"/><polygon points="196.3,377.3 198.8,379.8 196.3,382.3 193.8,379.8" fill="none" stroke="#8a80cc" stroke-width="1.1"/><polygon points="193,399.9 195.5,402.4 193,404.9 190.5,402.4" fill="none" stroke="#8a80cc" stroke-width="1.1"/><path d="M51.7 304V413.9H209.6M47.2 413.9H51.7M47.2 392.7H51.7M47.2 371.7H51.7M47.2 350.7H51.7M47.2 329.4H51.7M47.2 308.4H51.7M68.4 413.9v4.5M93.1 413.9v4.5M118.2 413.9v4.5M143.2 413.9v4.5M168.1 413.9v4.5M193 413.9v4.5" stroke="#0a0a0a" stroke-width="1.6" fill="none"/><text x="42.5" y="417.3" font-size="9.1" text-anchor="end" textLength="4.43" lengthAdjust="spacingAndGlyphs">0</text><text x="42.5" y="396.1" font-size="9.1" text-anchor="end" textLength="4.43" lengthAdjust="spacingAndGlyphs">5</text><text x="42.5" y="375.1" font-size="9.1" text-anchor="end" textLength="9.15" lengthAdjust="spacingAndGlyphs">10</text><text x="42.5" y="354.1" font-size="9.1" text-anchor="end" textLength="9.15" lengthAdjust="spacingAndGlyphs">15</text><text x="42.5" y="332.8" font-size="9.1" text-anchor="end" textLength="9.15" lengthAdjust="spacingAndGlyphs">20</text><text x="42.5" y="311.8" font-size="9.1" text-anchor="end" textLength="9.15" lengthAdjust="spacingAndGlyphs">25</text><text x="68.4" y="431.7" font-size="9.1" text-anchor="middle" textLength="4.43" lengthAdjust="spacingAndGlyphs">0</text><text x="93.1" y="431.7" font-size="9.1" text-anchor="middle" textLength="4.43" lengthAdjust="spacingAndGlyphs">3</text><text x="118.2" y="431.7" font-size="9.1" text-anchor="middle" textLength="9.15" lengthAdjust="spacingAndGlyphs">10</text><text x="143.2" y="431.7" font-size="9.1" text-anchor="middle" textLength="9.15" lengthAdjust="spacingAndGlyphs">14</text><text x="168.1" y="431.7" font-size="9.1" text-anchor="middle" textLength="9.15" lengthAdjust="spacingAndGlyphs">21</text><text x="193" y="431.7" font-size="9.1" text-anchor="middle" textLength="9.15" lengthAdjust="spacingAndGlyphs">38</text><text x="22.9" y="358.65" font-size="11.5" text-anchor="middle" textLength="67.41" lengthAdjust="spacingAndGlyphs" transform="rotate(-90 22.9 358.65)">IgG1 (μg/ml)</text><path d="M97 334.2H116.5M97 332.6v3.2M116.5 332.6v3.2" stroke="#111" stroke-width="1.2" fill="none"/><path d="M102.8 327.95L102.8 331.05M101.46 328.73L104.14 330.27M104.14 328.73L101.46 330.27M106.5 327.95L106.5 331.05M105.16 328.73L107.84 330.27M107.84 328.73L105.16 330.27M110.2 327.95L110.2 331.05M108.86 328.73L111.54 330.27M111.54 328.73L108.86 330.27" stroke="#2a2a2a" stroke-width=".75" fill="none"/><path d="M148.3 308.1H168.5M148.3 306.5v3.2M168.5 306.5v3.2" stroke="#111" stroke-width="1.2" fill="none"/><path d="M157.9 301.35L157.9 304.45M156.56 302.12L159.24 303.67M159.24 302.12L156.56 303.67" stroke="#2a2a2a" stroke-width=".75" fill="none"/><path d="M169.4 308.1H189.6M169.4 306.5v3.2M189.6 306.5v3.2" stroke="#111" stroke-width="1.2" fill="none"/><path d="M178.15 301.35L178.15 304.45M176.81 302.12L179.49 303.67M179.49 302.12L176.81 303.67M181.85 301.35L181.85 304.45M180.51 302.12L183.19 303.67M183.19 302.12L180.51 303.67" stroke="#2a2a2a" stroke-width=".75" fill="none"/><rect x="292.4" y="407.5" width="16" height="6.3" fill="none" stroke="#ab0a3a" stroke-width="1.3"/><rect x="317.4" y="410.2" width="16" height="3.6" fill="none" stroke="#2d5a9b" stroke-width="1.3"/><rect x="342.2" y="368.3" width="16" height="45.5" fill="none" stroke="#4f2270" stroke-width="1.3"/><rect x="367.2" y="346.7" width="16" height="67.1" fill="none" stroke="#e59a2b" stroke-width="1.3"/><rect x="392.1" y="330.8" width="16" height="83" fill="none" stroke="#3a6b54" stroke-width="1.3"/><rect x="417.1" y="376.9" width="16" height="36.9" fill="none" stroke="#8a80cc" stroke-width="1.3"/><path d="M300.4 405.5V410M295.9 405.5h9M295.9 410h9" stroke="#111" stroke-width="1.3" fill="none"/><path d="M325.4 408.5V411.5M320.9 408.5h9M320.9 411.5h9" stroke="#111" stroke-width="1.3" fill="none"/><path d="M350.2 366.9V369.2M345.7 366.9h9M345.7 369.2h9" stroke="#111" stroke-width="1.3" fill="none"/><path d="M375.2 340.8V352.3M370.7 340.8h9M370.7 352.3h9" stroke="#111" stroke-width="1.3" fill="none"/><path d="M400.1 325V335.6M395.6 325h9M395.6 335.6h9" stroke="#111" stroke-width="1.3" fill="none"/><path d="M425.1 374V378.8M420.6 374h9M420.6 378.8h9" stroke="#111" stroke-width="1.3" fill="none"/><circle cx="300.2" cy="392.9" r="2.15" fill="#ab0a3a"/><circle cx="305.2" cy="398.2" r="2.15" fill="#ab0a3a"/><circle cx="296" cy="405" r="2.15" fill="#ab0a3a"/><circle cx="299.5" cy="404" r="2.15" fill="#ab0a3a"/><circle cx="303.5" cy="405" r="2.15" fill="#ab0a3a"/><circle cx="294.5" cy="408" r="2.15" fill="#ab0a3a"/><circle cx="298" cy="409" r="2.15" fill="#ab0a3a"/><circle cx="302" cy="408.5" r="2.15" fill="#ab0a3a"/><circle cx="306" cy="408.5" r="2.15" fill="#ab0a3a"/><circle cx="300" cy="411" r="2.15" fill="#ab0a3a"/><circle cx="296" cy="412" r="2.15" fill="#ab0a3a"/><circle cx="304" cy="412" r="2.15" fill="#ab0a3a"/><circle cx="300.5" cy="407" r="2.15" fill="#ab0a3a"/><circle cx="320.2" cy="408.3" r="2.25" fill="none" stroke="#2d5a9b" stroke-width="1.1"/><circle cx="330.6" cy="408.3" r="2.25" fill="none" stroke="#2d5a9b" stroke-width="1.1"/><circle cx="325.4" cy="411.2" r="2.25" fill="none" stroke="#2d5a9b" stroke-width="1.1"/><polygon points="346.5,364.6 349.2,369.46 343.8,369.46" fill="#4f2270"/><polygon points="353.8,365 356.5,369.86 351.1,369.86" fill="#4f2270"/><polygon points="350,367.5 352.7,372.36 347.3,372.36" fill="#4f2270"/><polygon points="375,332.1 377.9,337.32 372.1,337.32" fill="none" stroke="#e59a2b" stroke-width="1.1"/><polygon points="371.9,351.3 374.8,356.52 369,356.52" fill="none" stroke="#e59a2b" stroke-width="1.1"/><polygon points="378.8,349 381.7,354.22 375.9,354.22" fill="none" stroke="#e59a2b" stroke-width="1.1"/><polygon points="400,318.5 402.3,320.8 400,323.1 397.7,320.8" fill="#3a6b54"/><polygon points="400,327.5 402.3,329.8 400,332.1 397.7,329.8" fill="#3a6b54"/><polygon points="400,337.7 402.3,340 400,342.3 397.7,340" fill="#3a6b54"/><polygon points="420,369.6 422.5,372.1 420,374.6 417.5,372.1" fill="none" stroke="#8a80cc" stroke-width="1.1"/><polygon points="424.4,376.3 426.9,378.8 424.4,381.3 421.9,378.8" fill="none" stroke="#8a80cc" stroke-width="1.1"/><polygon points="429.6,376.3 432.1,378.8 429.6,381.3 427.1,378.8" fill="none" stroke="#8a80cc" stroke-width="1.1"/><path d="M283.6 303.5V413.8H441.6M279.1 413.9H283.6M279.1 387.5H283.6M279.1 361H283.6M279.1 334.7H283.6M279.1 308.3H283.6M300.4 413.8v4.5M325.4 413.8v4.5M350.2 413.8v4.5M375.2 413.8v4.5M400.1 413.8v4.5M425.1 413.8v4.5" stroke="#0a0a0a" stroke-width="1.6" fill="none"/><text x="274.4" y="417.3" font-size="9.1" text-anchor="end" textLength="4.43" lengthAdjust="spacingAndGlyphs">0</text><text x="274.4" y="390.9" font-size="9.1" text-anchor="end" textLength="13.88" lengthAdjust="spacingAndGlyphs">100</text><text x="274.4" y="364.4" font-size="9.1" text-anchor="end" textLength="13.88" lengthAdjust="spacingAndGlyphs">200</text><text x="274.4" y="338.1" font-size="9.1" text-anchor="end" textLength="13.88" lengthAdjust="spacingAndGlyphs">300</text><text x="274.4" y="311.7" font-size="9.1" text-anchor="end" textLength="13.88" lengthAdjust="spacingAndGlyphs">400</text><text x="300.4" y="431.7" font-size="9.1" text-anchor="middle" textLength="4.43" lengthAdjust="spacingAndGlyphs">0</text><text x="325.4" y="431.7" font-size="9.1" text-anchor="middle" textLength="4.43" lengthAdjust="spacingAndGlyphs">3</text><text x="350.2" y="431.7" font-size="9.1" text-anchor="middle" textLength="9.15" lengthAdjust="spacingAndGlyphs">10</text><text x="375.2" y="431.7" font-size="9.1" text-anchor="middle" textLength="9.15" lengthAdjust="spacingAndGlyphs">14</text><text x="400.1" y="431.7" font-size="9.1" text-anchor="middle" textLength="9.15" lengthAdjust="spacingAndGlyphs">21</text><text x="425.1" y="431.7" font-size="9.1" text-anchor="middle" textLength="9.15" lengthAdjust="spacingAndGlyphs">38</text><text x="249.2" y="358.7" font-size="11.5" text-anchor="middle" textLength="75.42" lengthAdjust="spacingAndGlyphs" transform="rotate(-90 249.2 358.7)">IgG2b (μg/ml)</text><path d="M330.7 357.6H349.9M330.7 356v3.2M349.9 356v3.2" stroke="#111" stroke-width="1.2" fill="none"/><path d="M334.75 350.95L334.75 354.05M333.41 351.73L336.09 353.27M336.09 351.73L333.41 353.27M338.45 350.95L338.45 354.05M337.11 351.73L339.79 353.27M339.79 351.73L337.11 353.27M342.15 350.95L342.15 354.05M340.81 351.73L343.49 353.27M343.49 351.73L340.81 353.27M345.85 350.95L345.85 354.05M344.51 351.73L347.19 353.27M347.19 351.73L344.51 353.27" stroke="#2a2a2a" stroke-width=".75" fill="none"/><path d="M356.3 326.8H375.4M356.3 325.2v3.2M375.4 325.2v3.2" stroke="#111" stroke-width="1.2" fill="none"/><path d="M365.8 320.55L365.8 323.65M364.46 321.33L367.14 322.88M367.14 321.33L364.46 322.88" stroke="#2a2a2a" stroke-width=".75" fill="none"/><path d="M400.4 313.6H419.7M400.4 312v3.2M419.7 312v3.2" stroke="#111" stroke-width="1.2" fill="none"/><path d="M408.15 307.15L408.15 310.25M406.81 307.93L409.49 309.47M409.49 307.93L406.81 309.47M411.85 307.15L411.85 310.25M410.51 307.93L413.19 309.47M413.19 307.93L410.51 309.47" stroke="#2a2a2a" stroke-width=".75" fill="none"/><rect x="60.4" y="559" width="16" height="1.6" fill="none" stroke="#ab0a3a" stroke-width="1.3"/><rect x="112" y="515.2" width="16" height="45.4" fill="none" stroke="#4f2270" stroke-width="1.3"/><rect x="137.6" y="517" width="16" height="43.6" fill="none" stroke="#e59a2b" stroke-width="1.3"/><rect x="162.9" y="495.5" width="16" height="65.1" fill="none" stroke="#3a6b54" stroke-width="1.3"/><rect x="188.6" y="525.2" width="16" height="35.4" fill="none" stroke="#8a80cc" stroke-width="1.3"/><path d="M120 514V517.5M115.5 514h9M115.5 517.5h9" stroke="#111" stroke-width="1.3" fill="none"/><path d="M145.6 514V518.2M141.1 514h9M141.1 518.2h9" stroke="#111" stroke-width="1.3" fill="none"/><path d="M170.9 487.1V503.4M166.4 487.1h9M166.4 503.4h9" stroke="#111" stroke-width="1.3" fill="none"/><path d="M196.6 522.8V525.6M192.1 522.8h9M192.1 525.6h9" stroke="#111" stroke-width="1.3" fill="none"/><circle cx="63.7" cy="556.8" r="2.15" fill="#ab0a3a"/><circle cx="73.8" cy="554.9" r="2.15" fill="#ab0a3a"/><circle cx="66.5" cy="559.2" r="2.15" fill="#ab0a3a"/><circle cx="70.4" cy="559.2" r="2.15" fill="#ab0a3a"/><circle cx="76.2" cy="558.8" r="2.15" fill="#ab0a3a"/><circle cx="62.2" cy="558.8" r="2.15" fill="#ab0a3a"/><circle cx="68.5" cy="561.2" r="2.15" fill="#ab0a3a"/><circle cx="61" cy="560" r="2.15" fill="#ab0a3a"/><circle cx="75" cy="560.5" r="2.15" fill="#ab0a3a"/><circle cx="89.6" cy="559.2" r="2.25" fill="none" stroke="#2d5a9b" stroke-width="1.1"/><circle cx="94.2" cy="559.7" r="2.25" fill="none" stroke="#2d5a9b" stroke-width="1.1"/><circle cx="99.2" cy="559.7" r="2.25" fill="none" stroke="#2d5a9b" stroke-width="1.1"/><polygon points="114.7,510 117.4,514.86 112,514.86" fill="#4f2270"/><polygon points="119.3,514.3 122,519.16 116.6,519.16" fill="#4f2270"/><polygon points="124.8,513.8 127.5,518.66 122.1,518.66" fill="#4f2270"/><polygon points="145.5,508.4 148.4,513.62 142.6,513.62" fill="none" stroke="#e59a2b" stroke-width="1.1"/><polygon points="142.1,517.5 145,522.72 139.2,522.72" fill="none" stroke="#e59a2b" stroke-width="1.1"/><polygon points="149.3,514.6 152.2,519.82 146.4,519.82" fill="none" stroke="#e59a2b" stroke-width="1.1"/><polygon points="171,478.9 173.3,481.2 171,483.5 168.7,481.2" fill="#3a6b54"/><polygon points="171,492.6 173.3,494.9 171,497.2 168.7,494.9" fill="#3a6b54"/><polygon points="171,507 173.3,509.3 171,511.6 168.7,509.3" fill="#3a6b54"/><polygon points="191.7,519.3 194.2,521.8 191.7,524.3 189.2,521.8" fill="none" stroke="#8a80cc" stroke-width="1.1"/><polygon points="196,523.1 198.5,525.6 196,528.1 193.5,525.6" fill="none" stroke="#8a80cc" stroke-width="1.1"/><polygon points="201.3,522 203.8,524.5 201.3,527 198.8,524.5" fill="none" stroke="#8a80cc" stroke-width="1.1"/><path d="M51.7 448.8V560.6H213.9M47.2 560.5H51.7M47.2 524.5H51.7M47.2 488.5H51.7M47.2 452H51.7M68.4 560.6v4.5M94 560.6v4.5M120 560.6v4.5M145.6 560.6v4.5M170.9 560.6v4.5M196.6 560.6v4.5" stroke="#0a0a0a" stroke-width="1.6" fill="none"/><text x="42.5" y="563.9" font-size="9.1" text-anchor="end" textLength="11.52" lengthAdjust="spacingAndGlyphs">0.0</text><text x="42.5" y="527.9" font-size="9.1" text-anchor="end" textLength="11.52" lengthAdjust="spacingAndGlyphs">0.5</text><text x="42.5" y="491.9" font-size="9.1" text-anchor="end" textLength="11.52" lengthAdjust="spacingAndGlyphs">1.0</text><text x="42.5" y="455.4" font-size="9.1" text-anchor="end" textLength="11.52" lengthAdjust="spacingAndGlyphs">1.5</text><text x="68.4" y="578.2" font-size="9.1" text-anchor="middle" textLength="4.43" lengthAdjust="spacingAndGlyphs">0</text><text x="94" y="578.2" font-size="9.1" text-anchor="middle" textLength="4.43" lengthAdjust="spacingAndGlyphs">3</text><text x="120" y="578.2" font-size="9.1" text-anchor="middle" textLength="9.15" lengthAdjust="spacingAndGlyphs">10</text><text x="145.6" y="578.2" font-size="9.1" text-anchor="middle" textLength="9.15" lengthAdjust="spacingAndGlyphs">14</text><text x="170.9" y="578.2" font-size="9.1" text-anchor="middle" textLength="9.15" lengthAdjust="spacingAndGlyphs">21</text><text x="196.6" y="578.2" font-size="9.1" text-anchor="middle" textLength="9.15" lengthAdjust="spacingAndGlyphs">38</text><text x="22.1" y="504.05" font-size="11.5" text-anchor="middle" textLength="76.71" lengthAdjust="spacingAndGlyphs" transform="rotate(-90 22.1 504.05)">IgG2c (mg/ml)</text><path d="M100.8 504H120.4M100.8 502.4v3.2M120.4 502.4v3.2" stroke="#111" stroke-width="1.2" fill="none"/><path d="M105.45 497.55L105.45 500.65M104.11 498.33L106.79 499.88M106.79 498.33L104.11 499.88M109.15 497.55L109.15 500.65M107.81 498.33L110.49 499.88M110.49 498.33L107.81 499.88M112.85 497.55L112.85 500.65M111.51 498.33L114.19 499.88M114.19 498.33L111.51 499.88M116.55 497.55L116.55 500.65M115.21 498.33L117.89 499.88M117.89 498.33L115.21 499.88" stroke="#2a2a2a" stroke-width=".75" fill="none"/><path d="M170.8 474.3H191M170.8 472.7v3.2M191 472.7v3.2" stroke="#111" stroke-width="1.2" fill="none"/><path d="M180.7 467.95L180.7 471.05M179.36 468.73L182.04 470.27M182.04 468.73L179.36 470.27" stroke="#2a2a2a" stroke-width=".75" fill="none"/><rect x="292.6" y="557" width="16" height="3.8" fill="none" stroke="#ab0a3a" stroke-width="1.3"/><rect x="344.1" y="520.9" width="16" height="39.9" fill="none" stroke="#4f2270" stroke-width="1.3"/><rect x="369.6" y="529.4" width="16" height="31.4" fill="none" stroke="#e59a2b" stroke-width="1.3"/><rect x="395" y="491.3" width="16" height="69.5" fill="none" stroke="#3a6b54" stroke-width="1.3"/><rect x="420.7" y="536.6" width="16" height="24.2" fill="none" stroke="#8a80cc" stroke-width="1.3"/><path d="M352.1 516.7V523.5M347.6 516.7h9M347.6 523.5h9" stroke="#111" stroke-width="1.3" fill="none"/><path d="M377.6 526V531.3M373.1 526h9M373.1 531.3h9" stroke="#111" stroke-width="1.3" fill="none"/><path d="M403 483.3V498.1M398.5 483.3h9M398.5 498.1h9" stroke="#111" stroke-width="1.3" fill="none"/><path d="M428.7 531.9V540M424.2 531.9h9M424.2 540h9" stroke="#111" stroke-width="1.3" fill="none"/><circle cx="296" cy="554.6" r="2.15" fill="#ab0a3a"/><circle cx="305.8" cy="554.6" r="2.15" fill="#ab0a3a"/><circle cx="294.2" cy="558.1" r="2.15" fill="#ab0a3a"/><circle cx="300.6" cy="557.5" r="2.15" fill="#ab0a3a"/><circle cx="308.1" cy="558.1" r="2.15" fill="#ab0a3a"/><circle cx="298" cy="559" r="2.15" fill="#ab0a3a"/><circle cx="303.5" cy="559" r="2.15" fill="#ab0a3a"/><circle cx="300.5" cy="561" r="2.15" fill="#ab0a3a"/><circle cx="321.3" cy="558.7" r="2.25" fill="none" stroke="#2d5a9b" stroke-width="1.1"/><circle cx="326.5" cy="559.2" r="2.25" fill="none" stroke="#2d5a9b" stroke-width="1.1"/><circle cx="331.7" cy="558.7" r="2.25" fill="none" stroke="#2d5a9b" stroke-width="1.1"/><polygon points="351.9,511.9 354.6,516.76 349.2,516.76" fill="#4f2270"/><polygon points="355.5,518.7 358.2,523.56 352.8,523.56" fill="#4f2270"/><polygon points="348.8,523.3 351.5,528.16 346.1,528.16" fill="#4f2270"/><polygon points="373.7,522.3 376.6,527.52 370.8,527.52" fill="none" stroke="#e59a2b" stroke-width="1.1"/><polygon points="381.1,522.7 384,527.92 378.2,527.92" fill="none" stroke="#e59a2b" stroke-width="1.1"/><polygon points="377.3,532.2 380.2,537.42 374.4,537.42" fill="none" stroke="#e59a2b" stroke-width="1.1"/><polygon points="402.7,475.7 405,478 402.7,480.3 400.4,478" fill="#3a6b54"/><polygon points="402.7,489 405,491.3 402.7,493.6 400.4,491.3" fill="#3a6b54"/><polygon points="402.7,501.7 405,504 402.7,506.3 400.4,504" fill="#3a6b54"/><polygon points="424.9,526.9 427.4,529.4 424.9,531.9 422.4,529.4" fill="none" stroke="#8a80cc" stroke-width="1.1"/><polygon points="431.9,532 434.4,534.5 431.9,537 429.4,534.5" fill="none" stroke="#8a80cc" stroke-width="1.1"/><polygon points="428.1,540.4 430.6,542.9 428.1,545.4 425.6,542.9" fill="none" stroke="#8a80cc" stroke-width="1.1"/><path d="M283.3 448.6V560.8H441.8M278.8 560.7H283.3M278.8 533.5H283.3M278.8 506.5H283.3M278.8 479.3H283.3M278.8 452.1H283.3M300.6 560.8v4.5M326.3 560.8v4.5M352.1 560.8v4.5M377.6 560.8v4.5M403 560.8v4.5M428.7 560.8v4.5" stroke="#0a0a0a" stroke-width="1.6" fill="none"/><text x="274.1" y="564.1" font-size="9.1" text-anchor="end" textLength="4.43" lengthAdjust="spacingAndGlyphs">0</text><text x="274.1" y="536.9" font-size="9.1" text-anchor="end" textLength="4.43" lengthAdjust="spacingAndGlyphs">1</text><text x="274.1" y="509.9" font-size="9.1" text-anchor="end" textLength="4.43" lengthAdjust="spacingAndGlyphs">2</text><text x="274.1" y="482.7" font-size="9.1" text-anchor="end" textLength="4.43" lengthAdjust="spacingAndGlyphs">3</text><text x="274.1" y="455.5" font-size="9.1" text-anchor="end" textLength="4.43" lengthAdjust="spacingAndGlyphs">4</text><text x="300.6" y="578.4" font-size="9.1" text-anchor="middle" textLength="4.43" lengthAdjust="spacingAndGlyphs">0</text><text x="326.3" y="578.4" font-size="9.1" text-anchor="middle" textLength="4.43" lengthAdjust="spacingAndGlyphs">3</text><text x="352.1" y="578.4" font-size="9.1" text-anchor="middle" textLength="9.15" lengthAdjust="spacingAndGlyphs">10</text><text x="377.6" y="578.4" font-size="9.1" text-anchor="middle" textLength="9.15" lengthAdjust="spacingAndGlyphs">14</text><text x="403" y="578.4" font-size="9.1" text-anchor="middle" textLength="9.15" lengthAdjust="spacingAndGlyphs">21</text><text x="428.7" y="578.4" font-size="9.1" text-anchor="middle" textLength="9.15" lengthAdjust="spacingAndGlyphs">38</text><text x="261.4" y="503.97" font-size="11.5" text-anchor="middle" textLength="70.94" lengthAdjust="spacingAndGlyphs" transform="rotate(-90 261.4 503.97)">IgG3 (mg/ml)</text><path d="M331.5 507.7H351.7M331.5 506.1v3.2M351.7 506.1v3.2" stroke="#111" stroke-width="1.2" fill="none"/><path d="M337.8 501.45L337.8 504.55M336.46 502.23L339.14 503.77M339.14 502.23L336.46 503.77M341.5 501.45L341.5 504.55M340.16 502.23L342.84 503.77M342.84 502.23L340.16 503.77M345.2 501.45L345.2 504.55M343.86 502.23L346.54 503.77M346.54 502.23L343.86 503.77" stroke="#2a2a2a" stroke-width=".75" fill="none"/><path d="M382 471.7H402.3M382 470.1v3.2M402.3 470.1v3.2" stroke="#111" stroke-width="1.2" fill="none"/><path d="M389.85 465.45L389.85 468.55M388.51 466.23L391.19 467.77M391.19 466.23L388.51 467.77M393.55 465.45L393.55 468.55M392.21 466.23L394.89 467.77M394.89 466.23L392.21 467.77" stroke="#2a2a2a" stroke-width=".75" fill="none"/><path d="M403.1 471.7H423.4M403.1 470.1v3.2M423.4 470.1v3.2" stroke="#111" stroke-width="1.2" fill="none"/><path d="M411.85 465.45L411.85 468.55M410.51 466.23L413.19 467.77M413.19 466.23L410.51 467.77M415.55 465.45L415.55 468.55M414.21 466.23L416.89 467.77M416.89 466.23L414.21 467.77" stroke="#2a2a2a" stroke-width=".75" fill="none"/><rect x="86.2" y="703.8" width="16" height="3.1" fill="none" stroke="#2d5a9b" stroke-width="1.3"/><rect x="111.8" y="637.2" width="16" height="69.7" fill="none" stroke="#4f2270" stroke-width="1.3"/><rect x="137.6" y="645.2" width="16" height="61.7" fill="none" stroke="#e59a2b" stroke-width="1.3"/><rect x="163" y="630.8" width="16" height="76.1" fill="none" stroke="#3a6b54" stroke-width="1.3"/><rect x="188.8" y="668.5" width="16" height="38.4" fill="none" stroke="#8a80cc" stroke-width="1.3"/><path d="M94.2 699.7V711M89.7 699.7h9M89.7 711h9" stroke="#111" stroke-width="1.3" fill="none"/><path d="M119.8 628.7V644.1M115.3 628.7h9M115.3 644.1h9" stroke="#111" stroke-width="1.3" fill="none"/><path d="M145.6 641.4V648.8M141.1 641.4h9M141.1 648.8h9" stroke="#111" stroke-width="1.3" fill="none"/><path d="M171 626.2V634.2M166.5 626.2h9M166.5 634.2h9" stroke="#111" stroke-width="1.3" fill="none"/><path d="M196.8 661.7V673.8M192.3 661.7h9M192.3 673.8h9" stroke="#111" stroke-width="1.3" fill="none"/><circle cx="63.5" cy="706.9" r="2.15" fill="#ab0a3a"/><circle cx="64.9" cy="706.9" r="2.15" fill="#ab0a3a"/><circle cx="66.3" cy="706.9" r="2.15" fill="#ab0a3a"/><circle cx="67.7" cy="706.9" r="2.15" fill="#ab0a3a"/><circle cx="69.1" cy="706.9" r="2.15" fill="#ab0a3a"/><circle cx="70.5" cy="706.9" r="2.15" fill="#ab0a3a"/><circle cx="71.9" cy="706.9" r="2.15" fill="#ab0a3a"/><circle cx="73.3" cy="706.9" r="2.15" fill="#ab0a3a"/><circle cx="74.7" cy="706.9" r="2.15" fill="#ab0a3a"/><circle cx="94.2" cy="695.6" r="2.25" fill="none" stroke="#2d5a9b" stroke-width="1.1"/><circle cx="90.6" cy="706.2" r="2.25" fill="none" stroke="#2d5a9b" stroke-width="1.1"/><circle cx="97.8" cy="706.2" r="2.25" fill="none" stroke="#2d5a9b" stroke-width="1.1"/><polygon points="116.6,623.5 119.3,628.36 113.9,628.36" fill="#4f2270"/><polygon points="123.6,629.8 126.3,634.66 120.9,634.66" fill="#4f2270"/><polygon points="119.8,649.3 122.5,654.16 117.1,654.16" fill="#4f2270"/><polygon points="145.2,635.5 148.1,640.72 142.3,640.72" fill="none" stroke="#e59a2b" stroke-width="1.1"/><polygon points="148.4,642.3 151.3,647.52 145.5,647.52" fill="none" stroke="#e59a2b" stroke-width="1.1"/><polygon points="142,649.1 144.9,654.32 139.1,654.32" fill="none" stroke="#e59a2b" stroke-width="1.1"/><polygon points="167.4,623.9 169.7,626.2 167.4,628.5 165.1,626.2" fill="#3a6b54"/><polygon points="174.8,623.9 177.1,626.2 174.8,628.5 172.5,626.2" fill="#3a6b54"/><polygon points="171,636.5 173.3,638.8 171,641.1 168.7,638.8" fill="#3a6b54"/><polygon points="192.8,655.4 195.3,657.9 192.8,660.4 190.3,657.9" fill="none" stroke="#8a80cc" stroke-width="1.1"/><polygon points="199.8,662.8 202.3,665.3 199.8,667.8 197.3,665.3" fill="none" stroke="#8a80cc" stroke-width="1.1"/><polygon points="196.4,677 198.9,679.5 196.4,682 193.9,679.5" fill="none" stroke="#8a80cc" stroke-width="1.1"/><path d="M51.7 594.7V706.9H213.9M47.2 706.9H51.7M47.2 680.1H51.7M47.2 653.1H51.7M47.2 626.1H51.7M47.2 599.3H51.7M68.4 706.9v4.5M94.2 706.9v4.5M119.8 706.9v4.5M145.6 706.9v4.5M171 706.9v4.5M196.8 706.9v4.5" stroke="#0a0a0a" stroke-width="1.6" fill="none"/><text x="42.5" y="710.3" font-size="9.1" text-anchor="end" textLength="4.43" lengthAdjust="spacingAndGlyphs">0</text><text x="42.5" y="683.5" font-size="9.1" text-anchor="end" textLength="9.15" lengthAdjust="spacingAndGlyphs">20</text><text x="42.5" y="656.5" font-size="9.1" text-anchor="end" textLength="9.15" lengthAdjust="spacingAndGlyphs">40</text><text x="42.5" y="629.5" font-size="9.1" text-anchor="end" textLength="9.15" lengthAdjust="spacingAndGlyphs">60</text><text x="42.5" y="602.7" font-size="9.1" text-anchor="end" textLength="9.15" lengthAdjust="spacingAndGlyphs">80</text><text x="68.4" y="724.8" font-size="9.1" text-anchor="middle" textLength="4.43" lengthAdjust="spacingAndGlyphs">0</text><text x="94.2" y="724.8" font-size="9.1" text-anchor="middle" textLength="4.43" lengthAdjust="spacingAndGlyphs">3</text><text x="119.8" y="724.8" font-size="9.1" text-anchor="middle" textLength="9.15" lengthAdjust="spacingAndGlyphs">10</text><text x="145.6" y="724.8" font-size="9.1" text-anchor="middle" textLength="9.15" lengthAdjust="spacingAndGlyphs">14</text><text x="171" y="724.8" font-size="9.1" text-anchor="middle" textLength="9.15" lengthAdjust="spacingAndGlyphs">21</text><text x="196.8" y="724.8" font-size="9.1" text-anchor="middle" textLength="9.15" lengthAdjust="spacingAndGlyphs">38</text><text x="23.2" y="650.47" font-size="11.5" text-anchor="middle" textLength="61.09" lengthAdjust="spacingAndGlyphs" transform="rotate(-90 23.2 650.47)">IgA (μg/ml)</text><path d="M100.8 619.6H120.4M100.8 618v3.2M120.4 618v3.2" stroke="#111" stroke-width="1.2" fill="none"/><path d="M109.05 612.95L109.05 616.05M107.71 613.73L110.39 615.27M110.39 613.73L107.71 615.27M112.75 612.95L112.75 616.05M111.41 613.73L114.09 615.27M114.09 613.73L111.41 615.27" stroke="#2a2a2a" stroke-width=".75" fill="none"/><path d="M172.2 617.3H192.2M172.2 615.7v3.2M192.2 615.7v3.2" stroke="#111" stroke-width="1.2" fill="none"/><path d="M180.35 610.85L180.35 613.95M179.01 611.62L181.69 613.17M181.69 611.62L179.01 613.17M184.05 610.85L184.05 613.95M182.71 611.62L185.39 613.17M185.39 611.62L182.71 613.17" stroke="#2a2a2a" stroke-width=".75" fill="none"/><text x="82.4" y="742.25" font-size="12" textLength="101.1" lengthAdjust="spacingAndGlyphs">Days post infection</text><rect x="288.5" y="704.5" width="16" height="2.6" fill="none" stroke="#ab0a3a" stroke-width="1.3"/><rect x="314.1" y="705" width="16" height="2.1" fill="none" stroke="#2d5a9b" stroke-width="1.3"/><rect x="339.5" y="648.5" width="16" height="58.6" fill="none" stroke="#4f2270" stroke-width="1.3"/><rect x="365" y="651.5" width="16" height="55.6" fill="none" stroke="#e59a2b" stroke-width="1.3"/><rect x="390.5" y="636.4" width="16" height="70.7" fill="none" stroke="#3a6b54" stroke-width="1.3"/><rect x="416" y="671.3" width="16" height="35.8" fill="none" stroke="#8a80cc" stroke-width="1.3"/><path d="M347.5 644.9V652.3M343 644.9h9M343 652.3h9" stroke="#111" stroke-width="1.3" fill="none"/><path d="M373 649.1V654M368.5 649.1h9M368.5 654h9" stroke="#111" stroke-width="1.3" fill="none"/><path d="M398.5 633.3V639.2M394 633.3h9M394 639.2h9" stroke="#111" stroke-width="1.3" fill="none"/><path d="M424 667.1V674.5M419.5 667.1h9M419.5 674.5h9" stroke="#111" stroke-width="1.3" fill="none"/><circle cx="296.5" cy="697.9" r="2.15" fill="#ab0a3a"/><circle cx="291.3" cy="703.5" r="2.15" fill="#ab0a3a"/><circle cx="289" cy="706" r="2.15" fill="#ab0a3a"/><circle cx="293" cy="706.3" r="2.15" fill="#ab0a3a"/><circle cx="297" cy="706.3" r="2.15" fill="#ab0a3a"/><circle cx="301" cy="706.3" r="2.15" fill="#ab0a3a"/><circle cx="304.5" cy="706" r="2.15" fill="#ab0a3a"/><circle cx="316.7" cy="704" r="2.25" fill="none" stroke="#2d5a9b" stroke-width="1.1"/><circle cx="321.9" cy="706.3" r="2.25" fill="none" stroke="#2d5a9b" stroke-width="1.1"/><circle cx="327.7" cy="706.9" r="2.25" fill="none" stroke="#2d5a9b" stroke-width="1.1"/><polygon points="343.9,642 346.8,647.22 341,647.22" fill="none" stroke="#4f2270" stroke-width="1.1"/><polygon points="350.9,642 353.8,647.22 348,647.22" fill="none" stroke="#4f2270" stroke-width="1.1"/><polygon points="347.3,653.2 350.2,658.42 344.4,658.42" fill="none" stroke="#4f2270" stroke-width="1.1"/><polygon points="372.7,644.7 375,647 372.7,649.3 370.4,647" fill="#e59a2b"/><polygon points="369.9,653.2 372.2,655.5 369.9,657.8 367.6,655.5" fill="#e59a2b"/><polygon points="375.2,649 377.5,651.3 375.2,653.6 372.9,651.3" fill="#e59a2b"/><polygon points="398.5,627.6 401,630.1 398.5,632.6 396,630.1" fill="none" stroke="#3a6b54" stroke-width="1.1"/><polygon points="394.9,638.2 397.4,640.7 394.9,643.2 392.4,640.7" fill="none" stroke="#3a6b54" stroke-width="1.1"/><polygon points="402.3,636.7 404.8,639.2 402.3,641.7 399.8,639.2" fill="none" stroke="#3a6b54" stroke-width="1.1"/><circle cx="420" cy="666.7" r="2.15" fill="#8a80cc"/><circle cx="427.4" cy="667.1" r="2.15" fill="#8a80cc"/><circle cx="423.9" cy="678.1" r="2.15" fill="#8a80cc"/><path d="M283.6 601.2V707.1H436.9M279.1 707.1H283.6M279.1 681.6H283.6M279.1 656.2H283.6M279.1 630.8H283.6M279.1 605.2H283.6M296.5 707.1v4.5M322.1 707.1v4.5M347.5 707.1v4.5M373 707.1v4.5M398.5 707.1v4.5M424 707.1v4.5" stroke="#0a0a0a" stroke-width="1.6" fill="none"/><text x="274.4" y="710.5" font-size="9.1" text-anchor="end" textLength="4.43" lengthAdjust="spacingAndGlyphs">0</text><text x="274.4" y="685" font-size="9.1" text-anchor="end" textLength="9.15" lengthAdjust="spacingAndGlyphs">20</text><text x="274.4" y="659.6" font-size="9.1" text-anchor="end" textLength="9.15" lengthAdjust="spacingAndGlyphs">40</text><text x="274.4" y="634.2" font-size="9.1" text-anchor="end" textLength="9.15" lengthAdjust="spacingAndGlyphs">60</text><text x="274.4" y="608.6" font-size="9.1" text-anchor="end" textLength="9.15" lengthAdjust="spacingAndGlyphs">80</text><text x="296.5" y="725" font-size="9.1" text-anchor="middle" textLength="4.43" lengthAdjust="spacingAndGlyphs">0</text><text x="322.1" y="725" font-size="9.1" text-anchor="middle" textLength="4.43" lengthAdjust="spacingAndGlyphs">3</text><text x="347.5" y="725" font-size="9.1" text-anchor="middle" textLength="9.15" lengthAdjust="spacingAndGlyphs">10</text><text x="373" y="725" font-size="9.1" text-anchor="middle" textLength="9.15" lengthAdjust="spacingAndGlyphs">14</text><text x="398.5" y="725" font-size="9.1" text-anchor="middle" textLength="9.15" lengthAdjust="spacingAndGlyphs">21</text><text x="424" y="725" font-size="9.1" text-anchor="middle" textLength="9.15" lengthAdjust="spacingAndGlyphs">38</text><text x="254.7" y="654.2" font-size="11.5" text-anchor="middle" textLength="59.35" lengthAdjust="spacingAndGlyphs" transform="rotate(-90 254.7 654.2)">IgE (μg/ml)</text><path d="M320.2 632.4H339.6M320.2 630.8v3.2M339.6 630.8v3.2" stroke="#111" stroke-width="1.2" fill="none"/><path d="M326.3 626.45L326.3 629.55M324.96 627.23L327.64 628.77M327.64 627.23L324.96 628.77M330 626.45L330 629.55M328.66 627.23L331.34 628.77M331.34 627.23L328.66 628.77M333.7 626.45L333.7 629.55M332.36 627.23L335.04 628.77M335.04 627.23L332.36 628.77" stroke="#2a2a2a" stroke-width=".75" fill="none"/><path d="M373.1 621H391.7M373.1 619.4v3.2M391.7 619.4v3.2" stroke="#111" stroke-width="1.2" fill="none"/><path d="M382.6 614.35L382.6 617.45M381.26 615.12L383.94 616.67M383.94 615.12L381.26 616.67" stroke="#2a2a2a" stroke-width=".75" fill="none"/><path d="M402.7 618H420.7M402.7 616.4v3.2M420.7 616.4v3.2" stroke="#111" stroke-width="1.2" fill="none"/><path d="M409.75 611.65L409.75 614.75M408.41 612.43L411.09 613.98M411.09 612.43L408.41 613.98M413.45 611.65L413.45 614.75M412.11 612.43L414.79 613.98M414.79 612.43L412.11 613.98" stroke="#2a2a2a" stroke-width=".75" fill="none"/><text x="309.65" y="742.05" font-size="12" textLength="101.65" lengthAdjust="spacingAndGlyphs">Days post infection</text><rect x="55.15" y="878.3" width="15.5" height="13.5" fill="none" stroke="#ab0a3a" stroke-width="1.3"/><rect x="77.55" y="868" width="15.5" height="23.8" fill="none" stroke="#2d5a9b" stroke-width="1.3"/><rect x="100.25" y="839.4" width="15.5" height="52.4" fill="none" stroke="#5fae3a" stroke-width="1.3"/><rect x="122.75" y="844.6" width="15.5" height="47.2" fill="none" stroke="#5a2b80" stroke-width="1.3"/><rect x="145.25" y="833.3" width="15.5" height="58.5" fill="none" stroke="#e59a2b" stroke-width="1.3"/><rect x="167.75" y="834.2" width="15.5" height="57.6" fill="none" stroke="#3a6b54" stroke-width="1.3"/><rect x="190.25" y="846" width="15.5" height="45.8" fill="none" stroke="#8a80cc" stroke-width="1.3"/><path d="M62.9 876V882M58.9 876h8M58.9 882h8" stroke="#111" stroke-width="1.3" fill="none"/><path d="M85.3 866V868.5M81.3 866h8M81.3 868.5h8" stroke="#111" stroke-width="1.3" fill="none"/><path d="M108 834.7V843.1M104 834.7h8M104 843.1h8" stroke="#111" stroke-width="1.3" fill="none"/><path d="M130.5 831.4V857M126.5 831.4h8M126.5 857h8" stroke="#111" stroke-width="1.3" fill="none"/><path d="M153 823.6V842.9M149 823.6h8M149 842.9h8" stroke="#111" stroke-width="1.3" fill="none"/><path d="M175.5 831.4V836.3M171.5 831.4h8M171.5 836.3h8" stroke="#111" stroke-width="1.3" fill="none"/><path d="M198 840.7V850.5M194 840.7h8M194 850.5h8" stroke="#111" stroke-width="1.3" fill="none"/><circle cx="63" cy="856.8" r="1.89" fill="#ab0a3a"/><circle cx="63" cy="869.7" r="1.89" fill="#ab0a3a"/><circle cx="56" cy="873.8" r="1.89" fill="#ab0a3a"/><circle cx="69.5" cy="878.1" r="1.89" fill="#ab0a3a"/><circle cx="60.1" cy="880.8" r="1.89" fill="#ab0a3a"/><circle cx="65.5" cy="880.5" r="1.89" fill="#ab0a3a"/><circle cx="62.8" cy="885.5" r="1.89" fill="#ab0a3a"/><circle cx="67" cy="883" r="1.89" fill="#ab0a3a"/><circle cx="57.5" cy="877.5" r="1.89" fill="#ab0a3a"/><circle cx="64" cy="878" r="1.89" fill="#ab0a3a"/><circle cx="81.9" cy="865.3" r="1.99" fill="none" stroke="#2d5a9b" stroke-width="1.1"/><circle cx="89.7" cy="866" r="1.99" fill="none" stroke="#2d5a9b" stroke-width="1.1"/><circle cx="85.4" cy="870.7" r="1.99" fill="none" stroke="#2d5a9b" stroke-width="1.1"/><polygon points="104.5,831.92 106.88,836.2 102.12,836.2" fill="#5fae3a"/><polygon points="111.9,833.32 114.28,837.6 109.52,837.6" fill="#5fae3a"/><polygon points="107.9,845.02 110.28,849.3 105.52,849.3" fill="#5fae3a"/><polygon points="126.8,826.65 129.35,831.24 124.25,831.24" fill="none" stroke="#5a2b80" stroke-width="1.1"/><polygon points="133.9,832.85 136.45,837.44 131.35,837.44" fill="none" stroke="#5a2b80" stroke-width="1.1"/><polygon points="130.4,867.35 132.95,871.94 127.85,871.94" fill="none" stroke="#5a2b80" stroke-width="1.1"/><polygon points="152.9,815.68 154.92,817.7 152.9,819.72 150.88,817.7" fill="#e59a2b"/><polygon points="152.9,828.08 154.92,830.1 152.9,832.12 150.88,830.1" fill="#e59a2b"/><polygon points="152.9,848.98 154.92,851 152.9,853.02 150.88,851" fill="#e59a2b"/><polygon points="175,826.7 177.2,828.9 175,831.1 172.8,828.9" fill="none" stroke="#3a6b54" stroke-width="1.1"/><polygon points="172,835 174.2,837.2 172,839.4 169.8,837.2" fill="none" stroke="#3a6b54" stroke-width="1.1"/><polygon points="178.5,833.2 180.7,835.4 178.5,837.6 176.3,835.4" fill="none" stroke="#3a6b54" stroke-width="1.1"/><circle cx="198" cy="834.9" r="1.89" fill="#8a80cc"/><circle cx="194.1" cy="851.3" r="1.89" fill="#8a80cc"/><circle cx="200.8" cy="850.8" r="1.89" fill="#8a80cc"/><path d="M52 783.75V891.8H209M47.5 891.75H52M47.5 870.75H52M47.5 850H52M47.5 829H52M47.5 808H52M47.5 787H52M62.9 891.8v4.5M85.3 891.8v4.5M108 891.8v4.5M130.5 891.8v4.5M153 891.8v4.5M175.5 891.8v4.5M198 891.8v4.5" stroke="#0a0a0a" stroke-width="1.6" fill="none"/><text x="42.8" y="895.15" font-size="9.1" text-anchor="end" textLength="11.52" lengthAdjust="spacingAndGlyphs">0.0</text><text x="42.8" y="874.15" font-size="9.1" text-anchor="end" textLength="11.52" lengthAdjust="spacingAndGlyphs">0.2</text><text x="42.8" y="853.4" font-size="9.1" text-anchor="end" textLength="11.52" lengthAdjust="spacingAndGlyphs">0.4</text><text x="42.8" y="832.4" font-size="9.1" text-anchor="end" textLength="11.52" lengthAdjust="spacingAndGlyphs">0.6</text><text x="42.8" y="811.4" font-size="9.1" text-anchor="end" textLength="11.52" lengthAdjust="spacingAndGlyphs">0.8</text><text x="42.8" y="790.4" font-size="9.1" text-anchor="end" textLength="11.52" lengthAdjust="spacingAndGlyphs">1.0</text><text x="62.9" y="909.7" font-size="9.1" text-anchor="middle" textLength="4.43" lengthAdjust="spacingAndGlyphs">0</text><text x="85.3" y="909.7" font-size="9.1" text-anchor="middle" textLength="4.43" lengthAdjust="spacingAndGlyphs">3</text><text x="108" y="909.7" font-size="9.1" text-anchor="middle" textLength="4.43" lengthAdjust="spacingAndGlyphs">7</text><text x="130.5" y="909.7" font-size="9.1" text-anchor="middle" textLength="9.15" lengthAdjust="spacingAndGlyphs">10</text><text x="153" y="909.7" font-size="9.1" text-anchor="middle" textLength="9.15" lengthAdjust="spacingAndGlyphs">14</text><text x="175.5" y="909.7" font-size="9.1" text-anchor="middle" textLength="9.15" lengthAdjust="spacingAndGlyphs">21</text><text x="198" y="909.7" font-size="9.1" text-anchor="middle" textLength="9.15" lengthAdjust="spacingAndGlyphs">38</text><text x="21.5" y="837.75" font-size="11.5" text-anchor="middle" textLength="58.23" lengthAdjust="spacingAndGlyphs" transform="rotate(-90 21.5 837.75)">IgM (A450)</text><path d="M86.3 821.9H105.6M86.3 820.3v3.2M105.6 820.3v3.2" stroke="#111" stroke-width="1.2" fill="none"/><path d="M94.25 815.95L94.25 819.05M92.91 816.73L95.59 818.27M95.59 816.73L92.91 818.27M97.95 815.95L97.95 819.05M96.61 816.73L99.29 818.27M99.29 816.73L96.61 818.27" stroke="#2a2a2a" stroke-width=".75" fill="none"/><text x="79.85" y="927" font-size="12" textLength="101.45" lengthAdjust="spacingAndGlyphs">Days post infection</text><rect x="280.95" y="889.8" width="15.5" height="2.2" fill="none" stroke="#ab0a3a" stroke-width="1.3"/><rect x="303.65" y="888.5" width="15.5" height="3.5" fill="none" stroke="#2d5a9b" stroke-width="1.3"/><rect x="326.25" y="873.3" width="15.5" height="18.7" fill="none" stroke="#5fae3a" stroke-width="1.3"/><rect x="348.85" y="866.2" width="15.5" height="25.8" fill="none" stroke="#5a2b80" stroke-width="1.3"/><rect x="371.25" y="854" width="15.5" height="38" fill="none" stroke="#e59a2b" stroke-width="1.3"/><rect x="393.75" y="837.1" width="15.5" height="54.9" fill="none" stroke="#3a6b54" stroke-width="1.3"/><rect x="416.25" y="826.7" width="15.5" height="65.3" fill="none" stroke="#8a80cc" stroke-width="1.3"/><path d="M334 870.8V874.9M330 870.8h8M330 874.9h8" stroke="#111" stroke-width="1.3" fill="none"/><path d="M356.6 858.8V872.3M352.6 858.8h8M352.6 872.3h8" stroke="#111" stroke-width="1.3" fill="none"/><path d="M379 846.3V860.8M375 846.3h8M375 860.8h8" stroke="#111" stroke-width="1.3" fill="none"/><path d="M401.5 832.9V841.2M397.5 832.9h8M397.5 841.2h8" stroke="#111" stroke-width="1.3" fill="none"/><path d="M424 816.9V835.8M420 816.9h8M420 835.8h8" stroke="#111" stroke-width="1.3" fill="none"/><circle cx="285.4" cy="886.7" r="1.89" fill="#ab0a3a"/><circle cx="292.8" cy="887.4" r="1.89" fill="#ab0a3a"/><circle cx="288.8" cy="890.1" r="1.89" fill="#ab0a3a"/><circle cx="283.5" cy="889.5" r="1.89" fill="#ab0a3a"/><circle cx="294.5" cy="889.8" r="1.89" fill="#ab0a3a"/><circle cx="290.5" cy="889" r="1.89" fill="#ab0a3a"/><circle cx="287" cy="891" r="1.89" fill="#ab0a3a"/><circle cx="291" cy="891.5" r="1.89" fill="#ab0a3a"/><circle cx="306.9" cy="888.6" r="1.99" fill="none" stroke="#2d5a9b" stroke-width="1.1"/><circle cx="311.6" cy="888.6" r="1.99" fill="none" stroke="#2d5a9b" stroke-width="1.1"/><circle cx="316.4" cy="888.6" r="1.99" fill="none" stroke="#2d5a9b" stroke-width="1.1"/><polygon points="329.8,866.62 332.18,870.9 327.42,870.9" fill="#5fae3a"/><polygon points="334.5,873.62 336.88,877.9 332.12,877.9" fill="#5fae3a"/><polygon points="337.9,873.62 340.28,877.9 335.52,877.9" fill="#5fae3a"/><polygon points="356.7,851.45 359.25,856.04 354.15,856.04" fill="none" stroke="#5a2b80" stroke-width="1.1"/><polygon points="356.7,863.95 359.25,868.54 354.15,868.54" fill="none" stroke="#5a2b80" stroke-width="1.1"/><polygon points="356.7,874.55 359.25,879.14 354.15,879.14" fill="none" stroke="#5a2b80" stroke-width="1.1"/><polygon points="379,837.18 381.02,839.2 379,841.22 376.98,839.2" fill="#e59a2b"/><polygon points="375.6,861.08 377.62,863.1 375.6,865.12 373.58,863.1" fill="#e59a2b"/><polygon points="382.3,856.48 384.32,858.5 382.3,860.52 380.28,858.5" fill="#e59a2b"/><polygon points="397.7,830.1 399.9,832.3 397.7,834.5 395.5,832.3" fill="none" stroke="#3a6b54" stroke-width="1.1"/><polygon points="405,830.1 407.2,832.3 405,834.5 402.8,832.3" fill="none" stroke="#3a6b54" stroke-width="1.1"/><polygon points="401.2,842.2 403.4,844.4 401.2,846.6 399,844.4" fill="none" stroke="#3a6b54" stroke-width="1.1"/><circle cx="423.7" cy="810.4" r="1.89" fill="#8a80cc"/><circle cx="423.7" cy="826.2" r="1.89" fill="#8a80cc"/><circle cx="423.7" cy="842.5" r="1.89" fill="#8a80cc"/><path d="M278.2 783.1V892H434.9M273.7 892.1H278.2M273.7 871.4H278.2M273.7 850.4H278.2M273.7 829.4H278.2M273.7 808.7H278.2M273.7 787.7H278.2M288.7 892v4.5M311.4 892v4.5M334 892v4.5M356.6 892v4.5M379 892v4.5M401.5 892v4.5M424 892v4.5" stroke="#0a0a0a" stroke-width="1.6" fill="none"/><text x="269" y="895.5" font-size="9.1" text-anchor="end" textLength="11.52" lengthAdjust="spacingAndGlyphs">0.0</text><text x="269" y="874.8" font-size="9.1" text-anchor="end" textLength="11.52" lengthAdjust="spacingAndGlyphs">0.2</text><text x="269" y="853.8" font-size="9.1" text-anchor="end" textLength="11.52" lengthAdjust="spacingAndGlyphs">0.4</text><text x="269" y="832.8" font-size="9.1" text-anchor="end" textLength="11.52" lengthAdjust="spacingAndGlyphs">0.6</text><text x="269" y="812.1" font-size="9.1" text-anchor="end" textLength="11.52" lengthAdjust="spacingAndGlyphs">0.8</text><text x="269" y="791.1" font-size="9.1" text-anchor="end" textLength="11.52" lengthAdjust="spacingAndGlyphs">1.0</text><text x="288.7" y="909.7" font-size="9.1" text-anchor="middle" textLength="4.43" lengthAdjust="spacingAndGlyphs">0</text><text x="311.4" y="909.7" font-size="9.1" text-anchor="middle" textLength="4.43" lengthAdjust="spacingAndGlyphs">3</text><text x="334" y="909.7" font-size="9.1" text-anchor="middle" textLength="4.43" lengthAdjust="spacingAndGlyphs">7</text><text x="356.6" y="909.7" font-size="9.1" text-anchor="middle" textLength="9.15" lengthAdjust="spacingAndGlyphs">10</text><text x="379" y="909.7" font-size="9.1" text-anchor="middle" textLength="9.15" lengthAdjust="spacingAndGlyphs">14</text><text x="401.5" y="909.7" font-size="9.1" text-anchor="middle" textLength="9.15" lengthAdjust="spacingAndGlyphs">21</text><text x="424" y="909.7" font-size="9.1" text-anchor="middle" textLength="9.15" lengthAdjust="spacingAndGlyphs">38</text><text x="247.5" y="838" font-size="11.5" text-anchor="middle" textLength="55.51" lengthAdjust="spacingAndGlyphs" transform="rotate(-90 247.5 838)">IgG (A450)</text><path d="M313.7 861.6H332.8M313.7 860v3.2M332.8 860v3.2" stroke="#111" stroke-width="1.2" fill="none"/><path d="M321.65 855.55L321.65 858.65M320.31 856.33L322.99 857.88M322.99 856.33L320.31 857.88M325.35 855.55L325.35 858.65M324.01 856.33L326.69 857.88M326.69 856.33L324.01 857.88" stroke="#2a2a2a" stroke-width=".75" fill="none"/><path d="M336.9 820.3H398.6M336.9 818.7v3.2M398.6 818.7v3.2" stroke="#111" stroke-width="1.2" fill="none"/><path d="M366.05 814.65L366.05 817.75M364.71 815.43L367.39 816.98M367.39 815.43L364.71 816.98M369.75 814.65L369.75 817.75M368.41 815.43L371.09 816.98M371.09 815.43L368.41 816.98" stroke="#2a2a2a" stroke-width=".75" fill="none"/><path d="M336.9 797.6H421.3M336.9 796v3.2M421.3 796v3.2" stroke="#111" stroke-width="1.2" fill="none"/><path d="M377.55 791.55L377.55 794.65M376.21 792.33L378.89 793.88M378.89 792.33L376.21 793.88M381.25 791.55L381.25 794.65M379.91 792.33L382.59 793.88M382.59 792.33L379.91 793.88" stroke="#2a2a2a" stroke-width=".75" fill="none"/><text x="306" y="927" font-size="12" textLength="101.3" lengthAdjust="spacingAndGlyphs">Days post infection</text><text x="11.9" y="25.4" font-size="16.5" fill="#000" color="#000" textLength="10.2" lengthAdjust="spacingAndGlyphs" style="stroke-width:0">A</text><text x="318.9" y="25.4" font-size="16.5" fill="#000" color="#000" textLength="9.3" lengthAdjust="spacingAndGlyphs" style="stroke-width:0">B</text><text x="11" y="304" font-size="16.5" fill="#000" color="#000" textLength="11.2" lengthAdjust="spacingAndGlyphs" style="stroke-width:0">C</text><text x="11.4" y="782.7" font-size="16.5" fill="#000" color="#000" textLength="11.6" lengthAdjust="spacingAndGlyphs" style="stroke-width:0">D</text><path d="M0 0h1v941H0z" fill="#888"/><path d="M1 0h1.2v941H1zM0 0h520v1.7H0zM0 938.9h520V941H0z" fill="#0a0a0a"/><path d="M518 0h2v941h-2z" fill="#262626"/></svg></body></html>
